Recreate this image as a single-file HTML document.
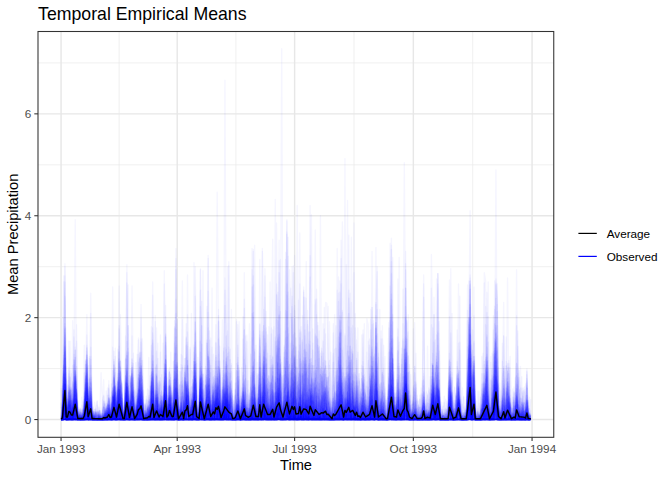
<!DOCTYPE html>
<html><head><meta charset="utf-8"><style>
html,body{margin:0;padding:0;background:#fff;width:672px;height:480px;overflow:hidden}
svg{display:block}
text{font-family:"Liberation Sans",sans-serif}
.ax{font-size:11.73px;fill:#4D4D4D}
.lg{font-size:11.73px;fill:#000}
.at{font-size:14.67px;fill:#000}
.ti{font-size:17.7px;fill:#000}
</style></head><body>
<svg width="672" height="480" viewBox="0 0 672 480">
<rect width="672" height="480" fill="#fff"/>
<line x1="38.0" x2="553.75" y1="368.60" y2="368.60" stroke="#EAEAEA" stroke-width="0.71"/>
<line x1="38.0" x2="553.75" y1="266.70" y2="266.70" stroke="#EAEAEA" stroke-width="0.71"/>
<line x1="38.0" x2="553.75" y1="164.80" y2="164.80" stroke="#EAEAEA" stroke-width="0.71"/>
<line x1="38.0" x2="553.75" y1="62.90" y2="62.90" stroke="#EAEAEA" stroke-width="0.71"/>
<line y1="31.5" y2="437.3" x1="119.13" x2="119.13" stroke="#EAEAEA" stroke-width="0.71"/>
<line y1="31.5" y2="437.3" x1="235.91" x2="235.91" stroke="#EAEAEA" stroke-width="0.71"/>
<line y1="31.5" y2="437.3" x1="353.98" x2="353.98" stroke="#EAEAEA" stroke-width="0.71"/>
<line y1="31.5" y2="437.3" x1="472.70" x2="472.70" stroke="#EAEAEA" stroke-width="0.71"/>
<line x1="38.0" x2="553.75" y1="419.55" y2="419.55" stroke="#E7E7E7" stroke-width="1.42"/>
<line x1="38.0" x2="553.75" y1="317.65" y2="317.65" stroke="#E7E7E7" stroke-width="1.42"/>
<line x1="38.0" x2="553.75" y1="215.75" y2="215.75" stroke="#E7E7E7" stroke-width="1.42"/>
<line x1="38.0" x2="553.75" y1="113.85" y2="113.85" stroke="#E7E7E7" stroke-width="1.42"/>
<line y1="31.5" y2="437.3" x1="61.06" x2="61.06" stroke="#E7E7E7" stroke-width="1.42"/>
<line y1="31.5" y2="437.3" x1="177.20" x2="177.20" stroke="#E7E7E7" stroke-width="1.42"/>
<line y1="31.5" y2="437.3" x1="294.62" x2="294.62" stroke="#E7E7E7" stroke-width="1.42"/>
<line y1="31.5" y2="437.3" x1="413.34" x2="413.34" stroke="#E7E7E7" stroke-width="1.42"/>
<line y1="31.5" y2="437.3" x1="532.06" x2="532.06" stroke="#E7E7E7" stroke-width="1.42"/>
<g transform="translate(61.06,419.55) scale(1.29041,-1.01900)" fill="none" stroke="#0000FF" stroke-opacity="0.04" stroke-width="1.42" stroke-linejoin="round"><path vector-effect="non-scaling-stroke" d="M0 0l1 3 1-3 1 46 1-46h6l1 12 1-12h1l1 3 1-3h1l1 6h1l1 13 1 10 1-23 1 21 1-27h11l1 16 1-16 1 24 1-23 1-1h1l1 32 1-1 1-11 1-20h1l1 13 1-13h2l1 22 1 37 1-55 1-4 1 5 1-5h1l1 8 1-4 1-4h9l1 26 1 7 1-21h1l1-12 1 4 1 6 1-6 1-4h2l1 4 1 79 1-83 1 5 1 11 1-16h11l1 12 1 12 1-18 1-6h1l1 26 1-26h4l1 24 1-24h2l1 10 1 10 1-20h3l1 24 1 5 1 13 1-31 1-7 1-4h2l1 70 1-35 1-35 1 6 1 145 1-151h5l1 73 1-73h1l1 17 1-17h2l1 8 1-8h2l1 14 1-14 1 12 1-8 1-1 1-3h3l1 3 1-3 1 13 1-13h2l1 4 1-4h1l1 36 1-36 1 7 1-5 1-2h2l1 31 1-31h1l1 28 1-15 1-13 1 17 1-15 1-2h5l1 9 1-4 1-5 1 12 1-12h1l1 14 1 16 1-30h2l1 5 1-5h3l1 3 1 13 1-16h5l1 21 1-20 1 9 1-8 1-2h2l1 1 1-1h5l1 46 1-22 1-17 1-7 1 17 1-17h3l1 1 1-1h1l1 2 1 1 1 8 1 19 1-30h9l1 2 1-2h3l1 4 1 8 1-9 1-3h1l1 1 1 28 1-22 1-7 1 5 1-5h3l1 8 1 1 1 1 1-10h7l1 16 1-16h1l1 4 1-4h3l1 34 1-34h2l1 39 1-39h6l1 19 1-10 1 1 1-10h3l1 33 1-33h3l1 2 1 2 1 27 1-31 1 27 1-27h9l1 11 1-11h8l1 35 1-35h4l1 2 1-2h4l1 2 1-2 1 7 1-7h4l1 23 1-23h5"/><path vector-effect="non-scaling-stroke" d="M0 0h5l1 16 1-16h2l1 19 1 42 1-53 1-8 1 1 1-1 1 4 1-4h2l1 12 1-12h1l1 59 1-59h10l1 12 1-12h3l1 24 1-20 1-4 1 9 1 28 1-37h4l1 21 1 3 1-8 1-8 1 8 1-16 1 23 1-21 1-2h7l1 2 1-2h1l1 6 1 35 1-41 1 2 1-2 1 12 1-12h3l1 7 1-7h2l1 9 1 13 1-17h1l1-5h8l1 49 1-46 1 13 1-16h3l1 36 1-36h7l1 13 1-13 1 8 1-8h1l1 6 1-6h4l1 72 1-72h1l1 5 1-5 1 1 1 28 1 5 1-12 1-22h3l1 14 1-6 1 14 1-22h2l1 2 1-2h10l1 72 1-72 1 7 1 1 1-2 1-6 1 27 1-23 1 6 1-1 1-9 1 5 1 34 1-36 1 3 1-6 1 15 1-15h2l1 1 1-1 1 1h1l1 11 1-12h1l1 2 1-2h1l1 12h1l1-12 1 2 1-2h1l1 47 1-36 1 28 1-39 1 8 1-8h10l1 11 1 41 1 6 1-58h1l1 56 1-44 1-7 1-5h4l1 26 1-26h3l1 42 1-42h2l1 104 1-91 1-13h3l1 19 1 16 1-8 1-27h1l1 5 1 3 1-8h1l1 1 1 59 1-42 1-18h7l1 15 1-10 1 12 1-9 1-1 1-7h1l1 18 1-12 1-6h3l1 101 1-96 1-5 1 6 1-2 1 4 1-4 1-4h8l1 2 1 4h1l1-5 1 12 1 8 1 99 1-113 1-7h6l1 1 1 1 1-2 1 10 1-7 1-3h5l1 1 1-1h3l1 3 1-3h2l1 12 1-12h6l1 35 1-35 1 3 1-3 1 22 1-7 1-15h4l1 36 1-36h14l1 49 1-49 1 7 1-7h2l1 7 1 2 1-4 1-5 1 2 1-2"/><path vector-effect="non-scaling-stroke" d="M0 0h2l1 11 1 1 1 2 1-14h3l1 42 1-34 1 12 1-20h5l1 19 1 26 1-45h2l1 2 1-2h3l1 1 1-1h6l1 4 1-4h6l1 31 1-31h1l1 13 1-13 1 15 1-15h1l1 12 1-8 1-4h1l1 1 1-1h1l1 23 1-23 1 55 1-40 1-14 1-1 1 5 1-2 1-3 1 6 1 12 1-18h2l1 67 1-59 1 1 1 2 1-11 1 8 1-8h2l1 6h1l1-6h10l1 8 1 6 1-11 1-3h7l1 2 1-2 1 21 1-9 1-8 1-4h7l1 19 1-4 1-4 1 8 1-19h1l1 3 1-3h1l1 12 1-12 1 4 1 2 1-6h3l1 10 1-10h1l1 21 1-4 1-13 1-4h3l1 26 1-26h2l1 1 1 4 1-5 1 65 1-65h1l1 17 1 10 1-27h1l1 5h1l1-5h2l1 13 1-8 1 44 1-40 1-9h5l1 24 1 9 1-6 1-7 1-18 1-2h11l1 18 1-18h1l1 5 1-5h9l1 8 1-8h3l1 6 1-6h2l1 51 1-51h2l1 21 1-11 1-10 1 45 1-21 1 12 1-32 1-4h5l1 7 1 11 1 76 1-69 1-17 1-8h1l1 2h1l1-2h5l1 9 1 19 1-28h2l1 1 1 20 1 7 1-28 1 22 1-22h2l1 3 1-3h5l1 28 1-14 1-14h2l1 5 1 3 1-2 1-6h14l1 9 1-9 1 3 1 4 1-7 1 3 1-2 1-1h2l1 46 1-46h4l1 37 1-9 1-28h7l1 14 1-14h1l1 17 1-17h7l1 23 1 24 1-44 1 2 1-5h10l1 5 1-2 1-3h1l1 2 1 2 1-4 1 6 1-6h2l1 9 1 16 1 17 1-42h1l1 2 1 14 1-12 1 3 1-7"/><path vector-effect="non-scaling-stroke" d="M0 0h5l1 19 1-13 1-6 1 2 1 62 1-64h7l1 6 1-6 1 4 1 36 1-40h11l1 11 1-11h5l1 26 1-26 1 21 1-11 1-10 1 35 1-35h2l1 19 1-19h2l1 39 1-20 1-19h4l1 19 1-19h4l1 2 1 8 1-10 1 42 1-42 1 9 1-9 1 22 1-22h1l1 18 1-13 1-5 1 53 1-53h2l1 4 1-4h2l1 21 1-21h2l1 13 1 10 1-23h1l1 8 1 26 1-27 1 1 1-8h1l1 19 1-19h4l1 12 1 3 1-15 1 6 1 28 1-26 1-8h2l1 18 1-18h2l1 31 1-31 1 37 1 61 1-94h1l1 22 1-20 1-6h5l1 5 1 42 1-47h1l1 6 1-6h1l1 27 1-18 1-8 1-1h1l1 6 1-6h3l1 4 1 2 1-6h1l1 52 1-52h5l1 3 1-3 1 4 1 52 1 24 1-47 1-9 1-22 1-1 1-1h2l1 2 1-2h7l1 16 1-16 1 10 1-10h1l1 19 1-19h5l1 2 1 80 1-16 1 5 1-60 1 40 1-50 1-1h1l1 2 1-2h5l1 5 1-3 1-2h4l1 21 1-19 1-2h3l1 3 1-3h7l1 15 1-12 1-3h1l1 1h1l1 29 1-15 1 14 1 1 1-30h6l1 5 1 1 1 60 1-25 1-29 1-12h2l1 3 1-3h5l1 26 1 40 1-66h11l1 7 1-7 1 16 1-16 1 5 1 1 1 13 1 23 1-41 1-1 1 6 1 11 1 6 1-23h2l1 23 1-23h2l1 39 1-28 1-7 1-4h1l1 3 1 9 1 37 1-42 1-7h2l1 6 1-4 1-2h1l1 16 1-16 1 56 1-43 1-4 1-8 1-1h3l1 4 1 26 1-30 1 3 1-3h2l1 6 1 14 1-7 1 106 1-119h1l1 36 1-36h3l1 3 1 8 1-11h2l1 6 1-2 1-4 1 48 1 24 1-52 1-20h4l1 12 1-12 1 1 1-1"/><path vector-effect="non-scaling-stroke" d="M0 0h1l1 8 1-8h2l1 19 1-1 1-18h1l1 17 1-17h11l1 21 1-21h1l1 4 1-2 1-2h5l1 6 1-6 1 14 1-14h2l1 6 1-6h2l1 29 1-29h4l1 13 1 23 1-14 1-22 1 14 1-14h2l1 12 1-12 1 19 1-19h2l1 3 1-1 1-2h3l1 11 1 17 1-28h1l1 21 1-21 1 5 1-5h2l1 23 1-4 1-11 1-8h1l1 16 1-16h1l1 14 1 144 1-136 1-20 1-2 1 16 1-16h1l1 46 1-46 1 24 1 6 1-8 1-16 1-3 1 28 1 15 1-43 1-3h2l1 22 1-22h3l1 18 1 22 1-31 1-9h4l1 22 1-9 1-2 1-11 1 13 1-8 1 20 1-25h1l1 2 1 36 1-38h13l1 13 1-4 1 5 1-14h3l1 47 1-47 1 28 1-28h2l1 6 1-4 1-2h10l1 9 1 38 1-39 1-8h2l1 55 1-29 1 11 1-37h5l1 10 1-6 1-2 1 18 1 1 1-20 1 40 1-41 1 5 1 53 1-58 1 1h1l1 3 1-2 1-1 1 10 1 21 1-27 1 11 1-16h3l1 5 1-5 1 5 1-5 1 3 1-3 1 10 1-10h1l1 2 1 7 1 110 1-41 1-78 1 11 1-5 1-6h3l1 27 1-17 1-8 1-2h1l1 5h1l1 2 1 10 1 7 1-20 1 35 1-34 1 70 1-75h2l1 11 1 62 1-73h2l1 5 1 7 1-12 1 11 1-11 1 1 1 5 1 13 1-19h2l1 79 1-47 1-32h1l1 14 1-14h16l1 12 1-12h1l1 20 1-19 1 44 1-45h1l1 3 1 1 1-4h3l1 24 1-23 1-1h13l1 128 1-116 1-12 1 1 1-1h1l1 7 1-7 1 9 1-9h2l1 49 1-38 1-11 1 9 1-9h2l1 30 1 49 1-79 1 5 1-5 1 7 1 16 1-23h1l1 10 1 12 1-22 1 15 1-15h3l1 13 1-6 1-7h5l1 5 1-5h2"/><path vector-effect="non-scaling-stroke" d="M0 0l1 12h1l1 2 1-2 1-12h3l1 17 1-17h12l1 10 1-10h12l1 5h1l1-5h7l1 6 1-6h1l1 16 1 29 1 87 1-132h14l1 20 1-20h3l1 10 1-10h6l1 15 1-15 1 12 1-12 1 21 1-17h1l1 15 1-19 1 20 1-20h4l1 16 1-11 1-5h4l1 33 1-22 1-11h3l1 13 1-1 1-12 1 6 1 11 1 18 1-2 1-30h1l1-3h2l1 32 1-4 1-28h1l1 1 1-1h1l1 30 1-30h3l1 3 1 9 1-12h5l1 8 1-8 1 1 1 16 1-8 1 2 1-11h2l1 16 1-16h3l1 1 1 26 1-27h2l1 11 1-9 1-2h1l1 35 1-35 1 7 1 3 1-10 1 10 1 34 1-39 1 6 1-11h2l1 16 1-12 1-4h2l1 4 1 67 1-52 1-12 1-7h2l1 34 1-34h3l1 1 1 7 1-8h3l1 3 1-3h2l1 11 1-11h8l1 17 1-14 1 12 1 5 1-12 1-7 1-1h8l1 5 1-5h7l1 3 1 3 1 67 1-62 1-11h5l1 9 1 5 1 32 1-46 1 2 1-1 1-1h3l1 9 1-6 1-3h3l1 1 1 5 1 8 1-10 1 125 1-113 1-16h18l1 55 1-48 1 2 1 10 1 30 1 18 1-62 1-1 1-4 1 1 1-1h10l1 12 1-12h1l1 2 1 8 1-10h2l1 22 1-14 1 15 1-23h6l1 25 1-3 1 39 1-61 1 5 1-5h2l1 22 1-17 1 37 1 64 1-106h1l1 2 1-1 1-1h3l1 10 1 5 1-15h1l1 27 1-27 1 1 1 3 1 10 1-11 1-3h3l1 18 1-18h1l1 2"/><path vector-effect="non-scaling-stroke" d="M0 0h1l1 34 1 1 1-35h8l1 7 1-7h4l1 6 1 26 1-25 1 12 1 7 1-14 1-12 1 3 1-3h6l1 5 1 5 1 4 1-14h2l1 27 1-9 1-18 1 6 1 15 1 23 1 13 1-57h1l1 6 1 6 1 122 1-103 1-31h4l1 4 1 4 1 20 1-13 1-15h4l1 12 1-12 1 20h1l1-3 1-15 1-2h1l1 6 1 9 1-9 1-6h2l1 6 1-6h3l1 3 1-3h1l1 10 1 19 1-29h5l1 14 1 14 1-28h2l1 13 1-8 1 14 1-7 1-12h6l1 20 1 10 1-30h1l1 8 1 17 1-25h5l1 32 1-6 1-8 1 15 1-16 1-8 1 18 1-12 1-15h6l1 2 1-2 1 13 1-13h2l1 3 1-3h1l1 51 1-48 1-3 1 20 1-20 1 4 1-4h2l1 4 1-2 1 15 1-17h1l1 15 1-15h3l1 40 1-40 1 12 1-12h2l1 7 1-7h1l1 8 1 11 1-11 1 20h1l1-28h1l1 14 1 1 1-15h1l1 1 1-1h4l1 24 1-24h8l1 3 1-1 1-2 1 6 1-3 1 4 1-7h1l1 8 1-2 1 29 1 81 1-116h4l1 6 1 40 1-46h1l1 1 1-1h2l1 6 1-6h1l1 17 1-17h2l1 14 1-14h3l1 34 1-18 1-15 1-1 1 28 1-28h1l1 29 1-29h5l1 4 1 19 1-23h2l1 16 1-16h9l1 11 1-11 1 22 1-2 1-20h4l1 7 1-7h1l1 10 1-10 1 16 1-14 1 1 1 7 1-6 1 2 1 9 1 128 1-143h1l1 3 1-3h7l1 6 1-6h4l1 5 1-5h2l1 2 1 46 1-15 1 10 1 21 1-64 1 22 1-22h4l1 45 1-40 1-5h1l1 8 1-6 1-2h4l1 44 1-44h4l1 10 1-10h1l1 19 1-7 1-8h1l1-4h4l1 7 1 24 1-31h7"/><path vector-effect="non-scaling-stroke" d="M0 0h1l1 7 1 83 1-90h13l1 18 1 3 1-3 1-18h16l1 2 1-2 1 38 1 19 1-57h3l1 19 1 17 1-36h1l1 14 1-14h7l1 14 1-14 1 7 1-7 1 36 1-32 1-3 1-1h1l1 18 1-18h4l1 24 1-24h2l1 5 1-5 1 11 1-11h1l1 23 1-23 1 6 1 22 1-15 1-13h5l1 5 1-5 1 14 1 7 1-4 1-17h8l1 49 1-42 1-7 1 2 1-2 1 39 1 28 1-63 1-4h1l1 27 1-27h1l1 13 1 9 1-2 1-20h2l1 11 1-11 1 33 1-33 1 17 1 13 1-24 1-6h1l1 1 1 14 1-15h1l1 26 1-26h7l1 3 1 22 1-25 1 3 1-3 1 9 1-9 1 86 1-70 1-16h3l1 135 1-135 1 9 1-9 1 13 1 8 1-20 1-1h3l1 14 1 17 1-31 1 52 1-46 1 22 1 22 1-50h8l1 1h1l1-1 1 26 1 9 1-17 1 7 1-21 1 3 1 1 1-8 1 23 1-23h2l1 27 1-27h5l1 14 1-14h4l1 21 1-21h1l1 10 1 36 1-43 1-3h1l1 10 1-5 1-5 1 11 1-11 1 10 1-10h10l1 57 1-57h11l1 17 1 17 1-21 1-12 1-1h3l1 4 1-4h2l1 26 1-26 1 6 1-6h15l1 5 1-5 1 21 1-21h1l1 17 1-17h4l1 2 1-2h2l1 32 1-32h1l1 5 1-5h10l1 68 1-68h2l1 19 1-19h5l1 1 1 4 1 12 1-10 1-7h1l1 56 1-44 1-12 1 44 1-2 1-42h1l1 18 1-18h3l1 18 1 3 1-21h5l1 25 1-25h3l1 31 1-28 1-3h2l1 3 1 17"/><path vector-effect="non-scaling-stroke" d="M0 0h2l1 17 1-17h4l1 14 1 35 1 9 1-58h1l1 12 1-11 1-1h3l1 12 1-12h5l1 5 1 2 1-7h1l1 3 1 1 1 35 1-39h2l1 7 1-3 1-4 1 23 1-23 1 70 1-70h2l1 3 1 24 1-27h10l1 24 1-11 1-13h10l1 8 1-8h6l1 27 1 57 1-82 1-2 1 39 1-39h1l1 10 1-10 1 13 1-13h2l1 5 1-5h1l1 17 1 4 1 2 1-23 1 9 1 1 1-10 1 10 1 29 1-39 1 5 1-5h1l1 27 1-18 1-9h1l1 6 1 11 1-17h2l1 3h1l1 21 1-5 1-19 1 29 1-29h1l1 8 1-8h1l1 7 1 2 1-9h5l1 16 1-14 1-2 1 11 1-10 1 4 1 7 1 26 1-38h2l1 35 1 5 1 7 1-47 1 6 1-6h2l1 5 1 1 1-1 1 5 1-10h1l1 34 1-17 1-12 1-5 1 7 1 2 1 22 1-27 1 41 1-45 1 6 1-1 1 4 1-9h2l1 41 1-41h1l1 4 1-4h2l1 14 1-10 1 28 1-17 1 17 1-32h2l1 8 1-8 1 22 1-22 1 11 1 23 1-10 1-24 1 13 1-13 1 6 1-6 1 8 1-7 1 26 1-27h1l1 2 1-2h2l1 5 1-5h6l1 10 1-10h1l1 115 1-115h3l1 7 1-7h1l1 2 1-2 1 16 1-16h1l1 6 1-6h1l1 11 1-9h1l1 14 1-2 1-14h2l1 1 1-1h5l1 12 1-5 1-7h4l1 2 1-2 1 5 1 5 1 28 1-18 1-20 1 2 1-2 1 4 1-4 1 7 1-2 1-3 1-2h2l1 23 1 22 1-42 1-3 1 5 1-5h2l1 17 1-17 1 24 1-9 1 23 1-38h9l1 7 1-7h2l1 1 1 7 1 10 1-18 1 4 1-4h2l1 15 1 85 1-33 1-53 1-14h11l1 10 1-10h3l1 108 1-53 1 4 1-46 1-13h1l1 3 1 17 1-20h1l1 17 1-16 1 4 1-5h7l1 5 1-5 1 4 1-2 1 4 1-1 1-5h1"/><path vector-effect="non-scaling-stroke" d="M0 0h1l1 32 1 48 1-80h1l1 20 1-8 1-12h1l1 13 1 16 1-10 1-19 1 4 1-4 1 3 1 6 1-9h4l1 2 1-2 1 7 1-7h8l1 10 1-1 1-9h3l1 6 1-6h1l1 16 1 4 1 31 1-51h1l1 6 1-6h3l1 13 1 43 1-17 1-39h1l1 14 1 15 1 3 1 81 1-113h4l1 2 1 12 1 14 1 50 1-64 1 12 1-11 1-15h14l1 2 1-2h12l1 64 1-52 1-12h2l1 47 1-23 1-24h1l1 32 1-10 1-22 1 2 1 17 1-1 1-6 1 35 1-20 1-27h1l1 3 1-3 1 26 1-26h3l1 3 1-3h3l1 1 1 55 1-56h7l1 11 1-4 1-5 1-2h7l1 57 1-26 1-9 1-22h2l1 6 1-6h2l1 3 1-3h2l1 3 1 1 1 1 1 45 1-13 1-37h1l1 2 1 65 1-52 1-15h1l1 9 1-9h2l1 7 1-7h2l1 3 1-3 1 1 1-1h2l1 4 1-4h6l1 30 1-30 1 13 1 8 1-21 1 1 1 19 1-20 1 16 1-16 1 9 1-2 1 7 1-10 1-4h1l1 4 1-4h7l1 2 1-2 1 2 1-2 1 43 1-31 1-12h3l1 2 1-2 1 1 1-1 1 19 1-19h1l1 1 1 3 1-4 1 10 1 9 1-18 1-1h3l1 14h1l1-13h1l1-1 1 20 1-20h1l1 8 1 2 1-2 1 7 1-15h3l1 2 1-2h8l1 5 1-5h1l1 30 1-29 1 17 1 85 1-101 1 9 1-11 1 18 1-18h6l1 13 1-13h5l1 32 1-30 1-2h4l1 27 1-27 1 47 1-47 1 14 1-14h1l1 3 1-3h3l1 27 1-27h2l1 1 1-1h3l1 17 1 117 1-122 1-12h2l1 19 1-6 1-13 1 7 1 21 1 7 1-28 1-7h1l1 21 1-21 1 17 1-17h6l1 18 1-15h1l1-3"/><path vector-effect="non-scaling-stroke" d="M0 0l1 3 1-3 1 85 1-64 1-21h3l1 7 1 20 1 1 1-28h1l1 3 1-3h1l1 2 1-2h1l1 12 1-12 1 19 1-14 1-5h3l1 4 1-4h7l1 38 1-38h1l1 6 1-6h1l1 9 1 22 1-31h5l1 10 1-1 1-3 1 19 1 26 1-51h2l1 10 1-4 1 7 1-13h2l1 1 1-1h1l1 4 1-4h3l1 29 1-29h2l1 14 1-14h2l1 45 1-45h1l1 6 1 27 1-17 1-7 1 36 1 26 1-31 1-40h1l1 5 1-5h2l1 2 1-2h1l1 4 1 1 1 30 1-35h4l1 2 1-2 1 16 1-16h3l1 39 1-30 1 1 1 26 1-36h2l1 5 1-5h3l1 8 1-8h3l1 2 1-1 1-1h1l1 16 1-16 1 18 1-17 1 4 1 9 1-14h1l1 12 1-9 1 4 1-5 1-2h5l1 2 1-2 1 15 1-15 1 39 1-39h2l1 10 1-10h2l1 17 1 10 1-26 1 143 1-126 1-14 1-3 1 10 1-11h2l1 14 1-12 1-2h3l1 27 1-27 1 88 1-88h3l1 15 1-15h1l1 6 1 27 1-28 1-5h4l1 3 1-3h1l1 1h2l1-1h8l1 11 1 147 1-157 1-1 1 15 1-12 1 27 1-20 1-10h6l1 38 1-38h7l1 5 1 5 1-10h6l1 13 1-13h3l1 7 1-7h2l1 12 1-12h6l1 5 1-5h4l1 2 1-2 1 3 1-3h8l1 16 1-12 1-4 1 6 1 19 1-25h1l1 6 1 43 1-16 1-32 1-1 1 13 1-13h10l1 11 1-11h6l1 22 1 20 1-42 1 26 1 17 1-43 1 3 1-3h1l1 8 1 7 1-15 1 24 1-24h5l1 9 1-9 1 26 1-18 1-8h6l1 13 1-3 1-10h4l1 18 1-18h6l1 10 1-10h1l1 6"/><path vector-effect="non-scaling-stroke" d="M0 0h1l1 45 1-10 1-35h1l1 34 1-10 1-24 1 97 1-87 1-10 1 12 1-6 1-6h3l1 27 1-27h1l1 15 1-15h11l1 9 1 2 1-11h2l1 17 1-2 1-15h4l1 58 1-58h4l1 5 1-5 1 6 1-6h5l1 11 1 12 1-23h1l1 5 1-5h9l1 1 1 13 1-11 1-3h3l1 3 1-3 1 11 1-11 1 6 1-6h1l1 13 1-13h1l1 8 1-8h1l1 17 1 3 1-20h4l1 24 1 22 1-46 1 1 1-1 1 9 1 21 1-30h2l1 12 1 24 1 12 1-48h4l1 9 1 4 1-13h4l1 7 1 143 1-150h1l1 5 1-5h4l1 48 1-44 1 2 1-6 1 18 1 2 1 57 1-75 1 24 1-26 1 19 1 148 1-167h1l1 2 1 3 1-5 1 10 1 34 1 22 1-66h2l1 43 1-32 1-11 1 9 1 1 1 16 1-26h5l1 5 1-5h1l1 2 1-2h1l1 53 1-46 1 2 1 2 1-2 1 36 1-33 1-11 1-1 1 49 1 11 1-60h5l1 47 1-39 1-5 1 7 1-10h1l1 15 1-15 1 25 1 6 1-31h3l1 1 1-1h1l1 3 1-3 1 31 1-31h4l1 3 1-3h5l1 14 1-13 1-1h2l1 2 1 11 1-13h3l1 8 1-8h1l1 1 1-1 1 22 1 5 1-27 1 9 1 27 1-36h4l1 1 1 22 1-23h2l1 14 1-14h5l1 24 1 21 1-45 1 6 1-6 1 10 1-10h13l1 7 1-7h2l1 8 1-8 1 73 1-46 1-27h3l1 5 1-5h1l1 15 1-15h5l1 22 1-22h5l1 1 1 18 1-19h3l1 4 1-4h4l1 8 1-3 1-5h1l1 10 1-6 1-4h1l1 102 1-102h2l1 6 1-4 1-2h3l1 9 1 2 1 3 1-10 1-2 1 6 1-8h2l1 6 1-6h9"/><path vector-effect="non-scaling-stroke" d="M0 0h2l1 66 1-66h4l1 7 1 8 1-15 1 29 1-29 1 8 1-8h3l1 3 1 22 1-25h13l1 3 1-1 1-2h3l1 24 1-4 1 1h1l1 71 1-81 1 6 1-17h2l1 30 1-30h8l1 31 1 18 1-41 1-8h4l1 9 1 8 1 24 1-29 1 1 1 8 1-11 1-10h1l1 8 1-1 1 16 1 58 1-71 1-10 1 10 1-10h1l1 7 1-7 1 34 1-22 1-12h6l1 8 1-8h9l1 3 1-3h9l1 76 1-35 1-8 1-33h11l1 1 1 2 1 12 1-15h1l1 7 1-7h3l1 1h1l1-1h1l1 21 1 150 1-113 1-58h1l1 9 1-9 1 2 1 9h1l1 5 1-13 1-3h2l1 4 1-4h1l1 12 1-12 1 24 1-24h1l1 3 1 24 1 4 1 50 1-79h1l1-2 1 5 1-5 1 4 1-4h1l1 4 1-4h3l1 2 1 10 1-10 1-1 1 3 1-4h2l1 49 1-39 1-10h2l1 6h1l1-6h7l1 10 1-10h6l1 21 1-21 1 19 1-9 1-10h4l1 12 1-9 1-3h3l1 44 1-34 1 1 1-11h1l1 27 1 16 1-43 1 2 1 27 1-29h8l1 36 1 31 1 100 1-167 1 6 1-6h1l1 2h1l1 3 1-5h1l1 4 1 32 1-15 1-21h2l1 3 1 4 1-7h2l1 18 1-18h2l1 8 1-7h1l1-1 1 7 1-7h1l1 24 1-24 1 3 1-3h1l1 14 1-13 1-1h3l1 1 1-1 1 31 1-28 1-1 1-2h8l1 4 1-4 1 3 1 60 1 15 1-67 1-11 1 21 1-21h2l1 1 1 1 1 5 1 6 1 18 1-31h3l1 4 1-4h6l1 2 1 19 1-14 1-7 1 11 1-11 1 16 1-16h3l1 6 1-6h5l1 8 1-8 1 1 1-1h2"/><path vector-effect="non-scaling-stroke" d="M0 0h2l1 34 1-34h5l1 10h1l1 10 1-20h7l1 3 1-3h1l1 8 1-8h13l1 12 1-12 1 31 1 2 1-33h7l1 8 1 2 1-5 1-5h6l1 46 1-30 1-16h2l1 4 1-4 1 9 1-9h5l1 21 1-21h2l1 10 1 7 1-17h7l1 31 1-31h2l1 24 1 29 1-53h2l1 76 1-76h1l1 1 1 4 1-2 1-3h1l1 1 1 24 1 26 1-51 1 13 1-13 1 33 1-5 1-9 1-19h4l1 18 1-18 1 15h1l1-15 1 22 1-15 1-7 1 28 1-28h19l1 6 1-6 1 12 1 13 1-21 1 8 1-12h8l1 15 1-15h2l1 8 1 3 1 1 1-11 1-1h3l1 12 1-11 1-1 1 45 1 1 1-46h3l1 3 1-3h2l1 20 1-16 1-4h2l1 3 1-3h2l1 33 1-33 1 30 1-26 1-4h3l1 8 1-8h2l1 2 1-2h6l1 7 1-7h1l1 9 1 1 1-10h2l1 18 1-18h6l1 2 1-2h6l1 8 1-3 1 5 1 74 1-43 1-41h1l1 6 1-6h5l1 12 1 48 1-57 1-3 1 18 1 32 1 26 1-69 1-3 1-4 1 69 1-2 1-55 1-12 1 20 1-20h1l1 33 1-7 1-26h5l1 7 1-7h1l1 1 1 6 1-7h1l1 30h1l1 10 1 12 1 81 1-128 1-5h2l1 1 1-1h8l1 15 1-4 1-11h19l1 25 1 2 1-27 1 1h1l1-1 1 42 1-14 1-28 1 28 1-28h2l1 6 1-6h6l1 2 1-2h1l1 8 1-8h5l1 16 1 3 1-19h2"/><path vector-effect="non-scaling-stroke" d="M0 0h6l1 21 1-21h8l1 4 1 42 1-38 1-8h1l1 10 1-10h1l1 1 1-1h9l1 11 1-11h2l1 8 1 17 1-25h1l1 13 1 53 1-14 1-52 1 1 1-1h4l1 16 1 29 1-45h4l1 32 1 16 1-48h6l1 21 1 9 1-30 1 21 1 3 1 51 1-75 1 10 1-10 1 5 1-5h6l1 10 1-10h6l1 4 1-4 1 6 1-6h1l1 8 1-8h6l1 33 1-33h4l1 29 1-29h2l1 17 1-17 1 10 1 17 1-13 1-14h2l1 3 1-3h3l1 24 1-12 1-12h2l1 48 1-14 1-30 1-4 1 16 1 30 1-46h3l1 2 1-2h3l1 14 1-9 1-5 1 6 1-6h5l1 3 1-3 1 7 1-7 1 4 1 13 1 11 1-19 1 22 1-25 1 4 1-10 1 12 1-9 1 7 1-10h3l1 1 1 13 1-11 1 34 1-27 1-10h1l1 15 1-15h2l1 2 1-2h4l1 48 1-43 1 21 1-22 1-4 1 1h1l1-1h4l1 7 1-7h1l1 5 1-5h1l1 8 1-3 1-5h9l1 12 1-12 1 50 1-50 1 40 1-26 1-14 1 4 1-4h1l1 13 1-13h3l1 7 1-4 1 6 1-6 1-3h7l1 10 1-10h1l1 4 1-4 1 22 1-22 1 3h1l1 3 1 53 1-37 1-5 1-17 1 9 1 5 1-11 1-3h1l1 7 1-1 1-6h2l1 8 1 1 1-9h2l1 6 1-6h8l1 30 1-30h1l1 5 1-5h3l1 3 1-3h3l1 5 1-5 1 7 1 7 1-14h5l1 3 1-3 1 9 1-6 1 18 1-21h5l1 1 1-1 1 59 1-59 1 5 1-5h1l1 11 1 31 1-42 1 57 1-57 1 2 1 4 1-4 1 9 1 71 1-77 1 2 1 8 1 3 1-18h2l1 14 1-14h1l1 4 1-4h4l1 11 1-11h3"/><path vector-effect="non-scaling-stroke" d="M0 0l1 2 1 7 1 19 1-23 1 1 1 17 1 18 1-41 1 5 1 13 1 2 1-6 1-14h6l1 49 1-49h13l1 1 1-1 1 1 1 1 1-2h2l1 36 1-34 1-2h4l1 2 1 14 1-16 1 20 1-9 1 9 1-20h6l1 20 1-7 1-13h2l1 2 1 11 1-13h7l1 83 1-74 1-9 1 38 1-38 1 1 1 6 1-7h1l1 8 1-8h1l1 38 1-38h2l1 4 1 29 1-33h1l1 73 1-44 1-29h1l1 22 1-22 1 48h1l1-48h4l1 2 1-2h1l1 5 1 17 1 6 1-20 1 9 1-17h2l1 13 1 23 1 13 1-49 1 4 1 29 1 11 1-30 1 1 1-15h9l1 3 1 5 1-8h5l1 13 1-13h4l1 46 1-46 1 5 1-5 1 18 1 16 1-23 1-11h2l1 2 1-2h5l1 1 1-1 1 2 1-2 1 16 1-12 1-4 1 3 1-3h4l1 36 1 11 1-46 1 1 1-2h3l1 55 1-55h1l1 25 1-8 1-11 1-6 1 31 1-31h9l1 16 1 5 1-21h1l1 8 1-8h3l1 3 1 12 1-9 1-6 1 18 1-18 1 58 1-46 1-12h5l1 3 1-3 1 14 1-8 1-6h1l1 8 1-8 1 10 1-10 1 4 1-1 1-3 1 10 1-10h5l1 5 1 24 1-26 1-3 1 64 1-64h5l1 13 1-13h3l1 28 1-28h9l1 6 1-6h1l1 3 1-3h1l1 3 1 2 1-5h2l1 3 1 16 1-19h1l1 3 1-3h3l1 2 1 15 1 6 1-23h11l1 27 1 17 1-16 1-14 1-14 1 1 1-1h4l1 10 1-10h6l1 19 1 25 1-17 1 29 1-38 1 7 1-25h2l1 38 1-38h2l1 2 1-2h6l1 2 1 12 1 3 1-7 1 19 1-17 1-12h3"/><path vector-effect="non-scaling-stroke" d="M0 0l1 14 1-14 1 10 1-10h3l1 5 1-3 1 20 1 2 1-14 1-10h5l1 18 1-18 1 24 1-15 1-9h9l1 5 1-5 1 4 1-4 1 11 1-7 1-4h1l1 24 1-16 1-8h7l1 32 1-32h1l1 5 1 3 1 21 1-25 1-4 1 20 1-20 1 38 1-22 1-16h9l1 2 1 52 1-50 1-4h5l1 26 1-26h5l1 6 1-3 1-3h6l1 14 1-14h8l1 30 1-30h4l1 35 1-35h12l1 8 1-8h4l1 1 1-1h3l1 1 1-1h4l1 38 1-38h1l1 130 1-130h3l1 19 1 32 1-51h3l1 11 1-5 1 2 1-6 1 25 1-27h1l1 6 1-6h3l1 1 1-1h6l1 4 1-4h3l1 7 1-7h6l1 1h1l1-1 1 1 1-1h4l1 7 1-7 1 8 1-8 1 5 1-5h1l1 20 1-20h4l1 17 1-17 1 102 1-99 1-3h4l1 56 1-56h2l1 17 1-17h1l1 11 1-11h2l1 49 1-49h8l1 82 1-63 1-19 1 6 1-6h5l1 39 1 20 1 9 1-68 1 3 1 19 1-22 1 2 1-2h4l1 69 1-18 1-49 1-2h3l1 10 1-10h1l1 1 1-1h3l1 3 1-3 1 8 1-8h2l1 7 1-7h11l1 137 1-118 1-19h5l1 18 1-18h4l1 10 1-10 1 7 1-5 1-2 1 24 1-21 1-3 1 8 1-8h2l1 31 1-31h1l1 28 1-26 1-2h7l1 7 1-7h4l1 3 1-3h2l1 7 1-1 1-6h12"/><path vector-effect="non-scaling-stroke" d="M0 0h1l1 1 1 8 1-8 1 14 1-4 1 6 1 8 1-25h2l1 7 1-7h1l1 9 1-4h1l1-5h4l1 17 1-17h13l1 5 1-5h1l1 38 1-38 1 3 1-3 1 31 1-31h2l1 3 1 14 1-17h2l1 14 1 17 1-28 1-3 1 3 1-3 1 13 1-8 1-5 1 19 1-17 1-2h3l1 10 1 23 1-33 1 8 1-8 1 42 1-20 1-22 1 17 1-10 1-7h1l1 24 1-24h7l1 6 1 3 1 1 1-10h5l1 19 1 5 1 1 1-25h6l1 46 1-16 1-28 1 40 1-42h2l1 5 1-5h2l1 20 1-20h1l1 7 1-4 1-3h1l1 19 1 42 1-61h1l1 5 1-5h3l1 15 1-15h3l1 15 1-15 1 13 1 12 1-25 1 5 1-5 1 13 1 19 1-13 1-17 1-2h1l1 37 1-37 1 11 1 18 1-29 1 1 1-1 1 43 1-43h6l1 31 1 24 1-51 1-4h3l1 37 1-37h1l1 10 1-3 1-7 1 80 1-73 1-7 1 1 1-1 1 1 1-1 1 18 1-15 1 24 1-27h5l1 27 1-8 1-19h2l1 1 1 5 1-6h1l1 6 1 6 1-12h6l1 9 1 65 1 120 1-194 1 10 1 48 1-47 1-11h17l1 52 1-11 1-36 1-5h11l1 2 1-1 1-1 1 3 1 2 1 30 1-35h2l1 12 1-12 1 8 1-8 1 21 1-13 1 10 1-16 1-2 1 12 1-12h3l1 6 1-3 1 35 1-36 1-2 1 4 1-4h5l1 8 1-8h9l1 85 1-46 1-39 1 8 1-8 1 5h1l1 3 1-8h4l1 9 1 1 1-10h8l1 1 1-1 1 14 1-14h3l1 62 1-43 1-10 1-9h5l1 1 1 2 1 18 1-10 1-11h18"/><path vector-effect="non-scaling-stroke" d="M0 0h9l1 13 1-13h1l1 4 1-4 1 8 1-8h4l1 9 1-9h7l1 12 1-12h6l1 4 1-1 1-3h4l1 6 1 23 1-4 1-14 1-11h1l1 63 1-63h6l1 8 1 17 1-25 1 53 1-48 1-3 1 4 1 13 1-19h7l1 8 1-8h1l1 14 1-14h1l1 20 1-20h12l1 1h1l1 13 1 72 1-86 1 5 1-5h6l1 21 1-21 1 21 1-21h6l1 3 1 6 1 42 1-5 1-15 1-19 1-12 1 8 1-8h1l1 5 1-5 1 7 1-7h3l1 14 1-6 1-1 1-7h4l1 11 1 4 1-15h2l1 2 1-2 1 1 1 11 1-7 1-5h10l1 31 1 60 1-91 1 193 1-188 1 37 1-23 1-19 1 3 1 13 1 1 1 5 1 62 1-84h2l1 22 1 79 1-101h3l1 3 1 11 1-14 1 120 1-97 1-11 1 18 1-4 1-26 1 75 1-75 1 7 1-7h5l1 44 1-33 1-11h8l1 2 1-2 1 12 1 12 1-24h1l1 1 1-1h1l1 11 1 16 1-27h1l1 1 1 4 1-5h5l1 3 1 3 1 5 1-11 1 5 1 47 1-49 1-2 1 70 1-70 1-1h7l1 17 1 20 1 81 1-99 1-18 1-1h8l1 13 1-8 1-5h3l1 14 1-14h2l1 2 1-2 1 24 1-24h3l1 6 1 2 1 6 1 18 1-11 1-21h1l1 22 1-22h5l1 3 1-3h7l1 17 1-2 1-15h4l1 4 1-4 1 40 1-40 1 19 1-2 1-17h4l1 15 1-11 1-4 1 93 1-93h7l1 12 1-12h2l1 11 1-11h2l1 8 1-8h1l1 4 1-4h3l1 4 1-4 1 1 1-1h1l1 1 1-1h4"/><path vector-effect="non-scaling-stroke" d="M0 0h1l1 43 1-7 1-36h1l1 14 1-14h1l1 6 1 30 1-36 1 9 1-9 1 5 1-2 1-3h2l1 12 1-12h1l1 19 1-19h18l1 3h1l1-3 1 57 1-41 1-16h1l1 8 1-8 1 53 1-53h4l1 6 1-6h1l1 7 1-2 1 53 1-37 1-21h9l1 1 1 26 1-15 1-12 1 19 1-15 1-4 1 3 1-3h1l1 8 1-8h2l1 6 1 14 1-11 1-9h1l1 16 1-16h1l1 13 1-13h4l1 1 1-1 1 40 1-40h10l1 1 1 3 1-4h2l1 30 1-30 1 5 1 11 1 3 1-19 1 23 1-10 1-7 1-6h2l1 1 1-1 1 4 1 37 1-41h1l1 3 1-3h1l1 9 1-9h16l1 3 1-3 1 3 1 6 1-9h3l1 2 1-2h1l1 11 1-4 1-6 1 91 1 103 1-190 1 3h1l1-3 1 3 1 13 1 1 1-22h1l1 2 1-2 1 16 1-15 1 8 1 3 1-12h4l1 2 1-2h1l1 5 1 62 1-62 1 18 1-21 1-2h8l1 1 1 28 1-24 1 9 1-14h11l1 8 1-6 1 1 1 19 1-13 1-9h5l1 4 1 161 1-126 1-31 1 1 1-9h10l1 26 1-26h1l1 26 1-21 1-5h1l1 4h1l1-4 1 9 1-9h3l1 3 1-3h1l1 8 1-8h7l1 8 1-8h1l1 1 1 21 1-13 1-9h1l1 7 1-6 1-1 1 2 1-2h9l1 2 1 8 1 7 1-17h6l1 71 1-67 1-4 1 8 1-2 1-3 1-2 1 1 1-2h5l1 23 1 31 1 81 1-135h13l1 32 1-22 1-10h4l1 92 1-82 1 2 1-12 1 9 1-9h2l1 40 1-40 1 6 1-6"/><path vector-effect="non-scaling-stroke" d="M0 0h2l1 31 1-19 1-1 1 1 1 11 1-23 1 29 1-15 1-14h6l1 4 1-4h4l1 2 1-2 1 3 1 10 1 5 1-18h4l1 5 1-5h7l1 11 1-11 1 25 1-25h3l1 59 1-59 1 3 1 14h1l1-7 1 21 1-28 1 6 1-9h1l1 43 1-43h2l1 1 1-1h1l1 5 1-5h3l1 5 1-5h5l1 13 1-13h7l1 13 1-13 1 1 1-1 1 9 1-9h7l1 12 1-12h2l1 6 1-6h1l1 5 1 15 1-20 1 16 1-16h6l1 28 1-21 1-7h3l1 25 1-25h2l1 3 1-3h4l1 2 1-2h3l1 16 1-16 1 7 1-7h5l1 24 1-24h9l1 10 1-10h1l1 42 1-42h7l1 3 1 9 1-5 1-7h8l1 28 1-28 1 3 1-3h1l1 19 1-19 1 1 1 160 1-148 1 18 1-31h4l1 1 1 11 1-12 1 7 1-7h2l1 5 1-3 1-2h4l1 2 1-2h2l1 3 1 19 1-22 1 28 1-19 1 33 1-29 1 51 1-45 1-19h11l1 32 1-32 1 11 1-11 1 42 1-34 1-8 1 2 1-2 1 21 1-21h1l1 1 1 3 1 14 1 24 1-42 1 5 1-5h3l1 11 1-11 1 7 1-7h1l1 43 1-25 1-18 1 1 1-1 1 3 1-3h3l1 2 1-2h1l1 25 1-17 1-8h8l1 17 1-17h10l1 26 1-18 1 3h1l1-1 1-6 1-2 1-2h9l1 57 1-57h9l1 51 1-49 1-1 1-1h2l1 5 1-5h8l1 17 1-1 1-16h3l1 2 1 12 1-14h1l1 7 1-7h2l1 12 1-12h2"/><path vector-effect="non-scaling-stroke" d="M0 0h4l1 7 1-7h1l1 25 1-25h1l1 45 1-19 1-26 1 3 1-3 1 3 1 2 1-5 1 31 1-2 1-29 1 32 1-3 1-29h8l1 3 1-3h2l1 9 1-3 1-6 1 31 1-11 1-20h1l1 10 1 32 1 5 1-41 1-6 1 17 1-6 1 13 1-24h4l1 3 1 4 1-7h1l1 18 1-5 1-13h4l1 7 1-7 1 27 1-27 1 8 1-1 1 7 1-11 1-1 1 2 1-4h2l1 25 1-25h1l1 14 1-7 1-1h1l1 9 1-15 1 9 1-9h1l1 6 1 17 1-23 1 26 1-11 1-15h2l1 14 1-14 1 15 1-7 1-3 1-5h2l1 116 1-114 1-2 1 20 1-20h4l1 19 1 2 1 21 1-22 1 12 1-32h3l1 25 1-25h4l1 2 1-2h1l1 96 1-88 1-8h2l1 10 1-3 1 3 1-10h5l1 31 1-26 1-5h5l1 36 1-30 1-5 1-1h4l1 8 1-8h3l1 43 1-43h1l1 4 1 19 1-12 1-9 1-2 1 49 1-49 1 7 1-7h1l1 9 1-2 1-2 1 17 1-16 1 4 1-10h1l1 41 1 82 1 78 1-190 1 12 1-14 1-8 1-1h5l1 8 1-8 1 1 1-1 1 4 1-4h5l1 125 1-73 1-49 1-3 1 15 1-15h12l1 14 1-7 1-7h2l1 29 1-29h13l1 8 1-8h1l1 103 1-103h1l1 6 1 8 1-14h13l1 5h1l1-5h2l1 42 1-42h5l1 14 1-12 1 3 1 34 1 18 1-49 1-8h6l1 43 1 1 1-44h9l1 7 1-7 1 19 1-6 1-13h1l1 1 1-1h2l1 28 1-28h4l1 2 1-2h5l1 65 1-35 1 4 1-34h2l1 1 1-1h3l1 2 1-2h1l1 2 1-2h3l1 12 1-12 1 5 1-5h3l1 4 1-4h1"/><path vector-effect="non-scaling-stroke" d="M0 17l1-17h1l1 8 1-8h1l1 16 1-16 1 1 1 7 1-8h1l1 14 1-9 1-5h4l1 10 1-10h1l1 2 1 26 1-28h4l1 4 1-4h2l1 4 1 2 1 1 1-7h4l1 9 1-9h1l1 9 1 20 1-29h4l1 20 1-20h1l1 13 1-13h2l1 15 1 26 1 39 1-52 1-28h8l1 20 1-19 1-1h1l1 19 1-18 1-1h3l1 29 1-29 1 25 1 22 1-47h3l1 5 1-5h5l1 38 1-21 1-1 1-4 1-12h2l1 60 1-60h8l1 49 1-49 1 3 1-3 1 14 1-14h1l1 29 1-29 1 52 1-39 1-8 1 24 1-22 1 326 1-286 1-37 1-10h7l1 4 1-4h3l1 82 1-73 1-9h3l1 9 1 50 1-59 1 6 1-6 1 3 1-3h10l1 4 1-4h5l1 8h1l1-3 1-5 1 77 1 52 1-107 1-18 1-2 1-2h2l1 7 1 8 1-4 1-11h3l1 86 1-54 1 21 1-37 1-5 1-11 1 128 1-89 1-39h1l1 9 1-9 1 8 1 8 1-16h1l1 13 1-13h2l1 6 1 44 1-32 1-17 1-1h2l1 2 1-1 1-1 1 2 1 51 1-53h1l1 11 1 1 1-1 1-11h10l1 2 1-2h2l1 2 1-2h1l1 108 1-108 1 1 1-1h3l1 5 1-5h3l1 1 1-1h2l1 36 1-28 1-8 1 1 1-1 1 9 1 9 1-18h3l1 2 1-2h8l1 2 1 3 1-5 1 25 1-25h1l1 18 1-18 1 1 1-1 1 5 1-1 1-4h2l1 6 1-6h2l1 18 1-18 1 15 1-1 1-7 1-7h2l1 2 1-2h7l1 59 1-54 1-5h1l1 16 1-16 1 1 1-1h7l1 12 1 17 1 33 1 30 1-92h3l1 10 1 23 1 20 1-46 1-7h5l1 2 1 43 1-38 1-7 1 2 1 12 1-14h1l1 9 1-7 1 9 1-11"/><path vector-effect="non-scaling-stroke" d="M0 2l1-2h6l1 8 1-8h1l1 18 1 26 1-44h1l1 4 1-4h1l1 9 1-9 1 63 1-63 1 12 1-12h3l1 3 1 2 1-5h5l1 7 1-7h3l1 5 1-5 1 51 1-26 1-6 1-9 1-10h8l1 82 1-66 1-16h5l1 12 1-9 1-3h7l1 1 1-1 1 9 1-9h4l1 76 1-50 1-26h6l1 11 1-11h9l1 9 1 22 1 6 1 1 1-38h2l1 13 1 28 1-36 1-5 1 12 1-12h9l1 2 1 7 1-9h4l1 17 1-17h10l1 6 1 34 1-40h3l1 2 1-2h9l1 59 1-59h5l1 26 1-26h1l1 7 1-7h5l1 24 1-24h2l1 1 1 2 1-3h1l1 5 1-5h5l1 51 1-47 1-4h4l1 12 1-12h1l1 1 1 7 1-8 1 19 1 25 1-44h9l1 54 1-31 1 28 1-51 1 6 1-6h2l1 6 1-6 1 23 1-23 1 6 1 22 1-28h2l1 17 1 26 1-26 1-17 1 19 1-11 1-5 1-3 1 93 1-93h1l1 116 1 29 1-122 1-23h1l1 46 1-45 1-1h3l1 1 1 92 1-93h4l1 1 1-1h2l1 17 1 56 1-70 1-3h24l1 1 1-1h12l1 17 1-17h3l1 1 1-1h1l1 61 1 16 1-75 1-2 1 55 1-54 1-1h3l1 14 1 21 1-22 1 23 1-11 1-19 1-6h1l1 20 1-20 1 56 1 28 1-48 1-26 1-10 1 1 1-1h4l1 10 1-10h1l1 5 1 12 1-17 1 7 1-4 1 7 1-4 1 21 1-27 1 8 1-6 1 10 1-12h2"/><path vector-effect="non-scaling-stroke" d="M0 0h2l1 17 1-17h3l1 2 1 7 1-1 1 40 1-48 1 4 1-4h3l1 8 1 21 1-29h4l1 3 1-3h10l1 18 1-18h3l1 25 1-25 1 6 1-6h1l1 1 1-1 1 1 1 5 1-6h2l1 7 1 19 1-13 1-13 1 5 1-5 1 29 1-29 1 35 1-35h5l1 9 1-4 1 58 1-52 1-3 1-8h4l1 6 1 18 1-24h3l1 66 1-56 1-4 1 52 1-58h3l1 15 1 6 1-21h4l1 3 1-3h2l1 40 1-33 1-7h1l1 11 1-11h10l1 19 1-19h3l1 2 1 11 1-13 1 20 1-20 1 5 1-5h8l1 10 1 33 1-43 1 7 1-5 1 9 1-7 1 4 1 4 1-1 1-11 1 7 1 1 1-8 1 33 1-33h4l1 4 1-4 1 4 1 3 1-7h2l1 5 1 1 1-6h3l1 44 1-36 1 16 1-10 1-14h3l1 18 1-18h4l1 27 1-27h4l1 6 1-6h9l1 17 1 9 1-3 1-17 1 90 1-57 1-39h3l1 5 1 3 1-8 1 58 1-58h6l1 16 1 4 1-3 1-17 1 36 1-36 1 4 1-4h5l1 6 1-6 1 29 1-22 1-7h1l1 90 1-88 1-2h1l1 87 1-80 1-7h5l1 10 1-10h2l1 2 1-2 1 6 1-6 1 9 1 4 1-9 1-4h6l1 1 1-1h9l1 9 1-9h1l1 53 1-26 1-27 1 28 1 12 1-40h7l1 19 1-19h4l1 2 1-2h6l1 18 1-18 1 100 1-100 1 44 1-44h3l1 2 1-2 1 8 1 27 1-10 1-2 1 27 1-50h2l1 15 1 22 1-37 1 50 1-28 1-22h1l1 4 1-4h4l1 20 1-12 1-8h4l1 8 1-8 1 17 1-17h2l1 3 1 18 1-21h1l1 5"/><path vector-effect="non-scaling-stroke" d="M0 0h2l1 29 1-29h1l1 29 1-12 1-17 1 7 1-7 1 12 1-12h12l1 4 1-4h14l1 12 1-12h3l1 28 1 10 1-30 1-8h1l1 48 1-48h8l1 25 1-7 1-18h6l1 10 1 9 1-19h3l1 5 1-5h2l1 23 1 23 1-43 1 1 1-4h2l1 17 1-11 1 46 1-52h2l1 6 1-6h1l1 12 1-12 1 8 1-8h3l1 15 1-15h3l1 57 1-57 1 7 1-7h2l1 26 1-2 1-24h3l1 21 1 23 1-35 1-9h7l1 26 1-26h7l1 5 1 6 1 2 1-4 1-4 1-3 1-2h2l1 8 1-8h3l1 7 1-7h2l1 4 1 24 1-28 1 6 1-5 1-1 1 3 1-3 1 1 1 20 1-4 1-8 1-9h8l1 20 1-20 1 161 1-161 1 59 1-59 1 5 1-5h6l1 55 1-24 1-8 1-12 1-2 1-9h6l1 84 1-84h18l1 6 1-6h6l1 10 1 11 1-17 1-4h1l1 8 1-8h9l1 11 1-10 1-1h11l1 11 1-11h1l1 4 1-4h1l1 7 1-7 1 2 1-2h3l1 20 1-16 1-4h5l1 8 1-8h1l1 10 1-10h3l1 19 1-19h2l1 1 1-1h3l1 22 1-9 1-1 1-12h1l1 2 1-2 1 8 1-8h10l1 9 1-9h4l1 13 1-3 1-10h7l1 24 1-13 1 26 1-5 1-3 1-29 1 15 1 18 1-33 1 52 1-38 1-14h17"/><path vector-effect="non-scaling-stroke" d="M0 0h2l1 12 1-12h7l1 13 1-13h3l1 5 1 4 1 10 1-19h8l1 7 1-7h5l1 9 1 5 1-12 1 25 1-10 1-17h3l1 7 1-7h7l1 18 1-18 1 5 1-5h5l1 12 1-12h5l1 1 1 14 1-15h8l1 48 1-48 1 14 1 7 1-21h2l1 40 1-40 1 9 1-9h2l1 34 1-34h1l1 22 1-22h1l1 14 1 13 1-27h1l1 13 1-7 1 55 1-61 1 20 1-6 1-14h2l1 15 1-15h1l1 3 1-3h1l1 7 1 16 1 200 1-145 1-78h2l1 5 1 5 1-10 1 53 1-53h5l1 6 1-6 1 5 1-5h2l1 27 1-25 1-2 1 8 1 3 1-11h1l1 12 1-12h3l1 11 1-7 1-2 1 18 1-17 1-3 1 5 1-5 1 4 1-4h4l1 7 1-7 1 2 1-2h3l1 9 1 3 1-12 1 10 1-10h1l1 4 1-4h1l1 2 1-2h12l1 7 1 10 1-17 1 3 1 4 1-7 1 32 1-30 1-2h6l1 1 1-1 1 15 1-15 1 3 1 17 1-19 1-1h2l1 18 1-12 1-6h1l1 7 1-5 1-2 1 5 1 40 1-45h6l1 5 1-5 1 17 1-4 1-13h1l1 4 1-4 1 8 1-8h3l1 19 1-10 1 26 1 8 1 5 1-39 1-9h3l1 9 1-9h1l1 15 1-6 1-9h1l1 25 1-20 1-5h6l1 1 1 3 1-4 1 19 1-19h4l1 10 1 9 1-19h2l1 14 1-3 1-11 1 7 1-7h1l1 6 1-6h1l1 29 1-23 1 1 1-7h2l1 4 1-4h3l1 12 1-3 1-8 1 6 1 6 1 14 1-27 1 4 1 16 1-20h6l1 35 1-11 1-24h2l1 3 1-1 1 8 1 27 1-37h8l1 16 1-7 1-7h1l1 1 1-3h4l1 10 1-10 1 11 1-11h4l1 1"/><path vector-effect="non-scaling-stroke" d="M0 0h2l1 22 1-1 1-21 1 19 1-19h4l1 10 1-10h15l1 3 1-3h1l1 3 1-3 1 15 1-15 1 2 1-2h1l1 5 1-5h1l1 19 1-19h1l1 8 1 8 1-16h6l1 37 1-37 1 11 1-9 1 2 1 9 1 43 1-47 1 19 1-28h2l1 4 1 6 1-10h1l1 8 1 42 1-50 1 6 1 39 1-45h3l1 7 1-2 1 54 1-59h1l1 23 1-22 1 24 1-25 1 20 1-20h3l1 47 1-20 1-27h6l1 11 1 25 1-22 1-14h3l1 16 1-16 1 1 1-1 1 24 1-24h4l1 4 1 25 1-5 1-11 1-13h1l1 15 1-15 1 23 1-23 1 5 1-4 1 4 1-5 1 7 1-7h2l1 4 1 15 1-19h1l1 14 1 3 1-17 1 4 1-4h4l1 16 1-13 1-3h1l1 29 1-29 1 8 1 3 1-11 1 2 1-2h2l1 11 1-9 1-2h3l1 39 1-39h1l1 2 1 10 1-12 1 7 1-7h3l1 3 1-3h6l1 2 1 12 1 12 1 71 1-97h1l1 13 1-2 1-11h1l1 4 1-4 1 17 1 3 1-20h1l1 6 1-2 1-4h9l1 14 1 81 1 10 1-69 1-36 1 1h1l1 46 1-47h1l1 2h1l1 2 1-4h2l1 3 1 22 1-25h3l1 2 1 6 1-8h3l1 7 1-7 1 4 1-4 1 18 1-18h3l1 1 1 16 1-17h5l1 12 1 40 1-52 1 12 1-12h3l1 3 1-3h1l1 5 1 1 1-1 1-5h3l1 5 1-5 1 22 1-13 1-1 1-8h4l1 15 1 8 1-23 1 52 1-52h4l1 1 1-1h1l1 22 1-22 1 26 1-26h1l1 3 1-3 1 32 1-17 1-15h1l1 5 1-5h2l1 19 1 17 1-21 1 1 1-12 1-4 1 2 1 9 1-6 1-5h1l1 8 1-8 1 15 1-13 1-2 1 1 1 4 1 10 1 1h1l1-16h8l1 43 1 2 1-45h1l1 1 1-1h1l1 9 1-6 1-3 1 6 1-6h6l1 1"/><path vector-effect="non-scaling-stroke" d="M0 0h2l1 121 1-108 1-13 1 2 1 27 1-21 1-8h3l1 1 1 1 1 5 1-7h3l1 36 1-36h1l1 15 1-15h3l1 8 1-7 1-1h6l1 7 1-7h9l1 4 1-4h1l1 36 1-5 1-21 1-10h1l1 27 1-24 1 14 1-7 1-10h1l1 21 1-21h2l1 5 1-5h1l1 5 1-5h7l1 3 1-3h1l1 16 1-16h2l1 41 1-41h2l1 14 1-14h3l1 51 1-51h2l1 58 1-58 1 3 1-3 1 13 1-13h2l1 24 1-22 1 3 1-5 1 6 1-6h17l1 2 1-2h6l1 15 1-15h3l1 11 1 42 1-53h3l1 12 1 120 1-132h2l1 2 1-2 1 8 1-8 1 9 1 2 1-11 1 4 1 1 1 7 1-12h3l1 26 1-26h4l1 2 1 36 1-31 1-7h2l1 30 1-29 1 7 1-8h3l1 15 1 87 1-101 1-1 1 19 1 6 1-25h1l1 24 1-16 1-8 1 10 1-10 1 17 1 55 1-72h3l1 58 1-54 1-4h6l1 28 1-28h5l1 9 1-9 1 91 1-91h2l1 4 1 13 1-17h2l1 3 1-3h1l1 4 1-4h1l1 7 1 37 1-44 1 19 1-19 1 5 1-5 1 4 1-4h9l1 2 1 4 1-6h1l1 4 1 2 1-6h2l1 12 1 14 1-26h2l1 3 1-1 1 5 1-6 1-1h4l1 5 1 33 1-13 1-24 1-1 1 3 1 1 1-4h2l1 36 1-22 1-2 1-12h4l1 4 1-4 1 3 1-3h4l1 16 1-16h1l1 44 1-29 1-15h4l1 107 1-84 1 20 1-43h1l1 52 1-52h6l1 54 1-17 1 5 1-41 1-1 1 2 1-2h2l1 41 1-41h9l1 3 1-3 1 3 1 10 1-5 1 26 1-28 1-6h6l1 2 1-2h1"/><path vector-effect="non-scaling-stroke" d="M0 0l1 8 1 36 1-36 1-8h3l1 28 1-28h2l1 20 1-19 1-1h4l1 40 1-40 1 19 1-19 1 26 1-26h1l1 1 1-1 1 7 1-3 1-4h3l1 10 1-5 1-5h4l1 12 1-12h1l1 11 1 27 1-21 1-17h2l1 58 1 9 1-41 1-26 1 7 1 1 1 20 1-23 1-2 1 10 1 65 1-78 1 19 1-19h4l1 8 1-8 1 27 1 21 1-48h1l1 24 1-24h2l1 19 1-11 1-8 1 12 1-12 1 13 1 6 1-19 1 15 1-8 1 23 1-30h10l1 5 1 3 1 1 1-9h5l1 24 1-24h5l1 10 1-10h10l1 4 1 21 1-20 1-5h2l1 4 1-4h2l1 4 1-4h1l1 19 1-17 1-2h6l1 1 1-1 1 1 1 10 1 8 1-19h1l1 13 1-13h3l1 2 1 26 1 15 1-43 1 36 1-36 1 10 1 11 1-14 1-7h2l1 27 1 155 1-178 1-4h2l1 151 1-151h1l1 11 1 33 1 4 1-48 1 3 1 5 1-3 1 2 1-7 1 6h1l1 22 1 40 1-66h1l1 2 1-4 1 7 1 2 1-9 1 3 1-2 1 3 1-4h9l1 13 1-7 1 7 1-13h4l1 17 1-17 1 17 1-17h1l1 2 1-2h7l1 1 1-1h2l1 97 1-60 1-22 1-15h1l1 4 1 2 1-6 1 6 1-2 1-4h1l1 1 1 96 1-80 1 6 1-20 1-3 1 15 1-15 1 31 1-6 1-25h6l1 14 1-14h2l1 4 1-4 1 10 1-10h3l1 4 1-4h1l1 1 1-1h14l1 1 1-1h6l1 24 1-24h4l1 12 1 19 1-29h1l1 11 1 27 1-40h3l1 5 1-5h1l1 11 1-11h4l1 7 1 4 1 23 1 17 1-40 1-11h12l1 3 1 27 1-30h3l1 17 1-17h5"/><path vector-effect="non-scaling-stroke" d="M0 12l1-6 1 42 1-23 1-25h3l1 17 1 2 1-4 1 27 1-26 1-16h5l1 6 1 18 1-24h1l1 36 1-18 1-18h1l1 4 1-4 1 2 1-2h6l1 31 1-31h2l1 20 1-20h1l1 5 1-5h9l1 16 1 39 1-55h1l1 16 1-16 1 66 1-29 1-37h1l1 2 1 4 1-6h2l1 91 1-91h1l1 11 1-4 1 8 1-2 1 2 1 13 1-27 1 1 1 19 1-21h2l1 10 1 3 1-13h3l1 13 1-13h4l1 8 1-8h4l1 17 1-17h2l1 1 1 5 1 4 1-10 1 8 1-8 1 7 1-7h6l1 10 1 6 1-16h4l1 45 1-34 1 4 1-15h3l1 5 1 11 1 77 1-93h3l1 10 1-10h1l1 24 1-24h1l1 168 1-133 1-20 1-9 1-6 1 4 1-4h3l1 11 1 44 1-41 1-14h2l1 29 1-29 1 77 1-72 1 13 1 6 1 133 1-152 1 8 1-9 1 9 1-1 1-12h3l1 6 1 7 1-13h3l1 2 1 1 1 3 1-6h5l1 11 1-11 1 4 1-4 1 8 1-8h2l1 2 1-2 1 4 1-4 1 12 1-12 1 2 1-2h2l1 6 1-2 1-4 1 35 1-33 1-2h2l1 8 1-8h6l1 42 1-9 1-33h2l1 57 1-31 1-25 1-1h11l1 44 1-44 1 2 1-2h1l1 12 1-5 1 6 1 16 1-29 1 3 1-3 1 18 1-18 1 3 1 38 1 36 1-41 1-36h3l1 7 1-3 1 2 1-6h10l1 3 1-3 1 39 1-4 1-31 1-4 1 62 1-41 1-21h14l1 13 1-13h7l1 33 1-33h1l1 17 1-6 1-8 1-3 1 5 1-5h1l1 29 1-29h1l1 81 1-72 1-9h2l1 8 1 9 1 13 1-30h4l1 14 1-11 1-3h1l1 6 1-6h1l1 1 1 3h1l1 11 1-3 1 13 1-19 1-6h5l1 2 1 2"/><path vector-effect="non-scaling-stroke" d="M0 0h2l1 35 1-23 1 5 1-3 1-14h3l1 9 1-9h2l1 5 1-3 1-2h7l1 4 1-4h1l1 4 1-4h11l1 23 1-23h1l1 11 1-11h4l1 37 1-18 1 8 1-27 1 27 1-1 1-18 1-8 1 1 1 10 1-11h1l1 9 1 15 1-24h6l1 31 1-31h7l1 11 1 23 1-25 1-9h1l1 12 1-8 1-4 1 40 1-33 1 49 1-56h1l1 11 1-11h1l1 7 1 5 1 5 1-7 1-10h1l1 39 1-23 1 41 1-57h2l1 27 1-27h3l1 34 1 27 1-6 1-55 1 71 1-71h1l1 7 1-1 1-6 1 51 1-51h3l1 37 1-37h2l1 5 1-5h4l1 7 1 16 1-23h1l1 14 1-14h2l1 2 1-2 1 80 1-52 1-18 1-10h1l1 44 1-38 1 3 1-9 1 23 1-16 1-7h3l1 11 1-11h2l1 3 1-3h1l1 18 1-18h2l1 19 1-19h2l1 4 1 8 1-12h1l1 23 1-23 1 5 1 10 1-15 1 1 1-1 1 7 1-7h4l1 8 1-8h4l1 10 1 38 1-38 1-10 1 9 1 15 1-24h9l1 88 1-88h1l1 10 1-10 1 12 1-12h4l1 8 1-4 1 86 1-90h1l1 2 1-2h2l1 7 1-7h2l1 35 1-35h2l1 1 1 64 1-65h6l1 18 1 38 1-54 1-2h3l1 11 1-11h4l1 9 1-9h2l1 24 1-24h10l1 2 1-2h3l1 5 1 26 1-31 1 33 1-1 1-32h14l1 45 1-31 1-14 1 6h1l1-6h2l1 14 1-14h1l1 16 1-16h7l1 6 1-6h5l1 10 1 15 1-2 1-13 1-8 1-2 1 28 1-28h10l1 22 1-4 1-18h5l1 6 1-1 1-5h1"/><path vector-effect="non-scaling-stroke" d="M0 0h1l1 9 1 45 1-54h6l1 19 1-19h2l1 3 1 6 1-5 1-4h1l1 17 1-17 1 10 1 1 1-11h9l1 3 1 25 1-28h1l1 1 1-1h1l1 12 1-12h18l1 40 1-16 1-24h16l1 9 1-9h3l1 4 1-4h1l1 10 1-10h3l1 64 1-2 1-61 1-1 1 11 1 26 1-25 1 4 1 16 1-17 1 8 1-5 1-18 1 5 1-3 1 21 1-23h2l1 3 1-3h1l1 27 1-27h1l1 13 1-5 1 4 1 11 1-10 1 5 1-18 1 19 1-10 1-9h1l1 7 1-7h1l1 22 1-22 1 14 1 3 1 81 1-68 1-25 1-5 1 12 1-5 1-7 1 7 1-7 1 1 1-1h7l1 21 1-21h1l1 9 1-9 1 1 1-1 1 91 1-71 1-13 1-7h2l1 23 1-23h3l1 18 1-18h3l1 10 1-10h1l1 5 1-5h4l1 3 1 2 1-5h1l1 19 1-19h2l1 18 1-3 1 3 1 23 1-41 1 6 1-6 1 3 1-2 1 4 1-2 1-3h3l1 1 1-1h1l1 13 1-13 1 1 1-1 1 13 1-13h5l1 34 1-34h5l1 3 1-3h5l1 2 1-2h3l1 4 1-2 1 88 1-54 1-36h2l1 48 1-33 1-15h2l1 2 1-2h2l1 26 1-26h2l1 3 1-3h3l1 59 1-56 1 3 1-2 1-4 1 4 1 3 1-6 1-1 1 4 1 1 1-5h2l1 16 1-16h5l1 13 1-13h1l1 83 1-31 1-52h3l1 1 1 6 1-7h4l1 2 1-2 1 3 1 54 1-57 1 121 1-120 1-1h16l1 19 1 16 1-25 1-10h1l1 12 1-12h1l1 23 1 3 1-26h1l1 8 1-8h4l1 7 1-7 1 6 1-6h1l1 4 1-4h12"/><path vector-effect="non-scaling-stroke" d="M0 11l1 22 1-33 1 28 1-28h5l1 26 1 9 1-35h3l1 5 1-5 1 16 1 8 1 10 1-34 1 6 1-6h5l1 4 1-2 1-2h4l1 8 1-8h3l1 33 1-33 1 4 1 28 1-12 1-20h1l1 1 1-1h2l1 8 1-8h4l1 10 1-10h12l1 6 1 90 1-92 1-4h1l1 4 1 8 1-12h8l1 47 1-2 1-35 1-10h1l1 54 1-29 1-23 1 41 1-43 1 30 1-30h1l1 10 1-10 1 19 1-19 1 5 1-5h1l1 11 1-11h2l1 10 1 13 1 10 1-23 1-10h3l1 20 1 1 1 12 1-33h2l1 4 1-4h3l1 12 1-12h1l1 3 1-3h5l1 2 1-2 1 9 1-9h7l1 4 1 3 1-7h3l1 26 1-25 1 18 1-19h1l1 15 1 8 1-23h1l1 4 1-4h7l1 2 1-2h2l1 3 1 2 1-5 1 3 1-3 1 24 1-24h4l1 7 1 22 1-29h2l1 3 1-3h2l1 17 1-8 1-4 1 33 1-26 1-12h5l1 23 1-7 1 11 1-27 1 3 1-3h3l1 5 1-5 1 22 1-22h2l1 4 1-4h5l1 1 1-1h9l1 7 1 11 1-18 1 1 1-1h3l1 1 1-1h4l1 10 1-10h1l1 81 1-73 1-8 1 64 1-56 1 32 1 21 1-61 1 5 1-5h4l1 10 1-10h2l1 31 1-31h4l1 2 1 3 1-5 1 10 1 3 1-13 1 26 1-5 1-8 1-13h1l1 4h1l1 6 1-3 1-7h4l1 9 1 1 1-10 1 13 1 7 1-8 1-9 1-3h2l1 11 1-11 1 6 1-6h7l1 11h1l1-6 1 44 1-49h3l1 3 1-3 1 68 1 8 1 6 1-59 1-23h1l1 3 1-3h8l1 1 1-1h1l1 6 1-6h2l1 17 1-8 1-9h3"/><path vector-effect="non-scaling-stroke" d="M0 0l1 5 1 27 1 103 1-123 1-12h1l1 18 1-18h1l1 11 1 57 1-60 1-6 1-2 1 4 1-4h2l1 39 1 20 1-58 1 1 1-2h19l1 2 1-2h1l1 10 1-10h2l1 13 1 22 1-31 1-4h1l1 14 1-14h3l1 16 1 49 1-23 1-24 1-18h5l1 24 1 23 1-47h2l1 16 1 21 1-27 1 8 1-18h1l1 112 1-112h1l1 33 1-33h1l1 7 1-7 1 24 1-24h1l1 30 1-6 1-24h2l1 15 1-15h4l1 22 1-22h3l1 7 1 37 1-44h2l1 32 1 18 1-50h1l1 4 1 10 1-14h3l1 9 1-9h1l1 31h1l1-31 1 9 1 2h1l1-11h4l1 9 1-9h5l1 8 1-1 1-7h1l1 4 1-4h5l1 23 1 3 1-17 1-9h1l1 7 1-7h2l1 10 1 5 1-15 1 20 1-8 1-12h1l1 1 1 13 1 47 1-12 1-17 1-32h4l1 56 1-56 1 33 1-33 1 5 1-5h3l1 16 1 4 1-16 1 30 1-29 1 48 1-53h18l1 18 1-18h3l1 3 1-3h1l1 8 1-8h1l1 15 1-15h3l1 8 1-8h3l1 26 1-26h1l1 29 1-29h2l1 3 1-3h3l1 3 1-3 1 12 1-12h3l1 100 1-97 1-3h4l1 1 1-1 1 3 1 26 1-13 1 5 1 2 1-23h4l1 10 1 21 1-31 1 4 1 8 1-12 1 3 1-3h6l1 54 1-54h1l1 3 1-3h2l1 3 1 5 1-8h1l1 2 1-2 1 14 1-14 1 18 1-18h2l1 16 1 25 1-41h1l1 4 1-4h3l1 35 1-27 1 1 1-9 1 57 1-57h12l1 2 1-2 1 25 1-25 1 1 1 5 1-6h1l1 6 1-5 1-1h4l1 11 1-3 1-8h1l1 27 1-27h2l1 3 1 13 1-10 1-6h4"/><path vector-effect="non-scaling-stroke" d="M0 0h2l1 11 1-11h15l1 5 1-5 1 8 1 6 1-14h10l1 9 1-8 1-1h3l1 3 1-3h8l1 16 1-16 1 15 1 25 1 5 1-45h2l1 33 1 11 1-44 1 76 1-64 1-12h6l1 12 1-12h4l1 9 1-9h2l1 35 1-35 1 4 1-4 1 10 1-10h2l1 13 1-13h3l1 6 1-6h2l1 35 1-26 1 7 1-16h6l1 12 1-12h1l1 1 1 4 1-5h1l1 21 1 25 1-32 1-8 1 8 1 9 1-23h1l1 50 1-41 1 1 1 6 1-16h1l1 14 1-14 1 9 1-9 1 1 1-1h7l1 13 1-13h1l1 5 1 14 1-19 1 7 1 13 1-17 1-3h2l1 21 1 5 1-18 1-1 1 4 1 3 1-14h2l1 17 1-6 1-7 1-4 1 6 1-6h1l1 14 1-14h2l1 1 1 26 1-27h1l1 3 1-3h1l1 5 1-5h1l1 31 1-10 1-18 1-3h1l1 15 1-15h4l1 35 1-34 1-1h1l1 4 1-4 1 7 1 2 1-3 1-6h3l1 5 1-5 1 5 1-5h3l1 10 1-10h6l1 4h1l1-4h1l1 4 1 86 1-47 1-43h1l1 5 1 10 1 37 1-46 1-6h2l1 40 1-27 1 1 1-3 1-11h10l1 5 1 27 1 25 1-57h2l1 1 1 27 1-28 1 3 1-3h2l1 35 1-20 1 16 1-29h1l1-2h6l1 4 1 8 1-12h4l1 15 1-15 1 13 1-13h11l1 8 1-8h6l1 1 1-1h1l1 6 1-5 1-1h2l1 4 1-4 1 43 1 3 1-46h2l1 3 1-1 1-2h1l1 23 1-23 1 15 1-15h10l1 75 1-75h2l1 10 1-2 1-8h12l1 16 1-14 1-2h1"/><path vector-effect="non-scaling-stroke" d="M0 0h1l1 11 1 130 1-141h2l1 29 1-19 1 8 1 2 1-2 1-18h6l1 10 1 15 1-25h1l1 15 1-15h1l1 2 1-2h5l1 6 1-6h2l1 11 1-11 1 8 1-1 1 4 1 16 1-27h1l1 9 1-9h10l1 4 1-4h2l1 12 1-12h4l1 19 1-19h1l1 21 1-21h3l1 36 1-31 1-5h7l1 18 1-18 1 7 1 84 1-3 1-77 1-11 1 11 1-11 1 27 1-22 1 17 1-22 1 12 1-12 1 31 1-14 1-17h1l1 26 1-12 1-7 1-7 1 4 1 10 1 7 1-21h7l1 3 1 12 1 5 1-8 1-6 1-6 1 12 1 36 1-35 1-13h1l1 18 1-11 1-7 1 6 1-6h5l1 12 1-12 1 44 1-39 1-5 1 6 1-6h2l1 16 1-16h1l1 3 1-3h12l1 32 1-30 1 6 1 6 1 14 1-28 1 2 1 18 1 31 1-20 1-31h3l1 38 1-37 1 18 1 1 1-13 1-7 1 4 1 21 1-22 1 12 1-12 1-3h8l1 2 1-2 1 5 1-5 1 3 1-2 1-1h3l1 1 1 2h1l1-3 1 2 1-2h4l1 23 1-22 1-1 1 1 1-1h1l1 3 1-3h4l1 16h1l1-6 1-10h9l1 17 1-17 1 21 1-21h8l1 96 1-96h1l1 5 1-5 1 10 1-10h1l1 4 1-4h6l1 6 1-6h4l1 1 1 7 1-8h9l1 15 1 70 1-85h2l1 1 1-1h3l1 19 1-11 1-4 1-4 1 6 1-6h2l1 4 1-4h4l1 2 1-2 1 133 1-133h9l1 11 1 35 1 16 1-62h4l1 13 1 17 1-30h1l1 6 1-6 1 7 1 15 1-22h5l1 30 1-25 1-2 1-3 1 19 1-19h1l1 2 1 6 1-7 1-1h4"/><path vector-effect="non-scaling-stroke" d="M0 0h1l1 47 1 36 1-83 1 6 1 8 1-14h1l1 6 1-6 1 20 1-20h2l1 7 1-7h1l1 3 1-3h1l1 7 1 8 1 6 1-16 1-5h3l1 8 1-4 1-4h3l1 2 1 2 1 1h1l1-5h4l1 18 1 42 1-40 1-20 1 5 1-2 1 27 1-30h1l1 6 1 4 1-10 1 9 1-9h1l1 17 1-17h4l1 5 1-5h3l1 35 1 15 1-43 1 6 1 12 1-25h3l1 18 1-18h9l1 8 1-8h1l1 20 1 18 1-33 1-5h3l1 5 1-5h2l1 8 1-8h1l1 7 1 24 1-31h3l1 13 1-13h3l1 5 1-5h1l1 3 1-3h4l1 127 1-98 1-19 1 23 1-33 1 21 1-20 1-1h1l1 14 1 24 1-38h2l1 8 1-8h3l1 1 1 40 1-40 1 16 1 23 1-40h1l1 2 1 2 1 5 1-9h1l1 30 1-30 1 2 1 6 1-8h1l1 12 1-10 1-2h1l1 63 1 39 1-64 1-25 1-6 1-1 1 7 1-1 1-12h8l1 17 1 74 1-83 1-8h4l1 3 1-1 1-2h3l1 4 1-1 1-3h6l1 9 1 2 1-11h1l1 3 1-3h2l1 21 1-11 1-10h2l1 7 1-7h5l1 33 1-33 1 29 1-29h8l1 3 1 7 1 36 1-46h6l1 8 1-8h2l1 2 1-2h9l1 22 1 40 1 3 1-48 1-8 1-9h11l1 3 1 1 1-4h2l1 4 1-4 1 9 1-9h8l1 18 1-18 1 20 1-18 1-2h4l1 14 1-1 1-13 1 4 1-4 1 3 1-3h2l1 67 1-67 1 19 1-10 1-9h11l1 7 1-7 1 14 1-11 1-3h5l1 17 1-17h1l1 10 1-10h5l1 4 1-4 1 5 1 16 1-21h2l1 3 1-3h3"/><path vector-effect="non-scaling-stroke" d="M0 0h5l1 15 1-15 1 17 1-17 1 24 1 26 1-34 1-16h6l1 21 1-21h11l1 12 1-12 1 4 1-4h9l1 22 1-22 1 6 1-6 1 43 1-43 1 4 1-4 1 17 1 19 1-36h12l1 18 1 19 1-37h3l1 15 1 23 1-38h2l1 13 1 18 1-31 1 3 1-3 1 44 1-44h2l1 4 1 9 1-13 1 13 1-13 1 29 1-28 1-1h6l1 4 1-4h8l1 25 1 37 1-62h3l1 28 1-26 1-2h4l1 39 1-32 1-7 1 19 1-19h4l1 6 1-6 1 25 1-17 1-8h1l1 9 1 135 1-128 1-6 1 10 1-20h9l1 5h1l1-5 1 1h1l1 10 1-11h5l1 30 1-4 1-15 1-10 1-1h2l1 45 1-13 1-21 1-11h1l1 9 1-9h4l1 9 1-9 1 20 1-14 1-6h3l1 3 1-3 1 22 1-22 1 18 1-17 1 4 1-5h1l1 6 1-5 1 9 1-8 1-2h2l1 6 1-6h2l1 13 1 127 1-136 1-4 1 20 1-20 1 12 1-6 1-6h5l1 1 1 3 1-4h5l1 3 1 63 1-58 1 34 1-42 1 26 1-26h1l1 39 1-13 1-26h1l1 19 1-19 1 14 1-5 1-9h2l1 17 1 161 1-150 1-28h1l1 2 1 27 1-29 1 4 1-4 1 3 1 8 1 47 1-58 1 5 1-5h2l1 20 1 32 1-51h2l1-1h1l1 4 1 15 1-19 1 2 1-2h4l1 26 1 25 1-51 1 6 1-3 1-3h3l1 2 1-2h2l1 38 1-30 1-8 1 32 1-26 1 3 1-9h7l1 20 1 43 1-55 1 1 1-9h9l1 18 1-9 1-9h3l1 38 1-11 1-27h8l1 14 1-14h7l1 1 1 2 1-3 1 7 1-7 1 13 1-10 1 1 1-2"/><path vector-effect="non-scaling-stroke" d="M0 0h1l1 14 1-14h1l1 12 1-12 1 5 1-5 1 11 1-11h5l1 10 1-10 1 10 1 12 1-22 1 6 1 19 1 3 1-28h1l1 1 1-1h2l1 6 1-6h9l1 11 1-11 1 3 1 26 1-29 1 7 1-7h1l1 5 1 10 1-15h2l1 2 1-2 1 16 1-16h12l1 36 1-1 1-35h4l1 8 1 4 1-12 1 9 1-8 1-1 1 7 1-6 1-1h3l1 45 1-45h2l1 8 1-8h1l1 19 1-5 1-1 1-13 1 14 1-10h1l1 53 1-57h10l1 8 1-8h4l1 7 1-7h3l1 43 1-43h4l1 7 1-7 1 18 1-15 1 2 1-2 1-3h1l1 5 1-1h1l1-4h5l1 32 1-32h1l1 11 1-11h3l1 46 1-35 1-1 1-8 1-2h6l1 10 1-10 1 15 1-8 1-7 1 6 1 18 1-8 1-7h1l1-9 1 20 1-10 1 35 1-45h7l1 3 1-3h5l1 82 1-82h1l1 2 1 16 1-18h8l1 2 1-2 1 9 1-8 1 14 1-14 1-1h1l1 12 1-5 1-3 1 17 1-8 1-6 1-7 1 2 1-2 1 4 1-4 1 33 1-29 1-4h3l1 1 1-1 1 4 1-4h7l1 4 1-4 1 1 1-1h5l1 34 1-34 1 4 1-4h2l1 27 1-26 1 17 1-8 1-8 1-2h6l1 3 1 8 1-6 1-4 1-1h7l1 1 1 28 1-3 1-26h1l1 11 1-11h3l1 9 1 1 1-10h2l1 2 1-2h9l1 2 1-2 1 8 1 30 1 16 1 6 1-53 1 42 1-28 1-21h3l1 6 1-6h3l1 57 1-57h3l1 34 1-5 1 216 1-216 1-29h4l1 6 1-2 1-2 1 53 1-37 1-18 1 1 1-1h1l1 21 1-4 1-17h4l1 2 1 8 1 9 1-19h1"/><path vector-effect="non-scaling-stroke" d="M0 0h5l1 7 1-7h5l1 5 1-5 1 4 1-4h2l1 36h1l1-36h20l1 12 1-12h13l1 4 1 1 1-5h1l1 12 1-12h4l1 6 1-6h5l1 28 1-17 1-11h3l1 11 1-11h2l1 33 1-23 1-10h2l1 1 1-1h2l1 13 1-13h1l1 8 1-8h5l1 24 1-11 1-13h1l1 6 1-6 1 12 1-6 1-6 1 13 1-12 1-1h3l1 8 1 3 1-11 1 11 1-11h3l1 67 1-40 1-27h20l1 7 1-7h5l1 19 1 21 1-12 1-28 1 30 1-25 1-5 1 4 1-4 1 1 1-1h1l1 26 1-9 1-16 1-1h2l1 7 1-5 1-2 1 2 1-2 1 27 1-20 1 51 1-58h6l1 11 1-11h3l1 15 1 3 1-18 1 118 1-106 1-12h1l1 3 1-3h5l1 5 1-5h3l1 4 1-2 1-1 1 1 1-2 1 6 1-2 1-4h6l1 8 1-8h4l1 10 1-10h1l1 2 1-2h2l1 12 1-12h14l1 27 1-27h1l1 1 1-1h3l1 8 1 34 1-42 1 77 1-77h11l1 11 1 5 1-16h4l1 1 1 45 1-46h1l1 9 1-9h8l1 5 1-5h3l1 3 1 20 1 7 1-30h8l1 17 1-17h1l1 9 1-9h3l1 11 1-11h2l1 28 1-17 1-11h3l1 25 1 24 1-49h4l1 9 1-9h1l1 37 1-37h4l1 2 1-2h11"/><path vector-effect="non-scaling-stroke" d="M0 0l1 4 1 26 1 2 1-30 1-2h4l1 16 1-11 1-5h2l1 4 1-4h1l1 4 1 3 1-7 1 4 1-4h2l1 3 1-3 1 3 1-3h6l1 6h1l1 15 1-21h2l1 49 1-49h3l1 29 1 8 1-37h2l1 37 1-25 1-10 1 6 1-8h15l1 17 1-13 1-4 1 10 1 15 1-16 1-9h1l1 12 1-7 1 17 1-22h2l1 12 1-12h1l1 21 1 52 1-73h2l1 9 1-9h3l1 3 1-3h1l1 48 1-2 1-22 1-2 1-22h2l1 5 1-5h12l1 17 1-17h2l1 6 1-6 1 52 1-52 1 16 1 34 1-50h2l1 2 1 3 1-5h2l1 21 1 10 1-31h2l1 29 1-29 1 2 1-2 1 14 1-14h1l1 2 1-2 1 31 1-12 1-19 1 35 1-19 1 44 1-50 1-8 1-2h3l1 12 1-12 1 5 1-5h1l1 3h1l1 32 1-35h4l1 77 1-77h5l1 57 1-20 1-18 1-19 1 9 1 31 1-34 1-2 1 18 1-22h1l1 14 1-14h6l1 13 1-7 1-6h1l1 19 1-19h6l1 19 1-8 1-9 1-2 1 152 1-135 1-17h4l1 16 1-11 1-5h3l1 36 1-34 1 12 1-5h1l1-9h1l1 4h1l1-4h3l1 14 1-14h6l1 18 1-18h4l1 52 1-52h1l1 38 1-38h1l1 64 1-55 1-9 1 4 1-4 1 3 1 10 1 33 1-13 1-33h7l1 6 1-6h1l1 14 1 9 1-9 1-7 1-2 1 1 1-6h4l1 9 1-9h2l1 23 1-23 1 8 1-5 1-3h1l1 26 1-26h5l1 17 1-17 1 83 1-83h5l1 5 1-5 1 29 1 8 1-37 1 19 1-19h2l1 3 1-3 1 13 1 11 1-24h5l1 32 1-32h3l1 5 1-2 1-3h1l1 4 1 31 1-23 1 7 1-19h1l1 1 1-1h5"/><path vector-effect="non-scaling-stroke" d="M0 0l1 3 1-3 1 45 1-45h14l1 11 1 19 1-25 1 13 1-3 1-15 1 1 1-1h8l1 9 1-9 1 10 1-10h1l1 13 1 46 1-59h2l1 17 1-17h1l1 7 1-7h2l1 28 1-25 1-3 1 34 1-26 1-8 1 2 1 12 1-7 1-7 1 18 1-18h6l1 15 1 34 1-49 1 24 1-24h2l1 18 1 1 1-19 1 36 1-34 1-2 1 10 1 12 1-22h2l1 26 1 3 1-5 1-24h1l1 17 1-9 1-5 1-3 1 3 1-3h4l1 19 1-11 1-8h1l1 1 1 7 1 13 1-10 1-9 1 13 1-15 1 9 1-9h1l1 12 1-12 1 15 1-15 1 5 1 52 1-57 1 6 1-3 1 3 1-6h8l1 10 1 3 1-11 1-2 1 7 1 21 1-7 1-21 1 2 1 7 1-7 1-2 1 45 1-6 1-39h2l1 20 1-20h9l1 6 1-6 1 17 1-17 1 9 1 9 1-17 1-1h1l1 9 1-8 1-1 1 11 1 1 1 17 1-29h6l1 2 1 11 1-4 1-9 1 8 1-8h1l1 10 1-10h1l1 3 1-2 1 22 1-23h9l1 5 1 7 1-8 1-4h1l1 2 1-2 1 65 1-22 1-41 1-2h2l1 11 1-10 1-1 1 6 1 8 1 32 1-46h4l1 2 1-1 1-1 1 10 1-7 1-3h3l1 9 1 14 1-23 1 18 1-18h1l1 16 1-16h1l1 2 1-2h1l1 7 1 12 1-16 1-3h3l1 25 1-25h7l1 4 1-4 1 3 1-3h12l1 4 1-4h1l1 16 1-16h16l1 45 1-45h7l1 27 1-27h1l1 4 1-4h7l1 6 1-5 1 21 1-22h3l1 4 1 15 1 73 1-92h1l1 9 1-9 1 4 1-4 1 6 1-6 1 9 1-7 1-2h9l1 14 1-14h5"/><path vector-effect="non-scaling-stroke" d="M0 0h2l1 13 1-8 1 8 1-1 1-3 1-9h1l1 19 1 16 1-35h9l1 6 1 22 1-28h6l1 2 1-2h10l1 21 1 15 1-36h2l1 6 1-6 1 21 1 28 1-21 1-28h4l1 7 1 6 1-9 1-4 1 24 1 55 1-79h1l1 13 1-11 1-2 1 8 1 2 1-2 1-8h3l1 7 1 11 1-16 1 1 1 47 1-50h1l1 5 1 5 1-3 1-4 1-3 1 7 1-7h5l1 6 1 29 1 2 1-8 1-18 1-9 1 3 1-5 1 24 1-24h3l1 17 1 2 1-19h1l1 20 1 2 1-22 1 27 1-22 1 12 1-17h6l1 3 1 19 1 4 1-26 1 20 1-6 1-1 1-13h1l1 2 1-2h1l1 12 1-12h2l1 8 1 1 1-9h5l1 22 1-22h1l1 3 1-1 1 13 1-13 1-2 1 23 1-16 1-7h1l1 1 1 11 1-12 1 3 1-3h1l1 55 1 23 1-73 1 7 1-10 1 15 1-11 1-3 1-3h1l1 3 1 7 1-10 1 7h1l1-6 1 31 1 2 1-34h4l1 7h1l1 14 1-14 1-7h2l1 4 1-4h1l1 16 1-16h6l1 1 1 65 1-66h2l1 1 1-1h3l1 36 1-36h3l1 1h1l1-1h5l1 28 1-4 1-19 1 6 1-11 1 12 1-12h2l1 3 1 13 1-16h4l1 8h1l1-8h1l1 6 1-3 1-3h1l1 3 1 74 1-67 1-10h1l1 39 1-18 1-20 1 9 1-10 1 24 1-10 1-14 1 25 1-14 1-7 1 1 1-5h8l1 27 1-27h5l1 30 1-30 1 4 1 52 1-46 1 17 1-27 1 1 1-1h5l1 16 1-16h1l1 7 1-7 1 2h1l1-2h5l1 6 1 29 1 18 1-53h1l1 10 1-10h7l1 12 1-12h1l1 1 1 2 1-3h1l1 94 1-29 1-65h1l1 7 1-2 1 10 1-15h3l1 4 1-4h3l1 2 1 17 1-19h8l1 1 1-1"/><path vector-effect="non-scaling-stroke" d="M0 0h1l1 11 1 15 1-26 1 12 1 15 1-27h11l1 25 1-25h8l1 1 1 3 1-1 1 1 1-4h3l1 1 1-1h2l1 29 1-29h2l1 22 1-16 1 10 1-16h2l1 2 1 18 1-20 1 9 1-9h12l1 17 1 2 1 2 1-21 1 1 1-1h1l1 7 1-3 1-4h2l1 26 1-13 1-13h2l1 32 1-32h5l1 8 1 6 1-14h3l1 10 1-10h5l1 4 1 7 1-11 1 20 1 28 1-48h10l1 6 1-6h1l1 1 1-1h1l1 7 1 7 1-2 1-12h13l1 8 1-7 1 24 1-21 1-4 1 19 1-7 1-7 1 7 1 9 1-21h1l1 168 1-168 1 6 1-6h4l1 17 1-17h3l1 20 1-16 1 8 1-4 1 5 1 10 1-5 1-18 1 2 1 17 1-19h1l1 9 1-9h1l1 4 1-4h2l1 13 1 56 1-46 1-19 1-4h1l1 24 1-2 1-18 1 36 1-37 1-3 1 60 1-56 1-4h2l1 7 1-7h9l1 3 1-3h2l1 13 1-4 1 10 1-13 1-6 1 10 1-10 1 6 1-6 1 3 1-3h2l1 2 1-2h2l1 4 1 9 1-12 1 29 1 80 1-110h1l1 3 1-3h4l1 9 1-9h4l1 32 1-27 1 2 1-4 1-3 1 22 1-22 1 12 1 19 1 97 1-128 1 24 1-24 1 2 1-2h6l1 2 1-2h16l1 2 1-2h4l1 15 1-15h2l1 9 1-9 1 5 1 6 1-9 1-2h3l1 7 1-7h1l1 22 1-22 1 30 1-26 1-4h14l1 34 1-5 1-23 1 7 1-13h5l1 48 1-48h3l1 25 1 1 1-17 1 5 1-14h3l1 9 1-9 1 47 1-47h2"/><path vector-effect="non-scaling-stroke" d="M0 0h1l1 30 1-30h23l1 11 1-11h8l1 10 1-10h2l1 22 1-22h2l1 11 1 31 1-27 1-15h2l1 32 1-32h2l1 18 1-18h2l1 9 1-9h19l1 6 1-6h3l1 21 1-21h1l1 13 1 9 1 5 1-27h3l1 2 1 10 1 1h1l1-10 1 4 1-7h1l1 22 1-7 1-15h1l1 3 1 63 1-66h5l1 78 1-53 1-25 1 17 1-17 1 34 1-10 1-16 1 17 1-4 1-21h1l1 10 1 7 1-17h2l1 10 1-10h3l1 10 1-10h3l1 12 1-6 1 6 1-3 1-9 1 64 1-64h3l1 2 1-2h2l1 8 1-8h9l1 23 1 32 1-33 1 28 1-4 1-46h7l1 6 1-4 1-2 1 25 1-25 1 14 1-7 1-7h1l1 88 1-81 1 6 1-13 1 59 1-59h1l1 3 1 42 1-3 1-42h1l1 5 1 8 1-13h2l1 4 1-4h3l1 2 1-2 1 16 1 34 1-50 1 75 1-66 1-9h2l1 10 1-10h5l1 5 1-2 1-3h2l1 2 1 1 1 9 1-12h2l1 22 1-21 1-1h5l1 1 1 7 1-8h4l1 14 1 11 1 118 1-143 1 23 1-19 1-4 1 23 1-21 1 4 1-1 1-5h1l1 6 1 24 1-21 1-9h5l1 1 1-1h5l1 5 1-5h22l1 40 1-5 1-35h5l1 31 1 105 1-102 1-24 1-10h3l1 5 1-1 1-4h7l1 7 1-7h7l1 3 1-3h1l1 8 1-8h1l1 12 1-12 1 2 1-2h2l1 13 1-8 1-1 1-4 1 1 1 11h1l1 38 1-50h2"/><path vector-effect="non-scaling-stroke" d="M0 0l1 5 1 12 1 24 1-41h9l1 2 1 5 1-7h2l1 14 1 40 1-54h1l1 104 1-104h3l1 6 1-4 1-2 1 2 1-2h2l1 1 1 11 1-12 1 7 1-7 1 22 1-4 1-11 1-7h1l1 14 1-14h3l1 12 1-12h2l1 18 1-9 1-9h2l1 20 1 3 1-10 1-13h9l1 11 1-11 1 11 1-7 1 1 1-1 1 19 1-23 1 42 1-23 1-3 1-1 1-15h4l1 6 1-6h2l1 11 1-11 1 7 1 12 1 13 1-17 1-14 1-1h2l1 13 1-13h1l1 7 1-7 1 36h1l1-36 1 4 1-4 1 10 1-10 1 34 1-25 1 15 1-24 1 3 1 11 1 20 1-34 1 16 1-16h2l1 15 1-15 1 6 1 10 1-16h9l1 101 1-99 1-2h1l1 8 1 15 1-23h5l1 2 1 42 1-43 1 9 1-10h2l1 40 1-40h2l1 6 1-6h1l1 28 1 55 1-54 1-29 1 6 1-6 1 2 1 162 1-126 1-38h1l1 48 1-10 1-33 1-5h3l1 7 1-7h6l1 5 1-5h2l1 9 1-7 1-2 1 29 1-29h5l1 1 1-1h4l1 2 1-2h3l1 17 1-17 1 1h1l1-1 1 18 1-18 1 30 1-4 1-26h1l1 78 1-78h7l1 3 1-3h2l1 3 1 61 1-55 1-4 1-5 1 3 1-3h5l1 6 1 12 1-18 1 8 1-8h1l1 8 1-8 1 43 1-39 1 4 1-8h6l1 2 1-2h6l1 2 1-2h1l1 7 1 3 1-10h2l1 39 1-39h2l1 34 1-34h3l1 6 1-6 1 5 1-5 1 59 1-24 1-35h2l1 9 1-9 1 16 1 20 1-36h2l1 1 1-1h4l1 29 1-6 1-23h1l1 8 1-8h3l1 21 1 18 1-39h2l1 8 1-8 1 8 1 16 1-24 1 71 1-63 1-8h2l1 31 1-31h15l1 7 1-7h3"/><path vector-effect="non-scaling-stroke" d="M0 0h14l1 3 1-3h13l1 9 1-6 1-3h14l1 10 1-10h2l1 9 1-9h5l1 6 1-6h1l1 14 1-14h3l1 2 1-2h5l1 1 1-1h2l1 13 1-5 1 16 1-10 1 10 1-1 1 1 1 25 1-34 1-15h6l1 13 1-8 1-5 1 60 1-60 1 33 1-33 1 2 1-2h2l1 16 1-16h4l1 3 1-3h1l1 3 1 10 1-13h6l1 58 1-58h5l1 24 1-19 1-5h1l1 4 1 11 1-15 1 11 1-11h2l1 5 1 74 1-74 1 6 1-11 1 16 1-12 1-4h1l1 16 1-16h3l1 94 1-84 1 14 1 1 1-18 1-7 1 1 1 13 1 49 1-63h1l1 2 1 13 1-15 1 2 1-2h2l1 24 1 49 1-59 1-8 1-6h1l1 1 1-1h1l1 7 1-7 1 21 1-21 1 13 1 1 1-14 1 2 1 38 1-40 1 41 1-41 1 20 1-3 1 2 1-19h13l1 1 1 7 1 15 1 20 1-28 1-15 1 86 1-86h5l1 4 1 32 1-19 1 48 1-58 1-1 1 15 1-5 1-12 1-4h1l1 7 1 11 1-18h7l1 10 1-10h9l1 6 1-6h1l1 10 1 7 1-17 1 1 1 7 1 8 1-16h12l1 3 1-3h1l1 7 1-7h4l1 42 1-42 1 5 1-5 1 8 1-8 1 3 1-3h3l1 1 1-1h2l1 6 1-6h4l1 1 1 9 1-10h2l1 5 1-5h3l1 136 1-136h7l1 4 1-4h1l1 18 1-18h3l1 13 1-13h4l1 11 1-11h1l1 8 1-5 1-1 1 49 1-46 1 9 1-14 1 5 1-5h1l1 10 1 12 1-22 1 3 1-3h7"/><path vector-effect="non-scaling-stroke" d="M0 0h2l1 22 1-22 1 7 1 19 1-8 1-18 1 15 1-4 1-11 1 10 1-10h7l1 6 1 5 1 9 1-16 1-4h9l1 3 1-3 1 21 1-10 1 5h1l1 6 1-22h5l1 7 1-2 1 21 1-26 1 33 1-25 1-8 1 40 1-34 1-6h2l1 30h1l1-13 1-17h2l1 6 1-6h8l1 2 1-2h2l1 12 1-12h2l1 32 1-32h1l1 11 1 86 1-72 1-25 1 2 1-2h1l1 19 1-19h2l1 9 1 2 1 2 1-2 1 14 1-25h8l1 16 1-6 1 151 1-140 1-12 1-9h1l1 10 1-10 1 10 1-10 1 16 1-16h2l1 7 1-7h2l1 12 1-12 1 2 1-2h1l1 20 1-17 1 1 1-4 1 20 1-13 1 1 1-6 1-2h3l1 2 1-2 1 5 1 10 1-7 1 13 1-18 1-3 1 3 1-3 1 33 1 42 1-75h6l1 66 1-66 1 21 1-21 1 12 1-11 1 10 1-11h2l1 7 1-7 1 3 1 14 1-16 1 3 1-4 1 14 1-12 1-2h12l1 18 1-9 1-9h2l1 25 1-23 1 10 1-7 1-5h2l1 9 1 18 1-27 1 11 1 50 1-42 1-19 1 24 1-24h1l1 4h1l1 13 1 33 1-50 1 27 1-7 1-15 1-5h1l1 8 1-8 1 1 1 33 1-29 1 20 1-25h1l1 3 1-3h1l1 3 1-3 1 1 1-1h4l1 16 1-14 1-2h1l1 14 1 35 1-49h5l1 26 1-22 1 7 1-11h5l1 5 1-5h6l1 2 1-2h1l1 2 1 3h1l1-5 1 5 1 10 1-9 1 12 1-18h3l1 5 1-1 1-4h5l1 25 1-25h12l1 15 1 113 1-128h1l1 11 1-11h5l1 20 1-20h7l1 14 1 21 1 1 1-23 1-4 1-3 1 6 1-12h10l1 3 1-3 1 5 1-3 1-2h5l1 1"/><path vector-effect="non-scaling-stroke" d="M0 0h1l1 23 1 2 1-19 1-6h5l1 14 1-9 1-5h4l1 7 1 15 1 5 1-27 1 4 1 33 1-17 1-19 1-1h3l1 1 1 4 1-5h5l1 4 1-4 1 8 1 3 1-11h1l1 4 1-4h4l1 4 1-4h3l1 10 1 5 1-15h2l1 2 1-2h1l1 31 1-23 1-8h4l1 11 1-11 1 5 1-5h8l1 5 1-5h9l1 16 1 25 1-41 1 46 1-21 1-20 1 6 1-11 1 12 1-4 1-8h3l1 12 1 43 1-23 1-11 1-21h6l1 10 1-10 1 16 1-7 1-9h6l1 22 1-22h1l1 5 1-5h6l1 10 1-10h7l1 12 1 10 1-22h3l1 35 1-20 1 38 1-49 1-4h1l1 15 1-15h3l1 15 1-6 1-9h1l1 27 1-11 1-13 1-1 1-2h1l1 3 1 9 1 19 1-30 1-1h2l1 6 1-6 1 4 1-4h4l1 93 1-63 1-2 1-26 1 1 1-3h3l1 5 1 1 1-2 1 4 1-8h6l1 10 1-10 1 2 1 7 1 14 1-23h4l1 42 1-28 1-4 1 20 1-30 1 5 1-5 1 10 1-10h1l1 10 1-10h6l1 5 1 45 1-21 1 6 1-35h2l1 61 1-49 1-12h1l1 12 1-12h2l1 34 1-34h9l1 15 1 15 1-7 1-8 1 12 1-27h19l1 16 1-16h1l1 22 1-22h4l1 7 1 1 1 1 1 5 1-14 1 9 1-9 1 3 1-3 1 16 1 3 1-19h4l1 19 1 74 1-43 1-42 1 5 1 4 1-17 1 1 1 2 1-3h4l1 35 1-35h1l1 2 1-2h2l1 10 1 4 1 35 1-49h2l1 15 1 35 1-49 1-1h3l1 1 1 4 1-5h2l1 3 1 1 1 3 1 1 1-8 1 16 1-15 1-1h2l1 2"/><path vector-effect="non-scaling-stroke" d="M0 0l1 14 1 7 1-21h5l1 3 1-3h6l1 10 1-10h3l1 31 1-31h6l1 7 1 39 1-27 1-12 1-7h7l1 16 1-11 1 13 1-18 1 33 1-33h3l1 35 1 57 1-76 1 2 1-1 1-17h1l1 3 1-3h10l1 73 1-73h3l1 10 1-10h5l1 3 1 2 1-5 1 7 1-7h3l1 31 1-30 1 7 1 14 1-22h1l1 40 1-21 1 5 1-20 1-4 1 6 1-3 1 14 1-17h2l1 1 1-1h6l1 2 1-2h2l1 4 1 17 1-21h5l1 11 1 10 1-21h4l1 3 1-3h2l1 13 1-13 1 6 1-6h4l1 10 1 21 1-12 1-19h13l1 13 1-13 1 7 1-1 1-6h1l1 17 1 30 1-47 1 4 1 10h1l1 43 1-27 1-26 1-4 1 12 1-12 1 21 1-21h6l1 54 1-54 1 24 1-8 1-8 1 4 1-12h7l1 65 1-64 1 2 1-3h2l1 3 1-3 1 12 1-12h3l1 53 1-53h4l1 13 1-13 1 7 1 62 1-69h7l1 7 1-7h2l1 8 1-8h1l1 5 1-5h1l1 115 1-115h10l1 79 1-38 1-41 1 4 1-4h1l1 5 1-5h1l1 7 1-7 1 4 1-4 1 34 1-34 1 10 1-10h4l1 7 1 17 1-21 1 16 1-9 1-5 1-5h3l1 5 1 16 1 11 1-32h6l1 1 1-1h3l1 2 1-2h3l1 16 1-2 1-14 1 2 1-2h5l1 9 1 14 1-23 1 55 1-55 1 3 1-3h1l1 4 1-4h1l1 15 1-15h2l1 5 1-2 1 3 1-6 1 22 1-22h4l1 4 1 31 1-35h8l1 55 1-4 1-51h2l1 5 1-5 1 5 1 2 1-7 1 5 1-3"/><path vector-effect="non-scaling-stroke" d="M0 0l1 12 1-12 1 88 1-88h5l1 15 1-15h2l1 2 1-2h1l1 8 1 15 1-23h1l1 13 1-1 1 10 1-22h14l1 2 1 4 1 21 1-15 1-12 1 18 1-18h1l1 2 1-2h1l1 12 1-12 1 7 1-7h1l1 41 1-41h5l1 15 1 14 1-29h3l1 9 1-9 1 13 1-13h2l1 6 1-6h2l1 8 1 2 1 123 1-81 1-43 1 24 1-16 1-17h3l1 19 1-19h1l1 6 1 8 1 21 1-35h4l1 4 1-4h1l1 154 1-43 1-111 1 9 1 2 1 32 1-43h2l1 4 1-4 1 49 1-49 1 4 1-4 1 8 1-7 1-1h1l1 34 1-34h2l1 22 1-22h2l1 11 1-11h1l1 2 1-2h1l1 12 1 2 1-14h3l1 26 1-26h5l1 2 1 3 1-5h1l1 4 1 19 1-23h1l1 61 1-26 1-18 1 18 1-35h2l1 28 1-28h1l1 13 1-13 1 49 1-46 1-3h1l1 22 1 85 1-107 1 3 1 51 1-54 1 8 1 3 1 52 1-63 1 12 1-10 1 35 1-34 1 8 1-11h1l1 16 1-16 1 1 1 33 1-34 1 12 1-4 1-8h2l1 22 1-22h1l1 45 1-45h2l1 1 1-1h3l1 7 1-7h1l1 37 1-37h1l1 8 1-8 1 20h1l1-20h11l1 6 1 23 1-28 1-1h5l1 2 1 33 1-23 1-9h1l1-3 1 6 1-2 1-4h3l1 12 1 43 1-12 1-37 1 6 1-12h6l1 7 1-7h3l1 1 1-1 1 10 1 9 1-18 1 7 1 12 1-20h1l1 24 1-22 1 4 1-6h5l1 1 1-1h9l1 37 1-37h2l1 5 1 21 1-26h6l1 4 1-4 1 19 1 65 1-84 1 27 1 22 1-45 1-4h4l1 21 1 6 1-15 1-12h5l1 20 1 1 1-21h3l1 8 1 39 1-47h5l1 20 1 12 1-32 1 7 1 1 1-8h3l1 6 1-6h1l1 3 1-3h1"/><path vector-effect="non-scaling-stroke" d="M0 0h1l1 22 1-22h3l1 8 1-2 1 31 1-8 1-29h15l1 1 1-1h6l1 10 1-10h3l1 1 1 9 1-10h4l1 21 1-21h5l1 11 1-6 1 36 1-41h4l1 4 1 4 1-8h5l1 10 1-10h2l1 90 1-90 1 5 1-5 1 4 1 9 1 24 1 64 1-91 1-4 1 7 1-13h1l1 57 1-45 1 6 1-10 1-8 1 34 1-22 1 10 1-22h2l1 14 1-14h5l1 5 1 9 1-8 1 44 1-50h1l1 1 1-1 1 15 1 14 1 58 1-83 1-4h1l1 18 1-6 1-12h1l1 3 1 7 1-10h1l1 3 1-3h4l1 8 1-8h3l1 49 1-44 1-2 1-3h3l1 3h1l1-3h1l1 2 1 5 1 2 1-9h1l1 87 1-87h1l1 6 1-5 1-1h4l1 18 1-18h1l1 5 1-5 1 49 1-49h2l1 21 1-21h3l1 6 1-6h1l1 107 1-107h1l1 4 1-4 1 1 1-1h3l1 3h1l1-3 1 34 1-33 1 12 1-13 1 9 1 86 1-81 1-14h1l1 18 1 29 1 5 1-32 1-4 1-5 1-6 1-5 1 15 1-15h1l1 48 1-44 1 2 1-6h3l1 9 1-9h1l1 4 1 16 1 18 1-1 1-37h2l1 20 1-20h5l1 9 1-9 1 2 1-2h2l1 169 1-154 1-15h1l1 4 1-4h2l1 1h1l1 9 1-10 1 39 1-39h2l1 3 1-3h10l1 9 1-9h1l1 2 1-2 1 2 1-2h2l1 18 1-18h1l1 3 1-3h2l1 10 1-10h1l1 25 1-25 1 18 1-18h6l1 12 1-12h2l1 10 1-10h1l1 10 1-10h9l1 5 1 12 1-11 1-5 1-1h10l1 9 1 14 1 47 1-46 1 7 1-28 1-3h5l1 6 1-6h2l1 6 1-1 1-5h2l1 5 1-5h8"/><path vector-effect="non-scaling-stroke" d="M0 0h1l1 19 1-19h4l1 10 1-10 1 15 1-15 1 25 1-25 1 2 1-2h1l1 2 1 11 1-13 1 71 1-69 1-2h18l1 29 1-29h1l1 5 1 24 1-29h4l1 39 1-26 1-13h6l1 23 1-23h5l1 6 1 12 1-18h10l1 12 1-12h1l1 7 1 8 1-12 1 19 1-10 1-12 1 43 1-23 1-18 1-2h1l1 13 1 5 1-8 1-7 1 30 1-21 1-2 1-5 1-5h10l1 26 1 7 1-10 1-23h1l1 5 1-5h5l1 1 1-1 1 9 1 4 1-3h1l1-10h6l1 8 1-8h1l1 4 1-4h1l1 11 1-11 1 1 1 9 1-10h2l1 11 1-11h3l1 8 1 31 1-9 1-22 1-8h2l1 2 1-2h11l1 24 1-24h6l1 3 1 2 1-5 1 26 1 32 1-42 1-3 1-13h1l1 17 1-12 1-5 1 4 1 182 1-164 1 15 1-37 1 6 1 12 1 8 1-17 1-9h1l1 27 1-23 1-4 1 3 1-3h5l1 18 1-17 1 7 1 74 1-82 1 23 1-7 1 6 1-8 1-14 1 11 1-11h15l1 36 1-36h5l1 7 1 7 1-14 1 95 1-51 1-3 1-36 1-5h4l1 20 1-18 1-2h1l1 18 1 2 1-7 1-13h5l1 24 1-21 1-3h4l1 2 1-2h3l1 2 1 28 1 14 1 15 1-57 1 28 1-15 1-15h3l1 2 1 5 1-7 1 26 1-22 1-4h10l1 97 1-42 1 77 1-130 1-2 1 12 1-12h2l1 7 1-7h1l1 10 1 3 1 11 1 47 1-44 1-27h1l1 6 1 5 1-11 1 48 1-32 1-16h19l1 4 1-4h1l1 7 1-7h1"/><path vector-effect="non-scaling-stroke" d="M0 0h1l1 26 1-26h1l1 1 1 17 1 13 1-31 1 11 1 22 1 35 1-51 1-14 1 2 1-5h2l1 15 1 27 1-42h1l1 15 1-15h4l1 14 1-10 1 5 1-8 1-1h5l1 9 1-9 1 15 1-15 1 26 1-26 1 27 1-14 1-9 1 17 1-17 1-4h2l1 19 1-19h1l1 29 1-7 1-21 1 9 1 16 1-10h1l1-16h3l1 6 1-6h3l1 31 1-31h2l1 25 1-25h1l1 10 1-10h3l1 12 1-12 1 6 1-6 1 5 1-5h1l1 8 1-8h6l1 25 1-25 1 18 1-18h4l1 3 1-2 1 35 1-36h6l1 2 1 8 1-10h1l1 16 1-11 1-5h2l1 2 1-2 1 28 1 15 1-42 1-1h5l1 4 1-2 1-2h7l1 2 1-2h3l1 10 1-9 1 6 1 55 1-62 1 13 1-13 1 7 1-7 1 1 1-1h1l1 59 1-33 1-26 1 3 1-3h1l1 81 1-81h9l1 21 1-21h1l1 3 1-3h1l1 26 1 50 1-76h2l1 4 1-2 1 3 1-5 1 10 1-10h1l1 6 1-6 1 6 1-6 1 24 1-18 1-3 1-3h1l1 41 1-41 1 12 1-12h4l1 5 1-5 1 12 1-12h2l1 7 1 4 1-11h2l1 2 1-2h2l1 6 1-6h2l1 26 1-26h1l1 2 1-2 1 1 1 5 1 17 1-20 1-3h1l1 4 1-4h4l1 9 1-9h1l1 34 1-10 1 15 1-22 1-16 1-1h1l1 3 1 1 1-4h3l1 13 1-13h8l1 3 1 3 1-6h6l1 4 1-4h1l1 10 1-10h1l1 6 1-6h12l1 24 1-21 1-3h5l1 3 1-3 1 95 1-95h2l1 24 1-24h3l1 4 1-4h1l1 7 1-7h3l1 31 1-31h1l1 62 1-62h1l1 51 1-51h4l1 16 1-8 1-8h1l1 7 1-2 1 8 1-6 1-7 1 15 1-15 1 8 1-8 1 17 1-17h5"/><path vector-effect="non-scaling-stroke" d="M0 0h2l1 52 1-52h1l1 18 1-18h3l1 61 1-61h6l1 8 1-8h2l1 41 1-31 1-10 1 1 1-1h12l1 3 1-3h2l1 8 1-6 1 10 1-12h3l1 4 1 8 1-12h5l1 7 1-3 1 9 1-13 1 8 1-8h7l1 10 1-4 1-6h2l1 6 1 4 1-10h1l1 22 1-17 1 2 1-7h2l1 2 1 54 1 38 1-94h13l1 25 1-25h3l1 18 1-18h3l1 7 1 23 1-30h3l1 35 1-35h3l1 6 1-6 1 5 1-5h8l1 8 1-7 1 7 1-7 1-1h5l1 3 1-3 1 28 1-28h7l1 13 1-13h4l1 27 1-1 1-26h3l1 4 1-4 1 13 1-13h1l1 7 1 23 1-30h2l1 8 1-8h1l1 11 1-11h1l1 6 1-6h1l1 44 1-44h1l1 43 1-12 1-31h4l1 1 1-1h3l1 10 1-10h3l1 7 1-7h6l1 13 1-12 1 6 1-2 1-5 1 34 1 29 1-63h3l1 21 1-18 1-3h2l1 4 1-4h6l1 7 1-5 1-2 1 34 1-21 1-13h2l1 15 1-15h3l1 2 1-2h1l1 10 1-10h2l1 6 1-6h5l1 29 1-29h4l1 24 1-13 1-3 1-8h8l1 2 1-2 1 9 1 94 1-103h1l1 9 1 8 1-2 1-13 1-2h19l1 16 1 15 1-31h18l1 5 1-5h14l1 7 1-7 1 5 1-5h6l1 1 1-1"/><path vector-effect="non-scaling-stroke" d="M0 0h1l1 20 1-20h3l1 21 1 9 1-30 1 24 1-24h10l1 28 1-28h1l1 3 1-3h10l1 2 1-2h5l1 8 1 19 1-27h8l1 32 1-32h6l1 4 1-4 1 5 1-2h1l1-3 1 18 1 20 1-23 1-15h1l1 22 1-22h11l1 39 1-39 1 33 1-27 1-6h2l1 12 1-12 1 13 1 24 1-14 1-6 1-5 1-3 1 9 1-18h3l1 7 1 35 1-13 1-24 1-5 1 3 1 14 1-17h3l1 21 1-21h2l1 13 1-13h2l1 55 1 84 1-53 1-86h2l1 55 1-55h3l1 15 1-2 1-13h1l1 25 1-18 1-4 1-3 1 8 1 1 1 13 1-4 1 34 1-49 1-3h4l1 10 1 72 1-82h3l1 51 1-51 1 16 1-16 1 8 1-8h1l1 20 1-20h5l1 1 1-1 1 4 1-4h5l1 7 1 18 1-25 1 2 1-2 1 5 1 8 1-10 1-3 1 17 1-15 1 51 1-53h2l1 6 1-6h3l1 4 1-4h4l1 7 1-7h5l1 3 1-3h12l1 4 1-4h1l1 27 1-26 1-1h6l1 12 1-12 1 1 1-1h1l1 3h1l1-3 1 3 1 4 1 4 1-11h5l1 8 1 13 1-21 1 5 1-5 1 1 1-1h1l1 28 1-28h1l1 2 1 14 1-16h1l1 5 1-5h5l1 3 1-3 1 3 1-2 1-1 1 9 1 3 1-12 1 56 1-37 1 1 1-17 1-3h5l1 8 1-8 1 38 1-37 1-1h25l1 7 1-4 1-3h1l1 22 1-22h6l1 6 1-6 1 21 1 15 1-36 1 17 1-13 1-4h2l1 9 1-9h3l1 1 1 7 1-8 1 31 1-31h1l1 2"/><path vector-effect="non-scaling-stroke" d="M0 0l1 13 1-13 1 35 1-35h1l1 33 1-33 1 3 1-3 1 24 1 17 1-36 1-5h3l1 1 1 11 1 31 1 60 1-103 1 32 1-1 1-27 1 3 1-3 1 3 1-6 1 3 1-4h1l1 1 1-1h1l1 3 1 2 1 1 1-6h1l1 7 1-7h2l1 24 1-13 1-11 1 18 1-16 1 7 1-1 1 16 1-1 1-17 1 20 1-11 1 19 1-34h1l1 2 1 18 1-13 1 33 1-40h1l1 7 1-7 1 14 1-14h1l1 19 1-19h4l1 3 1 38 1-41h1l1 18 1-18h5l1 16 1 2 1 21 1-39 1 7 1 2 1-9h4l1 18 1 8 1-20 1-1 1 10 1 11 1-26h1l1 2 1 2 1 13 1-17h2l1 34 1-34 1 14 1-14h2l1 8 1-8h1l1 7 1 30 1 5 1-42h1l1 35 1-35 1 46 1-29 1-17h5l1 18 1-6 1-12h10l1 7 1 14 1-19 1-2 1 33 1-33h1l1 8 1 1 1-9h7l1 216 1-177 1 1 1-22 1-18h4l1 2 1 29 1-14 1-17 1 16 1 19 1-26 1 10 1-10 1 7 1-16 1 3h1l1-3 1 14 1-14h3l1 2 1-2h2l1 3 1-2 1-1h3l1 1 1 21 1-13 1 33 1-42h3l1 3 1-3h3l1 13 1 11 1-23 1-1 1 50 1 1 1 76 1-127h10l1 5 1-5h7l1 20 1-20h3l1 5 1-5h4l1 8 1 16 1 31 1-47 1-8h1l1 4 1-2 1-2h1l1 28 1-28 1 2 1 2 1-4h5l1 5 1-5h3l1 1 1 5 1-6h4l1 16 1-16h2l1 4 1 26 1-30h1l1 10 1-5 1-5h4l1 13 1-13h1l1 3 1 3 1-6 1 17 1-6 1-11h5l1 28 1-28h1l1 13 1-3 1-10 1 7 1-7h5l1 7 1-3 1-4h3l1 9 1 70 1-79h9l1 18 1 33 1-51 1 22 1-22h8l1 9 1 3 1 1 1-13 1 1"/><path vector-effect="non-scaling-stroke" d="M0 0h1l1 9 1 30 1-32 1-2 1-5h1l1 19 1 34 1-42 1 37 1-23 1-25 1 5 1-2h1l1-3h1l1 31 1 1 1-24 1 28 1-15 1-21h1l1 3 1 5 1-8h7l1 16 1 18 1-30h1l1 7 1-11h2l1 8 1 9 1 5 1-22h3l1 16 1-16h3l1 7 1-7h3l1 46h1l1-46 1 5 1-2 1 6 1 4 1-13h12l1 10 1-10 1 2 1 27 1-29 1 26 1-26h5l1 2 1-2 1 14 1-14h4l1 12 1-12h2l1 14 1-7 1-5 1-2h6l1 20 1-20h2l1 28 1 47 1-74 1-1h5l1 12 1 24 1-16 1-7 1-13 1 1 1-1h1l1 14 1-5 1-9h3l1 8 1-8h2l1 2 1 1 1-3 1 47 1-40 1-7h2l1 8 1-8 1 20 1-20h1l1 9 1-9 1 11 1-11h11l1 80 1-78 1-2h1l1 5 1-5 1 41 1-36 1 46 1-51 1 35 1-33 1-2h1l1 35 1-3 1 14 1-46 1 2 1 57 1 1 1-44 1 19 1-30 1-5 1 10 1-10 1 3 1-3h1l1 1 1-1h1l1 4 1-4h6l1 5 1 9 1 7 1-5 1-10 1-3 1 4 1-3 1 57 1-44 1-17 1 3 1-3 1 1 1-1h1l1 1 1-1h1l1 2 1-2h7l1 4 1-4h2l1 34 1-8 1-26h3l1 1 1-1h1l1 6 1-6h4l1 8 1-8 1 13 1-7 1 14 1 29 1-49h1l1 29 1-18 1-11 1 3 1-3h4l1 8 1-8h1l1 3h1l1 1h1l1-1 1 17 1-14 1 23 1-25 1 2 1 9 1-15h3l1 1 1 3 1-4h1l1 34 1-17 1 87 1-104h2l1 1 1-1h1l1 3 1-3h3l1 12 1 82 1 111 1-205 1 57 1-28 1-29h3l1 3 1-3 1 20 1 4 1-24 1 27 1-14 1-13h2l1 20 1-9 1 5 1-16h3l1 4 1-4h2l1 21 1-18 1 16 1-19h1l1 11 1-6 1-5 1 10 1-4 1-6h4l1 19 1-19h2"/><path vector-effect="non-scaling-stroke" d="M0 0h2l1 21 1-21 1 7 1 19 1-15 1 8 1-19 1 18 1 30 1-36 1-4 1-4 1-4h3l1 7 1-7h8l1 5 1-5h2l1 13 1 3 1-8 1-8h1l1 4 1 6 1 61 1-31 1-28 1-12h2l1 46 1-46h6l1 25 1-25h3l1 7 1 33 1-40h1l1 22 1-22h8l1 11 1 6 1 43 1-60h1l1 2 1 1 1 11 1-6 1 1 1-3 1-6 1 6 1-6h2l1 7 1-7h5l1 16 1-16h1l1 2 1 7 1-8 1 16 1-17h4l1 24 1-10 1 30 1-44h2l1 8 1-8h1l1 10 1-10h1l1 63 1-32 1 65 1-96h1l1 19 1-8 1-11 1 60 1-60h9l1 1 1 15 1-6 1 49 1-51 1-8h1l1 11 1-11h5l1 2 1 10 1-6 1-6 1 57 1-57 1 2 1-2 1 8 1-8 1 6 1-2 1-4 1 17 1-17h6l1 16 1-15 1 2 1-3h2l1 18 1 24 1-42h2l1 8 1-8h1l1 32 1 18 1-38 1-5 1-7 1 1 1 55 1-56h1l1 7 1-7h2l1 7 1-7h2l1 1 1-1h6l1 10 1 26 1-34 1 2 1-4h2l1 12 1-10 1 14 1-5 1-5 1-4 1-2h13l1 28 1 18 1-25 1-21h1l1 12 1-12 1 27 1-27h1l1 4 1 22 1-26h1l1 2 1 21 1-23 1 2 1-2 1 14 1-14h1l1 7 1-7 1 21 1-5 1-16 1 147 1-135 1-12h5l1 4 1-4h2l1 6 1-6 1 39 1-39 1 9 1-4 1 15 1-19 1-1 1 29 1-27 1-2h2l1 5h1l1-4 1-1h1l1 5 1-5h3l1 10 1-10 1 5 1 20 1-11 1 7 1-9 1-11 1-1 1 1 1 12 1-11 1-2 1 33 1-19 1-14h2l1 1 1 4 1-5h4l1 7 1-7h6l1 23 1 67 1-88 1-2 1 3 1-3h2l1 4 1 10 1-5 1-9h1l1 1 1-1h2l1 20 1-20 1 2 1-2h3l1 5 1-5h3"/><path vector-effect="non-scaling-stroke" d="M0 0h1l1 99 1-99h3l1 31 1-18 1-13 1 19 1-9 1-2 1-8h6l1 11 1-3 1 27 1 36 1-65 1-6h10l1 5 1-5h3l1 17 1-17h1l1 41 1-13 1-10 1-18h2l1 5 1-5h18l1 4 1-4h1l1 6 1-6h9l1 4 1 34 1-38h2l1 43 1-43 1 10 1-5 1-5 1 5 1-1 1 49 1-25 1-28 1 5 1 64 1-55 1 25 1-26 1-13 1 5 1-5h1l1 31 1-31h10l1 26 1-26 1 7 1 4 1-11h6l1 5h1l1-5 1 19 1-19 1 9 1-2 1-3 1-4h1l1 14 1-4 1-10h8l1 2 1-2h3l1 20 1-20h10l1 27 1-12 1-15h2l1 3 1 119 1-112 1-10h7l1 31 1-14 1 2 1-19 1 7 1-7 1 18 1-18 1 23 1-7 1-15 1-1h2l1 4 1 3 1-7h11l1 10 1 9 1 39 1-55 1-3h2l1 27 1-15 1 32 1-10 1-34h1l1 30 1 114 1-142 1 25 1-27h1l1 1 1-1h4l1 6 1-6 1 40 1-40 1 5 1-4 1-1 1 2 1-2h7l1 8 1-2 1 64 1-70 1 3 1-3h1l1 4 1 12 1-16h2l1 10 1-10h7l1 18 1-18 1 14 1-13h1l1 13 1-14h1l1 9 1-9h2l1 129 1-95 1-34h1l1 38 1-10 1-28h4l1 1 1-1h3l1 8 1-8 1 9 1 14 1-1 1-22h2l1 3 1-3h1l1 1 1 16 1 10 1 26 1-53 1 46 1-46h10l1 11 1-11h1l1 9h1l1-4 1 72 1-77h6l1 9 1-9h5l1 17 1 6 1-23h4l1 27 1-20 1 3 1-10h2"/><path vector-effect="non-scaling-stroke" d="M0 0h1l1 28 1-28h3l1 9 1-9 1 14 1-14h9l1 63 1-51 1 9 1-21h9l1 9 1 3 1-12h5l1 3 1-3h8l1 32 1-14 1-13 1-5 1 14 1-3 1 17 1-28h1l1 36 1-36h1l1 14 1-14h1l1 6 1-6h3l1 20 1-18 1-2h4l1 3 1-3h1l1 25 1-25h2l1 11 1-11h2l1 31 1-31h3l1 4 1 2 1-6 1 4 1-4h2l1 21 1-21 1 25 1 29 1-49 1-5h1l1 147 1-144 1-3h1l1 18 1-18h1l1 22 1-19 1-3h1l1 19 1 15 1 18 1-52h1l1 2 1 4 1-6h1l1 8 1-8h2l1 4 1-4 1 8 1-8h2l1 3 1-2 1 2 1-3 1 15 1-15h2l1 10 1-10h2l1 21 1-21h1l1 7 1 18 1-19 1-6h1l1 12h1l1-12 1 38 1-31 1-7h5l1 84 1-73 1-8 1-3h2l1 24 1-24 1 12 1 9 1 14 1-15 1-19 1 4 1 205 1-200 1-5 1-5h4l1 27 1-27 1 2 1 9 1-11h2l1 12 1-1 1 24 1-35 1 27 1-20 1-7h2l1 3 1-3h2l1 94 1-90 1-4 1 2 1-2h1l1 26 1-26h2l1 38 1-6 1-3 1-19 1-7 1-3h8l1 2 1-2h1l1 1 1-1 1 10 1-10h2l1 23 1-13 1-10h2l1 22 1-17 1-4 1-1h2l1 19 1 15 1 25 1-59 1 8 1 2 1 29 1-36 1-3 1 8 1-8 1 8 1-8h3l1 6 1-6 1 6 1-6h6l1 22 1-22h6l1 15 1-6 1-5 1 10 1 1 1-12 1-3h1l1 7 1-1 1-6h17l1 13 1-13h1l1 62 1-62h9l1 24 1-20 1 3 1-7h2l1 32 1 37 1-59 1-10h13l1 14 1-14h4l1 2 1-2h3"/><path vector-effect="non-scaling-stroke" d="M0 0h2l1 69 1-69h1l1 9 1-9h4l1 25 1-18 1-7h4l1 16 1-16h1l1 11 1-11h5l1 3 1-3h6l1 14 1-14h2l1 25 1 4 1-29h3l1 6 1-6h1l1 3 1-3 1 22 1-22 1 7 1-7h2l1 18 1-18 1 9 1-9h2l1 2 1-2h5l1 45 1-38 1-7 1 5 1-5h1l1 18 1-10 1-8h7l1 5 1 14 1 62 1-18 1-61 1-2h5l1 36 1-36 1 4 1 16 1-9 1 6 1 10 1-27h3l1 15 1-15h3l1 105 1-105 1 2 1-2 1 32 1-6 1-7 1-19 1 16 1-13 1-3h1l1 8 1-8h2l1 15 1-3 1 16 1-28h6l1 2 1 3 1-3 1-2 1 3 1-3h3l1 17 1-17h5l1 15 1 25 1-40h2l1 13 1 16 1-29 1 19 1-19h3l1 9 1-2 1-7 1 1 1-1h1l1 9 1-9h1l1 6 1-5 1-1 1 3 1-3 1 5 1 8 1 10 1-23h3l1 31 1-26 1-5 1 2 1-2 1 9 1-9h1l1 3 1-3h6l1 1 1-1h5l1 12 1 25 1-37h2l1 2 1-2h4l1 24 1-22 1 16 1-18h5l1 6 1-6h1l1 2 1-2 1 1 1-1 1 38 1-38h1l1 6 1-2 1-4h3l1 4 1 46 1-50h2l1 27 1 1 1 71 1-62 1-37h2l1 67 1-50 1-17h2l1 21 1 34 1-29 1-26h5l1 3 1-3h2l1 3 1-3h6l1 3 1-3 1 7 1-7h1l1 30 1-3 1-27h13l1 40 1-19 1-10 1-11h2l1 1 1-1h12l1 9 1-9 1 2 1-2h4l1 3 1 24 1-27h5l1 10 1-10h9l1 7 1-7h1l1 8 1-8h5"/><path vector-effect="non-scaling-stroke" d="M0 0h6l1 18 1-18h3l1 77 1-72 1-5h1l1 2 1 2 1 16 1 23 1-4 1-29 1 52 1-27 1-35h10l1 13 1-2 1-1 1-3 1 2 1-4 1-5h1l1 13 1 7 1-20 1 9 1-9h5l1 1 1 3 1-4h2l1 4 1-4h6l1 2 1-2h1l1 7 1-7h3l1 20 1-20h4l1 32 1 31 1-63h1l1 22 1-12 1-10h3l1 20 1-20 1 8 1-3 1-5 1 8 1-3 1 8 1 40 1-35 1-17 1-1 1 3 1-3 1 48 1-48 1 1 1-1 1 41 1-41h4l1 15 1 20 1-22 1-13 1 2 1-2h1l1 42 1-17 1-25h2l1 1 1-1h6l1 1 1 9 1-10 1 3 1 5 1-8 1 6 1 29 1-24 1 1 1-6 1-6h1l1 5 1 5 1 46 1-56h6l1 5 1-5h1l1 5 1-3 1-2h5l1 3 1-3h4l1 6 1 27 1-30 1-3h1l1 25 1 6 1-15 1 56 1-72 1 3 1-3h2l1 4 1-2 1-2h2l1 48 1-18 1 9 1-39h1l1 16 1-14 1 2 1-4h5l1 4 1-4h14l1 62 1-62h1l1 6 1-6h1l1 18 1-18 1 5 1 3 1-5 1 23 1-26h2l1 20 1 2 1-22h3l1 36 1-36h6l1 19 1-19 1 3 1-3 1 11 1 21 1-32 1 1 1 11 1 25 1-37h6l1 6 1-6h3l1 4 1-4h9l1 5 1-4 1 2 1-3 1 6 1-6 1 53 1-53 1 32 1-32h8l1 1 1-1h10l1 7 1 13 1-9 1-11h8l1 6 1 4 1 41 1-26 1-9 1-4 1-12h3l1 33 1-33h1l1 8 1-8h1l1 30 1-30h12l1 7 1-7h2l1 31 1-31h1l1 9"/><path vector-effect="non-scaling-stroke" d="M0 0h1l1 3 1-3h2l1 12 1-12 1 1 1-1 1 59 1-25 1-20 1-9 1-5h1l1 2 1-2h2l1 24 1-5 1-9 1-10h9l1 12 1-12h3l1 2 1 33 1-35h1l1 20 1-15 1 2 1-7h2l1 2h1l1-2 1 22 1-22h6l1 25 1-15 1-3 1-7h7l1 5 1 130 1-135 1 10 1 6 1 6 1-22h2l1 5 1 7 1-12h1l1 15 1 7 1-22h2l1 32 1-32h12l1 5 1-5h1l1 5 1-5h2l1 16 1-16 1 6 1-3 1 72 1-27 1-21 1-27h4l1 12 1-10 1-2h3l1 7 1 22 1-17 1-11 1-1 1 5 1-5h1l1 12 1-12h5l1 11 1-11h1l1 4 1-4h1l1 13 1-13 1 15 1-15h1l1 1 1 8 1-9h4l1 7 1-7h2l1 4 1 1 1 3 1-8h1l1 9 1-9 1 2 1 9 1 12 1-10 1-13h7l1 2 1-2h3l1 43 1-23 1-17 1-3h7l1 79 1-79h1l1 1 1 93 1-94 1 1 1-1h2l1 8 1-7 1-1h2l1 4 1-4h5l1 8 1 18 1-26h1l1 66 1-46h1l1-16 1 7 1 4 1-15h6l1 3 1-3h2l1 14 1-3 1 46 1-57h3l1 5 1-5h3l1 4 1 48 1-49 1 10 1 2 1-15 1 6 1 13 1-6 1-7 1-6h1l1 69 1-41 1-9 1 4 1-21 1 3 1-5h1l1 37 1-37h7l1 3 1-3h1l1 1 1 92 1-82 1-11h2l1 2 1-2h2l1 4 1-4h1l1 5 1 9 1 51 1-52 1-13h13l1 12 1-12 1 68 1-68h2l1 6 1-6h3l1 18 1-9 1 48 1-20 1-35 1-1 1-1 1 11 1-11 1 17 1-17h3l1 2 1-2h9l1 43 1-43h4l1 16 1-14 1 6 1-8h2"/><path vector-effect="non-scaling-stroke" d="M0 0h1l1 27 1-6 1-21h5l1 5 1 22 1-25 1-2h8l1 8 1-8 1 5 1-5 1 8 1-6 1 3 1-5h7l1 21 1-17 1 8 1-3 1 31 1-27 1 6 1-7 1 33 1-5 1-8 1-32h1l1 8 1 23 1-4 1-24 1-3 1 24 1-24h11l1 5 1 12 1-17 1 27 1-27 1 14 1-2 1-12h2l1 13 1-11 1 1 1 11 1-14h5l1 16 1-16h4l1 136 1-129 1 31 1-8 1-16 1-14 1 3 1-3h6l1 3 1-3h4l1 62 1-18 1-44h1l1 64 1-29 1-35 1 14 1 6 1-8 1-12h2l1 52 1-52h3l1 5 1-5h1l1 5 1-5h2l1 6 1 4 1-10 1 39 1-39h3l1 6 1-6 1 5 1-5h2l1 11 1 8 1-19h1l1 22 1-22h2l1 3 1-3h1l1 26 1-26 1 81 1-74 1-2 1-5h4l1 1 1-1h1l1 7 1 25 1 68 1-93 1-7 1 1 1-1h1l1 4 1-4h1l1 6 1 8 1 52 1-61 1-5h7l1 1 1-1 1 1 1 33 1-34h4l1 9 1-9h10l1 7 1-5 1-2h1l1 20 1-8 1 181 1-191 1-2h1l1 4 1-4h2l1 5 1-5 1 1 1-1h13l1 1 1-1h1l1 14 1-14 1 5 1 15 1-20 1 22 1-17 1-4 1-1h1l1 11 1 17 1 101 1-125 1-4h1l1 5 1-5h3l1 2 1 1 1 5 1-7 1-1h7l1 39 1-36 1 29 1-3 1-27 1-2h14l1 20 1-20 1 3 1-3h6l1 15 1 73 1-72 1-16h5l1 18 1-18h1l1 42 1-42h13l1 31 1-21 1-10h2l1 6 1 16 1-22 1 30 1-30h5l1 4 1-4h1l1 6 1-1"/><path vector-effect="non-scaling-stroke" d="M0 0h1l1 22 1 30 1-37 1-15h1l1 5 1-5h10l1 54 1-33 1-21h8l1 2 1-2h4l1 4h1l1-4 1 3 1-3 1 24 1-9 1-15h3l1 5 1-5 1 8 1 2 1 6 1 7 1-18 1-5h5l1 32 1 29 1-61 1 25 1-25h5l1 8 1 15 1-23 1 11 1 31 1-27 1-15h3l1 146 1-129 1-17h4l1 10 1-10h1l1 11 1-2 1-7 1 2 1 8 1-12 1 41 1-14 1-27 1 3 1-2 1-1h3l1 8 1-8h1l1 8 1 33 1-22 1-19 1 9 1-9h1l1 19 1-19h1l1 7 1 3 1-10 1 41 1-39 1-2h2l1 8 1-8h1l1 6 1-6 1 6 1 1 1-7h6l1 14 1 7 1 88 1-109h6l1 15 1-15 1 16 1-16h4l1 26 1 28 1-50 1 33 1-37 1 93 1 84 1-177 1 15 1 22 1-34 1 7 1-10h15l1 42 1 16 1-58 1 55 1-35 1-20h3l1 10 1-2 1-8h7l1 1 1-1h1l1 7 1-7h7l1 3 1-3 1 7h1l1-7h4l1 2 1 29 1-19 1 14 1-26 1 16 1-16h5l1 2 1 5 1-5 1 8 1-10h3l1 2 1-2h2l1 6 1-6h4l1 4 1-4h3l1 17 1-8 1-9h2l1 29 1-28 1-1h10l1 1 1 9 1-10 1 4 1-2 1 22 1-14 1-10h1l1 11 1-1 1 36 1-46 1 34 1-34 1 5 1 5 1-10h5l1 24 1-24 1 8 1-1 1-7h3l1 4 1-4h1l1 4 1-4 1 7 1 10 1-17h10l1 8 1 13 1-21h2l1 4 1 5 1-6 1-3 1 30 1-23 1-7 1 8 1-2 1 51 1-18 1-39h1l1 8 1-2 1 10 1-16h4l1 6 1-6 1 52 1-52 1 4 1-4h1l1 9 1-9 1 1 1-1"/><path vector-effect="non-scaling-stroke" d="M0 0h2l1 14 1-14h3l1 7 1-5 1-2h2l1 12 1-12h3l1 12 1 22 1-34h9l1 3 1-3 1 2 1-2h6l1 11 1 13 1-17 1-7 1 12 1-12 1 10 1-10h6l1 10 1-10h2l1 23 1-23h8l1 2 1-2h1l1 28 1-28 1 13 1-4h1l1-9h4l1 37 1-33 1-4h3l1 1 1 38 1-5 1 64 1-98h6l1 1 1 5 1 3 1-9h7l1 14 1-14h2l1 2 1 14 1-16h4l1 13 1 10 1 56 1-79h1l1 16h1l1-5 1-5 1-6 1 9 1-9 1 47 1-47h2l1 36 1-36 1 6 1-6h10l1 69 1-67 1-2h1l1 17 1-12 1-4 1-1 1 12 1-8 1-4h4l1 11 1-11h1l1 1 1-1h8l1 25 1 2 1-27h1l1 9 1-9 1 41 1-32 1-9 1 5 1-5 1 17 1-3 1-12h1l1 8 1-10h7l1 19 1-19h7l1 17 1-15 1-2h1l1 124 1-124h2l1 8 1 3 1-11h1l1 6 1-6 1 6 1-6 1 2 1-2h11l1 88 1-81 1 87 1-94 1 17 1 14 1-31h5l1 1 1-1 1 3 1 18 1 12 1-33 1 3 1-3h3l1 1 1 15 1-13 1-3 1 17 1-17h3l1 4 1 19 1 7 1-26 1-4h2l1 1 1-1h8l1 26 1-15 1-11 1 8 1-5 1-2 1-1 1 1 1-1 1 2 1-2h3l1 21 1-21h3l1 38 1 10 1-48h3l1 12 1 29 1-34 1-7h10l1 10 1 10 1 3 1-19 1 3 1 4 1 2 1-4 1-9 1 42 1-26 1-16 1 9 1-9h1l1 14 1-14h3l1 13 1-13h3l1 8 1-8h7l1 1h1l1-1"/><path vector-effect="non-scaling-stroke" d="M0 0h1l1 11 1 34 1-37 1-8h1l1 14 1-14h2l1 3 1-3h3l1 2 1-2 1 6 1 7 1 33 1-46 1 2 1 2 1-4h5l1 5 1-5h1l1 18 1-18h16l1 77 1-77h7l1 8 1-8 1 20 1-20h5l1 10 1 6 1 5 1-21h2l1 13 1-13h6l1 21 1-21h2l1 16 1 59 1-63 1 36 1-48h4l1 6 1 25 1-31 1 6 1-6h7l1 23 1 2 1 19 1-41 1 5 1-8h4l1 6 1-6h2l1 11 1-11 1 4 1-4h1l1 15 1-15h2l1 19 1-9 1-10h1l1 3 1-3h3l1 16 1 3 1-9 1-9 1-1 1 43 1 51 1-92 1 26 1-2 1 1 1-27 1 1 1-1 1 27 1-27 1 6 1 42 1-36 1-12h2l1 6 1-6 1 23 1-23 1 10 1-10 1 30 1-19 1-9 1-2h1l1 4 1 42 1 18 1 96 1-156 1 9 1 137 1-150 1 5 1-5 1 37 1-37 1 39 1-38 1 42 1-43h2l1 2 1-2h9l1 24 1-24 1 1 1 3 1 37 1-15 1 27 1-53h1l1 4 1-4h2l1 1 1-1h3l1 11 1-11h1l1 45 1-32 1-13 1 6 1-6h6l1 21 1-21h3l1 27 1-17 1-4 1-6h1l1 21 1-20 1 2h1l1 6 1 7 1 20 1-31 1-5h3l1 38 1-27 1-11h4l1 6 1-6h1l1 5 1 30 1-14 1-21h4l1 95 1-95h2l1 4 1 2 1 5 1-11h1l1 5 1-5h4l1 14 1-14h6l1 1 1-1h2l1 10 1-10h5l1 10 1 12 1-22h1l1 1 1-1h3l1 3 1-3h1l1 22 1-22h7l1 28 1 33 1-61 1 3 1-3h3l1 15 1-15 1 13 1-9 1-4h6l1 8 1-8h4l1 34 1-7 1-27h3l1 10 1-10h3"/><path vector-effect="non-scaling-stroke" d="M0 0h1l1 27 1-27h4l1 8 1 3 1-11 1 38 1-38h2l1 10 1-8 1-2h3l1 24 1-9 1 28 1-35 1-8h7l1 4 1-4h5l1 36 1 5 1-9 1-32h3l1 25 1-21 1-1 1 24 1-12 1-15h2l1 25 1-23 1-1 1-1 1 12 1-12 1 28 1 1 1-29 1 4 1-4 1 9 1-9h3l1 42 1-28 1-8 1-6h5l1 18 1-18h1l1 9 1-1 1-8h1l1 8 1-8 1 27 1-21 1 4 1-10h10l1 11 1-11h1l1 4 1-4 1 127 1-125 1-2h2l1 19 1-19 1 14 1-14h1l1 9 1-6 1-3h4l1 6 1 20 1-26h3l1 59 1-43 1-16h5l1 3 1-3h4l1 9 1-1 1-8h11l1 11 1-11h2l1 15 1 47 1-62h1l1 133 1-95 1 118 1-144 1 1 1-11 1-2h8l1 4 1 4 1-8h2l1 1 1-1h7l1 25 1 1 1-26 1 3 1 3 1 46 1-52 1 9 1-3 1 18 1 9 1-15 1-6 1-12h2l1 41 1-34 1 120 1-127 1 2 1 38 1-10 1-30h6l1 27 1-27 1 1 1 4 1 1 1 12 1-14 1 10 1-1h1l1 11 1 9 1-18 1-9 1 2 1-3 1-4 1 3 1 16 1-7 1-13h1l1 7 1 20 1-27 1 7 1-7h2l1 7 1-7h9l1 16 1-4 1-12h11l1 5 1 11 1-16h5l1 22 1-12 1-10h1l1 10 1-10h8l1 4 1-1 1 8 1-1 1-10 1 7 1 14 1-21h2l1 1h1l1-1h1l1 52 1 61 1-112 1 19 1-20h3l1 4 1-4h1l1 13 1-13h2l1 10 1-10h2l1 12 1-12h1l1 19 1-16 1-3h1l1 18 1-18h2l1 9 1 17 1-26h3l1 10 1 7 1-17h1l1 13 1-3 1-10h5l1 1"/><path vector-effect="non-scaling-stroke" d="M0 4l1-4 1 71 1 6 1-77h6l1 42 1-35 1-7h7l1 3 1 8 1-11h14l1 5 1-5h1l1 18 1 15 1-33h5l1 3 1 40 1-43h2l1 16 1-16h5l1 38 1 14 1-16 1-36h7l1 3 1-3h1l1 7 1-6 1-1h3l1 27 1-25 1-2h1l1 7 1 1 1-8 1 35 1 21 1-29 1-27h1l1 3 1-3h2l1 17 1 41 1-58 1 2 1 6 1 8 1-16h2l1 13 1-13h8l1 5 1-5h4l1 51 1-43 1-8h2l1 13 1-13 1 47 1-47h4l1 6 1-1h1l1-1 1-4 1 13 1-13h2l1 4 1-2 1-2h1l1 17 1-13 1 8 1-5 1-7h1l1 17 1-17h6l1 4 1 5 1-9h2l1 2 1 54 1-56h11l1 24 1-24h6l1 15 1-15 1 49 1-44 1 135 1-140h1l1 36 1-5 1-13 1-18h19l1 10 1-7 1 12 1-9 1-6h4l1 2 1-2 1 6 1-6h3l1 12 1-12 1 5 1-5 1 9 1 89 1-86 1-11h1l1 6 1-7h12l1 3 1 14 1-17h2l1 45 1-7 1 20 1 194 1-179 1-57 1-16h11l1 7 1-7h4l1 25 1 28 1-53h5l1 2 1-2h4l1 6 1 8 1-3 1-5 1-6h1l1 42 1-42h7l1 6 1 13 1-10 1-9 1 75 1-75h3l1 3 1-3 1 6 1-6h1l1 17 1-17h1l1 11 1 5 1-5 1 14 1-8 1-17h2l1 1 1 24 1-25h1l1 3 1 5 1-8h9l1 31 1-27 1-4h1l1 3 1-3 1 3h1"/><path vector-effect="non-scaling-stroke" d="M0 0h2l1 22 1-22 1 3 1 15 1-4 1-14h9l1 11 1 21 1 23 1-55h13l1 6h1l1-6h3l1 67 1-46 1-21h3l1 11 1-11h1l1 50 1-21 1-29h1l1 4 1 19 1-23h1l1 30 1-30h1l1 29 1-19 1-10h2l1 9 1 2 1-6 1-5 1 12 1-12h1l1 5 1 9 1 16 1-22 1-8 1 16 1-16h1l1 51 1-51h14l1 61 1-61h1l1 10 1 5 1 5 1-20h9l1 2 1 17 1 1 1-20h1l1 5 1 7 1 49 1-40 1 1 1-22h1l1 17 1-17h4l1 32 1-32h5l1 42 1-42 1 12 1-12h4l1 9 1-9h1l1 87 1-45 1 31 1-73h6l1 7 1-2 1-5h1l1 36 1-14 1-22h1l1 27 1-27h1l1 13 1-13h2l1 15 1-10 1 22 1-25 1-2h2l1 3 1-3h2l1 3 1 3 1-6h2l1 1 1-1 1 4 1-4h4l1 1 1-1h1l1 3 1-3h2l1 8 1-8h1l1 6 1-6h2l1 5 1-5h1l1 10 1-10h3l1 41 1-19 1-22h10l1 7 1-1 1-6h3l1 13 1-11 1 69 1-58 1-11 1-2h2l1 9 1-9h1l1 10 1-10h2l1 3 1-3 1 7 1-4 1-3 1 11 1-11 1 68 1-68 1 4 1-4 1 36 1-13 1-23h7l1 35 1-27 1-2 1-2 1-4 1 7 1-7 1 6 1-6 1 3 1-3h3l1 3 1-3 1 5 1 12 1-9 1-8h11l1 1 1 21 1 3 1-25h2l1 2 1-2h1l1 55 1 9 1-64h2l1 62 1-62h6l1 15 1-15h18l1 62 1-55 1-4 1-3h1l1 43 1-38 1-1 1-4 1 12 1-6 1-6 1 8 1-8h3"/><path vector-effect="non-scaling-stroke" d="M0 0h13l1 8 1-8h1l1 5 1-5 1 16 1-16h6l1 3 1-3h3l1 2 1-2 1 2 1-2h12l1 5 1-1 1 24 1 116 1-107 1-35 1-2h5l1 10 1 22 1-32h5l1 6 1-6 1 37 1-37h1l1 102 1-102h2l1 24 1-24h6l1 15 1-15h3l1 20 1-16 1-4h2l1 13 1 47 1-55 1-5h5l1 42 1-42h3l1 12 1-5 1-7 1 3 1-3 1 17 1-2 1-15 1 35 1-19 1-16 1 29 1-16 1-13 1 11 1-11h11l1 1 1 4 1-5h1l1 5 1-5 1 37 1-37h2l1 11 1-11h2l1 6 1-6 1 5 1-5 1 19 1-19 1 6 1-6h1l1 38 1-38h3l1 2 1-2 1 42 1-22 1 13 1-33 1 14 1-14h4l1 8 1-1 1-7 1 13 1-13h1l1 11 1-3 1 1 1 35 1-44h1l1 7 1-7 1 5 1-5h3l1 1 1-1h1l1 1 1-1 1 3 1-1 1 16 1 38 1-47 1-9h7l1 10 1-1 1-9h1l1 29 1-9 1 3 1 9 1-32h2l1 20 1 70 1-85 1-5h1l1 18 1-18h2l1 30 1-20 1-10 1 19 1-19h1l1 22 1-22 1 9 1-9h1l1 35 1-35h1l1 16 1 63 1-74 1-5h4l1 7 1 41 1-25 1-22 1 10 1-11 1 3 1-3h4l1 4 1-4 1 3 1-3h9l1 2 1-2h3l1 9 1 1 1-10 1 42 1-21 1 2 1-21 1-2h8l1 33 1-10 1-23h2l1 6 1-6 1 39 1-39h5l1 15 1 54 1-54 1-8 1-7h2l1 18 1-14 1-2 1 2 1-4h13l1 10 1-6 1 27 1 84 1-115h1l1 14 1-14h1l1 3 1-3h14"/><path vector-effect="non-scaling-stroke" d="M0 0h1l1 44 1 50 1-94h4l1 3 1 26 1-22 1 2 1 9 1-13 1 6 1-6 1-5 1 14 1 12 1-10 1-3 1-3 1 52 1-62h10l1 8 1 7 1-15h11l1 6 1 11 1 34 1-51h1l1 13 1-13h14l1 8 1-3 1-5h3l1 5 1-5 1 23 1-15 1-8 1 12 1-12h2l1 12 1-6 1-6 1 12 1 1 1-13h17l1 30 1-16 1-14h6l1 4 1-4h2l1 21 1-21h2l1 10 1 1 1 16 1-27h2l1 37 1-26 1-11h7l1 8 1-8h5l1 24 1-24 1 17 1-16 1-1h3l1 16 1-9 1-5 1 2 1-4h1l1 1 1 49 1-47 1-1 1 15 1-17 1 15 1-15h2l1 2 1-2 1 13 1-13h2l1 27 1-27 1 10 1 20 1-6 1-21 1-3h1l1 12 1-12 1 47 1-47 1 3 1-3h3l1 40 1-36 1 4h1l1-8h2l1 21 1-21h1l1 9 1-8 1-1h5l1 19 1-18 1 56 1-57h5l1 1 1-1 1 4 1-4 1 9 1-8 1-1 1 5 1-5 1 4 1-4h9l1 62 1-62 1 25 1-8 1-17 1 23 1-23 1 2 1-2h5l1 22 1-22h8l1 19 1 16 1-35h1l1 1 1-1 1 6 1-6h11l1 13 1-13 1 34 1-34h2l1 6 1 30 1-36h8l1 1 1-1h4l1 3 1 10 1-13h5l1 5 1-5h1l1 16 1 6 1-22h9l1 5 1-5h4l1 22 1-22h1l1 3 1-3h4l1 30 1-8 1-19 1-3h4l1 3 1 4 1-2 1-5h4l1 8 1-8h1"/><path vector-effect="non-scaling-stroke" d="M0 0h2l1 89 1-81 1 2 1 18 1-28 1 29 1-24 1-5 1 37 1-37h3l1 2 1 2 1-4h1l1 70 1-70 1 10 1 14 1-24h5l1 4 1-4 1 6 1 12 1-11 1-7 1 3 1 7 1-9 1-1h1l1 15 1-2 1 11 1 8 1-4 1-28h4l1 2 1 64 1-66h2l1 22 1-22h1l1 6 1-6h2l1 16 1-16h5l1 47 1-16 1-31h3l1 7 1 15 1-22h2l1 23 1-23h1l1 33 1-15 1 10 1-28 1 21 1-21h11l1 7 1-7h6l1 18 1-14 1-4h1l1 43 1-6 1-37h2l1 8 1-8h2l1 10 1-10h1l1 14 1-5 1 5 1 8 1-22 1 71 1-51 1-17 1-2 1 8 1-9h2l1 7 1-7h2l1 13 1-13h3l1 8 1-8h6l1 2 1-2 1 1 1-1h1l1 3 1-1 1-2 1 16 1-16h6l1 5 1-5h2l1 19 1-19h6l1 5 1-1 1-4h2l1 130 1-101 1-24 1-5h9l1 2 1-2h2l1 1 1-1h4l1 4 1-4h2l1 12 1-12h3l1 5 1-5h3l1 7 1 37 1-2 1-42 1 5h1l1 9 1 3 1 5 1-22 1 4 1-4h2l1 6 1-4 1-2 1 2 1 7 1 3 1-12h9l1 12 1-12h4l1 4 1 51 1-49 1-5 1 13 1 44 1-25 1-33 1 20 1-20h3l1 16 1-16h5l1 22 1-21 1-1h3l1 16 1 49 1-65h2l1 30 1-30h3l1 4 1-4 1 2 1-2 1 44 1-19 1-25 1 9 1-9 1 3 1-3 1 31 1-31h2l1 7 1-7h2l1 12 1-12h12l1 7 1-2 1-5h23l1 21 1-21h6l1 2"/><path vector-effect="non-scaling-stroke" d="M0 0h5l1 18 1 1 1-19h7l1 4 1-4h1l1 28 1 10 1-38 1 20 1-20 1 9h1l1-9h4l1 1 1-1h7l1 4 1 19 1 4 1-27h3l1 8 1-8h1l1 15 1 12 1 5 1-24 1 35 1-27 1-16h2l1 13 1-13h9l1 5 1-5h6l1 44 1-44h3l1 19 1 2 1-16 1-5h2l1 31 1 13 1-44h2l1 26 1-26h5l1 19 1-8 1-11 1 35 1-35 1 3 1-3 1 51 1 41 1-83 1-9h1l1 2 1 5 1-7 1 19 1-7 1-8 1 14 1-6 1 7 1-15 1-4h7l1 25 1-25h1l1 3 1-3h1l1 11 1-11h2l1 7 1-7h6l1 2 1-2h3l1 28 1 23 1-51 1 18 1-18 1 19 1 3 1 7 1-29 1 39 1-36 1-3h1l1 1 1 10 1 100 1-110 1-1h3l1 12 1-10 1-2 1 7 1 9 1-16 1 112 1-112h1l1 10 1 25 1-34 1 28 1-29h2l1 15 1-15h1l1 26 1-26 1 1 1 37 1-38h1l1 2 1-2 1 62 1 15 1-77h1l1 11 1-11 1 8 1 5 1-13h10l1 4 1-4 1 67 1-65 1-2h5l1 1 1 1 1 44 1-25 1-21 1 6 1-6h6l1 9 1-9h1l1 2 1-2h3l1 4 1-4 1 4 1 17 1 3 1 35 1-59h2l1 9 1-9h4l1 8 1-8 1 5 1-5h10l1 120 1-120 1 3 1 4 1-7h1l1 3 1 12 1-15h3l1 2 1-2h3l1 1 1-1h16l1 29 1 41 1-70h1l1 43 1-43 1 1 1-1h5l1 7 1-7h15l1 40 1-40 1 24 1-19 1-4 1-1h1l1 4 1-4h1l1 1 1-1h7"/><path vector-effect="non-scaling-stroke" d="M0 0h1l1 7 1 14 1-21h1l1 10 1-10h1l1 4 1 20 1-10 1-14h7l1 18 1-18h4l1 3 1-3h5l1 5 1-5h4l1 15 1-15 1 12 1 8 1-20h1l1 48 1-48h3l1 16 1-16h4l1 15 1-15 1 11 1 1 1 9 1-21 1 27 1-10 1-17 1 2 1-2 1 7 1 5 1-12h1l1 47 1-47 1 10 1-10h3l1 5 1-5 1 12 1 18 1-30h1l1 34 1-20 1-14 1 5 1 49 1-44 1-10h3l1 8 1-8 1 37 1-37 1 20 1-20h3l1 71 1-33 1-38h6l1 64 1 47 1-111 1 15 1-15h9l1 33 1-33 1 69 1-36 1-33 1 36 1-36h2l1 17 1-8 1 44 1-53h2l1 27 1-22 1-5h10l1 40 1-40 1 2 1-2h6l1 53 1-36 1-10 1-7 1 125 1-39 1-86h4l1 11 1-11h1l1 7 1-7h1l1 60 1-60h1l1 6 1 79 1-66 1 7 1-26h1l1 1 1-1h2l1 6 1-6h1l1 22 1-15 1-7h5l1 2 1 31 1-28 1-5h3l1 8 1-3 1 32 1-29 1-8h1l1 3 1-2 1 255 1-256h1l1 32 1-32 1 32 1-16 1 4 1-20 1 43 1-43h2l1 13 1-13h3l1 2 1-2h9l1 7 1-3 1-4h2l1 8 1 5 1-13h8l1 2 1-2 1 45 1-33 1-12h2l1 1 1 88 1-89 1 11 1-11h6l1 4 1-4h5l1 3 1-3 1 18 1-18h1l1 1 1-1 1 2 1-2h2l1 16 1-16h7l1 5 1-2 1-3h1l1 2 1 34 1 24 1 76 1-119 1-17 1 34 1-34h4l1 25 1-25h2l1 10 1 66 1-76 1 1 1-1 1 28 1-28 1 10 1 2 1-12h4l1 6 1 25 1-7 1-24h5l1 16 1-16h4l1 19 1-13 1-5 1-1h2"/><path vector-effect="non-scaling-stroke" d="M0 0h1l1 34 1 119 1-145h1l1 6 1-3 1 4 1 10 1-25 1 42 1-7 1-34 1-1 1 4 1-4h3l1 61 1-61h1l1 17 1-17h6l1 1 1-1h1l1 6 1-6h7l1 6 1 39 1-16 1 19 1-40 1-8h10l1 3 1 32 1 16 1-51 1 1 1 10 1-11h2l1 22 1-22 1 4 1 30 1-34 1 12 1-5 1-7h1l1 26 1-24 1 15 1-17h13l1 3 1-3h2l1 8 1-8h8l1 48 1-48h3l1 42 1 116 1-158h2l1 12 1-6 1-6 1 40 1-40h1l1 4 1-4h1l1 5 1-5h4l1 6 1-6h1l1 2 1-2h1l1 3 1-3h4l1 7 1-4 1-3h8l1 5 1-5 1 5 1-5h6l1 11 1-11 1 43 1 27 1-70h8l1 3 1-3h1l1 3 1 18 1-8 1-13 1 24 1-2 1-22h3l1 3 1-3 1 40 1-38 1-2h1l1 1 1-1h5l1 1 1 15 1-16h6l1 13 1 16 1 56 1-73 1-12h1l1 38 1-38h1l1 44 1-25 1-4 1 2 1-17 1 2 1 6 1-8h1l1 5 1-5h1l1 13 1-4 1-9h3l1 8 1-6 1-2h4l1 8 1-8h3l1 3 1-2 1-1 1 20 1-17 1 19 1-22h1l1 2 1-2 1 14 1-8 1-6 1 12 1-1 1-11h6l1 6 1 2 1-7 1-1 1 3 1-3h3l1 3 1-3h3l1 10 1-10h1l1 4 1 6 1-10h12l1 5 1-5h7l1 2 1 1 1 6 1-1 1 22 1-30h9l1 23 1-23 1 38 1-38h1l1 64 1-49h1l1-15h2l1 22 1-22h8l1 11 1 44 1-55h2l1 6 1-6 1 2 1-2 1 44 1-44h2"/><path vector-effect="non-scaling-stroke" d="M0 0h5l1 51 1-51 1 7 1-7h2l1 29 1-22 1-2 1-5 1 2 1-2 1 12 1-12 1 14 1-14h1l1 13 1-13h2l1 7 1-7 1 6 1-6h2l1 12 1-12h3l1 2 1-2h4l1 12 1-12 1 39 1-17 1-19 1-1 1-2 1 47 1-47h2l1 12 1-12h3l1 15 1 14 1-17 1 30 1-38 1-4h5l1 7 1-7 1 19 1 2 1-21 1 8 1-8h2l1 25 1-25h5l1 13 1-13h3l1 12 1 5 1-9 1-8h6l1 1 1 7 1 27 1-35h2l1 35 1-35h1l1 7 1-1 1-6h1l1 40 1-40h2l1 6 1-6 1 9 1-9 1 44 1-32 1-12h3l1 3 1-3 1 18 1 2 1-16 1-4h2l1 27 1-20 1-7h8l1 9 1-9h7l1 26 1 115 1-141 1 83 1-83h6l1 2 1-2 1 3 1-3 1 1 1 35 1 121 1-87 1-58 1-12 1 1 1 1 1 16 1 19 1-26 1-11h5l1 47 1-37 1-10h11l1 28 1-13 1-11 1-4 1 3 1-3h2l1 3 1-3h2l1 2 1 2 1 1 1-5h3l1 2 1 38 1-36 1 5 1-9 1 12 1-12h4l1 25 1-25h5l1 34 1 3 1-37h1l1 113 1-113h2l1 21 1-5 1-10 1 5 1-11h1l1 10 1-10 1 3 1 1 1-4 1 6 1 4 1-1 1-4 1-1 1-4h2l1 14 1-14h9l1 3 1 2 1-5 1 11 1-5 1-3 1-3 1 5 1-5h9l1 4 1-2 1-2h2l1 23 1 16 1-39h4l1 11 1-11h6l1 7 1 51 1-58 1 10 1-10h8l1 3 1 43 1-46h4l1 14 1-14h4l1 2 1 9 1-11h1l1 14 1 9 1-13 1-10h1l1 11 1-11 1 12 1-12h2l1 11 1-11h5l1 5"/><path vector-effect="non-scaling-stroke" d="M0 0h1l1 13 1-13h5l1 4 1-4h1l1 4 1-4h3l1 7 1 13 1-20 1 34 1-34h1l1 36 1-36 1 7 1 10 1-17h8l1 4 1 8 1-7 1-5h1l1 31 1-22 1-9h2l1 33 1-33h4l1 30 1-27 1 25 1 23 1-32 1-19h2l1 20 1-20h1l1 3 1-3h1l1 3 1-3h3l1 18 1-18h2l1 6 1-6h3l1 18 1 14 1 9 1-41h5l1 16 1-13 1-3h5l1 24 1-9 1-15h4l1 19 1-5 1-9 1-5 1 9 1-9h9l1 2 1 4 1-6h2l1 5 1-5 1 22 1 9 1-21 1-5 1 20 1-25h10l1 19 1-19h5l1 47 1-37 1 7 1 2 1-19 1 34 1-32 1 5 1-7h5l1 90 1-86 1 1 1-5h1l1 11 1-7 1-4h3l1 6 1-6h2l1 6 1 34 1-33 1 1 1-8h2l1 29 1-29h1l1 10 1-10h1l1 29 1-29 1 3 1-3 1 36 1-5 1-21 1-10h5l1 26 1-15 1 1 1-12 1 3 1-3h2l1 4 1-4h6l1 18 1-3 1-15h3l1 4 1-4h7l1 7 1 17 1-23 1-1h2l1 28 1-26 1-2 1 43 1-3 1-40 1 6 1-6h4l1 4 1-4 1 2 1 5 1-3 1-4h2l1 3 1-3h1l1 6 1-6 1 21 1-18 1-3h4l1 3 1 8 1-11h5l1 9 1-9 1 2 1-2 1 8 1-2 1 36 1 1 1 7 1-50 1 15 1-1 1 10 1-24h6l1 49 1-15 1-34h1l1 31 1-26 1-5h8l1 16 1-11 1-5 1 25 1 77 1-98 1-1 1-3h1l1 7 1-7 1 4 1-4h5l1 9 1 5 1-14h1l1 1 1-1h7l1 7 1-7h7l1 6 1-6h7"/><path vector-effect="non-scaling-stroke" d="M0 0h1l1 14 1-14h4l1 14 1-14h2l1 27 1-27h3l1 6 1-6 1 42 1 3 1-45h2l1 7 1-7h11l1 15 1-15h2l1 50 1-50 1 2 1 15 1-17h3l1 11 1 9 1 1 1-21h1l1 9 1 2 1-11h1l1 3h1l1-3h10l1 9 1-3 1 3 1 1 1-10h5l1 6 1-6h1l1 51 1-37 1-14 1 13 1 52 1-43 1-22h1l1 10 1-10h2l1 19 1-19 1 6 1-6h4l1 24 1-24h2l1 7 1-7h2l1 18 1-16 1-2h12l1 112 1-110 1 38 1-40h6l1 18 1-13 1-5h6l1 5 1-5 1 28 1-28h10l1 11 1-11h7l1 18 1 50 1 296 1-364h1l1 2 1 2 1-2 1-2h6l1 7 1 14 1-20 1 44 1-45h1l1 2 1-2h5l1 4h1l1 1 1-5h2l1 23 1-23 1 7 1-7h5l1 69 1 1 1-67 1-3 1 28 1 21 1-45 1-4h6l1 21 1-21h1l1 2 1 7 1-9h1l1 1 1-1h1l1 4 1 1 1-5h2l1 5 1 16 1-11 1-10h9l1 11 1 15 1-22 1 17 1-18 1-3h4l1 3 1-3 1 11 1 88 1-99h6l1 6 1-6h2l1 25 1-25 1 9 1-9h5l1 19 1-19h2l1 87 1-66 1-21h8l1 46 1-46 1 5 1 1 1 6 1 15 1-27h4l1 7 1-7 1 73 1-50 1-23h7l1 10 1-5 1 22 1 13 1-40 1 1 1-1h1l1 4 1 9 1 21 1-24 1 22 1-24 1 5 1-13h4l1 15 1-15h2l1 2 1 15 1-17h8l1 11 1-11 1 4 1-4"/><path vector-effect="non-scaling-stroke" d="M0 0h1l1 53 1-37 1-16h6l1 21 1-9 1-12h9l1 6 1-6h6l1 5 1 1 1 10 1-16 1 3 1-3 1 11 1-2 1-9 1 25 1-4 1-21h1l1 4 1 19 1-23 1 11 1-11h1l1 82 1-82h7l1 2 1-2h1l1 31 1-18 1-13h3l1 3 1 3 1 21 1 63 1-84 1-6h3l1 13 1-13h5l1 15 1-15 1 24 1-24 1 42 1-12h1l1-30h2l1 9 1-9 1 29 1-17 1 3 1-15h3l1 42 1-42h2l1 3 1-3 1 9 1-9h2l1 14 1-14h5l1 10 1-10 1 20 1-20h1l1 14 1-14 1 27 1-27h4l1 5 1-5h5l1 7 1-7h9l1 6 1-5 1-1h3l1 22 1-18 1 30 1-34h2l1 2 1-2h2l1 1 1 15 1 1 1-13 1 20 1 19 1-41 1 9 1-11h1l1 2 1-2 1 35 1-35h3l1 27 1 3 1-29 1 6 1-7 1 17 1-17 1 1 1-1 1 5 1 25 1-26 1-4 1 27 1 24 1-51h2l1 11 1 12 1-5 1 4 1-22 1 1 1 8 1-9h1l1 21 1-17 1-4h2l1 37 1 12 1-49 1 1 1-1 1 20 1-12 1-8 1 124 1-124h3l1 12 1-12 1 22 1-22h1l1 6 1-6h1l1 5 1-5h1l1 10 1 59 1-26 1-43h1l1 108 1-108h1l1 36 1-4 1-32h3l1 3 1-3h5l1 4 1-4h3l1 2 1-2h3l1 44 1-39 1-5 1 1 1 6 1-7 1 14 1-14h2l1 20 1-20h5l1 5 1 26 1-31h3l1 2 1-2h3l1 2 1-2h1l1 15 1-15h5l1 15 1-15h1l1 1 1-1h2l1 14 1-14h1l1 14 1-14h1l1 1 1-1h2l1 17 1 7 1-3 1-8 1 31 1-40 1-4h3l1 31 1-31h1l1 8 1-8h4l1 22 1-22 1 22 1-22h1l1 3 1 24 1-27 1 5 1-5h1l1 1 1-1h7"/><path vector-effect="non-scaling-stroke" d="M0 0h5l1 18 1-1 1-17h3l1 7 1-4 1 1 1-4h6l1 60 1-23 1-37h12l1 14 1-4 1-10h1l1 12 1 34 1-38 1-1 1-7 1 9 1-9 1 3 1-3 1 7 1 58 1-65 1 4 1 10 1 117 1-96 1-35h1l1 8 1-8h6l1 1 1 4 1-5h2l1 2 1-2 1 3 1 12 1-15h1l1 16 1-2 1 10 1-24h1l1 4 1 34 1-38h7l1 17 1-10 1-7 1 34 1 60 1-72 1-22h3l1 3 1 17 1-20 1 12 1-12 1 18 1-13 1-5h2l1 20 1 24 1-44h3l1 6 1-6 1 25 1-25 1 8 1-8 1 4 1 54 1-56 1-2 1 7h1l1-7h3l1 22 1-21 1 29 1-30h2l1 28 1-28 1 11 1-11 1 3 1-2 1 9 1-10 1 1 1 34 1-27 1-8h1l1 19 1-17 1 2 1 23 1-14 1-13h1l1 3 1-3h8l1 2 1-2 1 5 1-5h3l1 9 1-9h5l1 21 1-18 1-3 1 8 1 21 1-29h1l1 5 1-5h1l1 1 1-1 1 3 1 78 1-78h1l1-3 1 6 1-1 1-5 1 2 1 16 1-18h3l1 18 1-4 1-7 1 2 1-9h1l1 40 1-40h5l1 1 1-1 1 24 1-23 1-1h3l1 15 1-15h2l1 1 1-1 1 4 1-4h1l1 11 1-10 1 1 1-1 1-1h2l1 10 1-4 1-6h8l1 2 1 4 1-6h1l1 4 1-4 1 10 1 9 1 24 1-43h4l1 15 1-15 1 8 1-7 1 11 1-10 1-2h7l1 4 1 28 1-32 1 2 1-2 1 30 1-3 1-27h4l1 1h1l1-1 1 6 1-6 1 1 1-1h1l1 16 1-16 1 2 1-2h3l1 3 1 8 1-10 1 59 1-56 1-4h11l1 101 1-101h1l1 21 1 43 1-51 1-13h4l1 8 1 1 1-9h5l1 1 1-1h1l1 5 1-5h10"/><path vector-effect="non-scaling-stroke" d="M0 0h1l1 13 1 28 1-3 1-24 1 3 1-9 1-3 1-5 1 4 1 34 1-38h7l1 58 1-58h3l1 12 1-12h11l1 5 1-5 1 22 1 32 1-54 1 6 1 6 1 26 1-20 1-18h5l1 4 1 15 1-19 1 6 1-2 1-4 1 5 1-5h4l1 6 1-6h1l1 13 1-11 1 32 1 41 1-70 1-5h5l1 8 1-8 1 33 1-28 1-5 1 20 1-20h2l1 17 1-17h5l1 10 1 37 1-40 1-7 1 4 1 4 1-8 1 19 1-19h4l1 7 1-7 1 5 1-5h1l1 13 1 15 1 33 1-61h1l1 18 1-12 1 5 1-9 1 1 1 46 1-43 1 8 1 31 1-45h1l1 23 1 3 1-19 1 30 1-37h6l1 9 1 15 1-24h1l1 3 1-3h8l1 52 1-51 1-1h1l1 3 1 12 1 50 1-65 1 9 1-9h3l1 9 1-9 1 31 1-31h2l1 5 1-5 1 10 1-10h2l1 9 1-9 1 13 1-13 1 3 1-3 1 3 1-3h1l1 3 1-3h3l1 1 1-1h3l1 48 1-39 1-9 1 19 1-12 1-7 1 4 1 12 1-16h1l1 46 1-32 1-14h2l1 25h1l1-25h1l1 85 1-85h2l1 15 1-11 1 16 1-16 1-2 1-2h5l1 6 1 77 1-59 1 1 1-15 1-6 1-4 1 2 1 31 1-13 1-13 1-6 1 47 1-37 1-11h2l1 28 1-28h1l1 2 1-2 1 4 1 5 1-9h12l1 3 1-3h6l1 3h1l1-3h4l1 25 1-25h1l1 23 1 4 1-27h1l1 44 1-41 1-3 1 1 1-1h12l1 31 1-23 1 12 1-20h5l1 46 1-46h8l1 4 1 14 1-18 1 21 1-21h5l1 2 1-2h2l1 4 1 15 1-19h9l1 6 1-4 1-2h9"/><path vector-effect="non-scaling-stroke" d="M0 0h2l1 20 1-20h1l1 27 1-6 1-21h1l1 17 1 30 1-47h10l1 12 1-12h1l1 2 1-2h7l1 2 1 3 1 8 1-5 1-8h3l1 3 1 16 1 20 1-22 1 7 1-19 1-1 1 27 1 14 1-34 1-11 1 20 1-7 1 52 1-60 1-5h2l1 16 1-16 1 18 1-11 1-7h1l1 5 1 4 1-9 1 5 1 40 1-45h4l1 16 1-16h5l1 5 1 30 1-35 1 18 1-5 1 17 1-30h12l1 8 1 68 1-69 1-5 1-2h5l1 8 1-8 1 35 1 45 1-59 1-13 1 13 1-21h4l1 12 1-12h3l1 155 1-140 1-15h12l1 3h1l1-3h1l1 10 1 7 1-5 1-7 1-5 1 29 1-29 1 43 1-43h3l1 1 1 11 1-12h1l1 3 1-1 1 10 1 28 1-19 1-21h3l1 7 1 59 1-55 1-11h5l1 1 1 1 1 52 1-54h1l1 44 1-44h2l1 2 1-2h2l1 5 1-5h3l1 3 1-3 1 13 1-13h6l1 8 1-8h1l1 168 1-139 1-17 1 41 1-42 1-11 1 3 1 10 1 14 1-27h2l1 17 1-11 1-6h1l1 10 1-10h2l1 8 1 41 1-43 1-6h3l1 9 1-5 1-4 1 8 1-8h3l1 9 1-7 1 28 1-28 1-2 1 11 1-11h1l1 41 1-36 1-5h1l1 18 1 32 1-28 1-22h22l1 9 1 4 1-13h1l1 53 1-53 1 8 1-8h2l1 2 1-2h3l1 41 1-41h3l1 8 1 1 1 1 1-10h5l1 100 1-90 1-10h1l1 6 1-6h3l1 2 1-2 1 25 1-2 1 7 1-30h5l1 40 1 20 1 73 1-118 1-12 1-3h5l1 25 1-8 1-17h6l1 1 1-1 1 11 1-11h3l1 2 1-1"/><path vector-effect="non-scaling-stroke" d="M0 0h3l1 5 1-5 1 11 1-4 1-7h14l1 124 1-124h1l1 4h2l1-4h4l1 7 1-7h4l1 12 1-12 1 23 1-23 1 8 1-8 1 16 1-11 1-5h6l1 24 1-20 1-4 1 2 1-2h2l1 24 1-24h4l1 14 1-14h10l1 19 1-19h5l1 4 1-4h6l1 5 1 36 1-14 1-27h1l1 2 1-2h6l1 18 1-18 1 29 1-29h3l1 8 1-8h1l1 2 1-2 1 3 1 7 1-10h1l1 11 1 20 1-12 1-19h4l1 4 1-4h3l1 11 1-9 1-2h4l1 2 1-2 1 11 1 6 1-17h7l1 34 1 34 1-46 1-22h2l1 22 1-19 1-1 1 1 1-2 1 1 1-2 1 12 1-12h2l1 1 1-1 1 9 1-9h4l1 4 1-4h3l1 3 1 8 1 109 1-77 1 31 1-11 1-44 1 191 1-96 1-89 1-25 1 16 1 10 1-26h4l1 89 1-87h1l1 8 1-8 1-2 1 1 1 10 1-11h1l1 19 1-4 1-15h1l1 9 1-9h20l1 38 1-38 1 2 1 9 1-11h1l1 1 1-1h6l1 14 1 18 1-30 1-2h1l1 3 1-2 1 15 1 14 1-30 1 17 1-17h1l1 5 1 5 1 53 1-63h3l1 1 1-1h8l1 22 1 6 1-28 1 29 1-6 1-23h4l1 1 1-1h10l1 8 1 25 1-20 1-13 1 7 1 8 1-15h4l1 43 1-43h1l1 41 1-41h1l1 1 1-1 1 22 1-8 1 11 1-25 1 22 1-11 1-11h2l1 16 1-16h1l1 25 1-25h4l1 15 1-15h2l1 10 1-10 1 3 1 1 1 15 1-15 1-4h5l1 5 1-5 1 19 1-19 1 1 1-1"/><path vector-effect="non-scaling-stroke" d="M0 0h2l1 31 1-31h2l1 22 1 23 1-45h5l1 6 1-6h1l1 3 1-3h3l1 9 1-9 1 3 1 5 1-8h1l1 5 1-3 1 5 1-1 1-6h3l1 12 1-2 1-10h2l1 7 1-5 1 19 1 38 1-33 1-15 1-11h10l1 12 1-12 1 38 1-15 1-23h4l1 7 1-7 1 5 1-5 1 6 1-6 1 27 1-27h5l1 42 1-42 1 24 1-24h1l1 22 1-13 1 23 1-32h6l1 20 1 11 1-5 1-26h2l1 9 1 3 1-12 1 18 1-18h1l1 27 1 47 1-64 1-10 1 8 1-8 1 9 1-9 1 9h1l1-9 1 10 1-10h2l1 57 1-57h3l1 1 1 28 1-16 1 1 1-8 1 17 1-20 1-3h1l1 1 1-1h2l1 31 1-15 1-16h2l1 19 1 1 1-20h1l1 66 1-66h6l1 18 1-16 1-2h8l1 44 1-43 1 30 1-31h2l1 26 1-9 1-17h6l1 4 1-4h3l1 3 1 152 1-155 1 74 1-74h5l1 23 1-23 1 3 1-2 1 7 1-4 1-4h2l1 6 1-6h14l1 56 1-56h1l1 12 1-12h1l1 66 1-63 1 3 1 5 1-4 1-4 1 5 1-2 1 11 1-11 1 19 1 17 1-42 1 1 1 33 1-34h9l1 24 1-24h4l1 14 1-14 1 2 1 17 1-10 1-1 1 29 1-37 1 18 1-18h4l1 2 1-2h1l1 3 1-3h3l1 3 1-3h3l1 10 1-10h2l1 30 1-9 1-21h2l1 2 1 18 1-18 1-2 1 101 1-101h4l1 52 1-32 1-20h2l1 22 1-22h2l1 15 1 57 1-20 1 7 1 18 1-77 1 8 1-5 1-3h3l1 5 1-5h3l1 39 1-10 1-24 1-5 1 27 1-4 1-23h1l1 3 1 7 1 17 1-25 1-2h1l1 6 1-6h7l1 12 1-12h6l1 4"/><path vector-effect="non-scaling-stroke" d="M0 0h1l1 135 1-23 1-112h3l1 4 1-4h6l1 2 1-2h4l1 5 1 13 1-18 1 3 1-3h17l1 3 1-3 1 27 1-27h2l1 15 1 3 1-18h1l1 1 1-1h1l1 6 1-6 1 11 1 53 1-50 1-14h12l1 3 1-3 1 1 1-1h1l1 33 1 4 1-37h10l1 8 1 1 1-9h2l1 8 1-8h8l1 6 1 8 1-14h2l1 12 1 114 1-124 1 12 1-2 1-5 1-7h3l1 17 1-17 1 17 1 15 1-18 1-14h1l1 13 1 2 1-15h1l1 10 1-10 1 9 1 9 1 78 1-95 1-1h1l1 2 1 1 1-3h2l1 24 1 80 1-4 1-75 1-25h1l1 16 1-16 1 1 1 13 1 94 1-108h1l1 9 1 11 1-20 1 9 1 1 1-4 1-2 1-4h1l1 1 1 10 1-11h4l1 40 1-40h8l1 1 1-1h5l1 30 1-30 1 19 1-18 1-1h3l1 32 1 38 1-70h10l1 33 1 48 1-18 1-63h2l1 5 1-1 1 2 1-6h1l1 8 1-5 1-3 1 3 1-3h4l1 20 1-15 1 1 1 17 1-21 1-2h1l1 10 1-10h12l1 13 1 158 1-117 1-45 1-4 1-5h3l1 7 1-7 1 20 1 14 1-34h2l1 1 1-1h17l1 5 1 8 1 11 1-24h12l1 1 1 13 1-8 1 70 1-76 1 7 1-7h1l1 11 1-11h2l1 6 1 41 1-41 1-6h2l1 2 1-2h1l1 12 1 31 1-33 1-10 1 20 1-20 1 12 1 9 1-5 1 45 1-56 1-5h1l1 9 1-9 1 6 1 19 1-25h2l1 7 1 5 1-12h1l1 4 1-4 1 2 1 14 1 25 1-24 1-2 1-15 1 1 1-1h4"/><path vector-effect="non-scaling-stroke" d="M0 0h1l1 17 1 48 1-58 1-7h4l1 17 1-17 1 7 1-2 1-5h4l1 57 1-57h2l1 14 1-14h5l1 3 1-3h2l1 8 1-6 1-2 1 30 1-30h2l1 21 1-21 1 3 1 66 1-61 1-8h4l1 19 1-19 1 4 1-4h1l1 20 1-15 1 8 1-13h3l1 27 1-27 1 4 1-4h1l1 13 1-9 1 9 1 44 1-44 1 13 1 27 1-22 1-31 1 11 1-11h1l1 21 1-21h2l1 15 1-5 1-2 1-8h1l1 16 1 35 1-48 1-1 1 24 1-26h10l1 5 1-5h1l1 11 1-8 1-3 1 4 1-4h9l1 26 1-9 1-17 1 18 1-18h10l1 14 1-14h1l1 20 1-10 1-6 1 4 1-2 1-6h4l1 11 1-6 1-5h4l1 92 1-92h4l1 36 1 25 1-29 1 3 1 42 1-70 1-6 1 7 1-8h2l1 20 1-2 1-2 1-16h1l1 9 1-9h4l1 1 1 42 1-41 1-2h2l1 14 1-14h4l1 9 1 6 1-1 1-14 1 19 1-16 1 7 1 23 1 24 1-44 1 4 1-17h8l1 1 1-1 1 1 1 5 1 6 1 14 1-26 1 1 1-1 1 14 1-14h1l1 14 1-12 1-2h1l1 53 1-49 1-4h6l1 1 1-1 1 95 1-95 1 6 1 8 1-14h1l1 23 1-23h5l1 1 1-1 1 14 1-6 1-8 1 8 1-8h1l1 8 1 62 1-44 1-26h12l1 17 1-10 1-7 1 2 1 1 1-2 1-1h3l1 8 1-8h4l1 2 1-2h3l1 24 1 17 1-41h3l1 48 1-48h3l1 8 1-8h1l1 73 1-73 1 17 1 24 1-41h7l1 2 1-2 1 64 1-42 1-22h5l1 17 1-11 1-3 1-3 1 1 1-1h1l1 20 1-20h14l1 48 1-40 1-8h1"/><path vector-effect="non-scaling-stroke" d="M0 0h2l1 41 1-41h1l1 45 1-28 1-17h2l1 4 1-4h5l1 6 1-4 1-2 1 3 1-3h2l1 6 1-6h2l1 12 1-12h6l1 20 1-17 1-3h1l1 20 1-20h1l1 3 1 34 1-3 1-17 1-17h1l1 26 1-26h8l1 19 1-19 1 12 1-12h6l1 8 1 4 1-12h2l1 7 1-7h5l1 13 1-7 1 17 1-23h1l1 11 1 19 1 88 1-53 1-65h2l1 11 1-9 1-2 1 34 1 4 1-24 1-14h7l1 8 1 2 1-10h4l1 13 1 5h1l1 7 1 6 1-10 1-21 1 18 1-18h5l1 19 1 27 1-38 1-8h5l1 20h1l1-20 1 26 1-26 1 3h1l1-3h12l1 13 1-13h4l1 13 1-1 1-12 1 72 1-63 1-1 1 54 1-62h3l1 21 1-2 1-18 1-1 1 111 1-36 1-61 1-2 1-7 1-4 1 1h1l1-2h1l1 1 1-1h2l1 5 1 25 1-30h7l1 1 1 23 1 91 1-1 1-62 1-52h1l1 1 1-1 1 1 1-1h4l1 4 1-4 1 20 1-20h1l1 5 1 7 1-9 1 2 1 8 1-13 1 32 1-32h6l1 3 1-3h1l1 2 1-2h2l1 4 1 14 1-18h9l1 17 1-17h3l1 21 1-21 1 4 1-3 1 22 1-12 1 23 1-9 1-11 1-11 1-3h4l1 18 1-18h2l1 11 1-11h2l1 10 1-10h2l1 17 1 25 1-42h1l1 19 1-16 1-3h6l1 2 1 30 1-32h5l1 3 1-1 1 7 1-8 1 6 1-5 1 16 1 44 1-62 1 20 1-20h10l1 20 1-4 1-12 1 6 1 9 1-13 1 4 1 29 1-39h5l1 5 1-5 1 47 1-47h1l1 2 1 1 1-3 1 3 1-3 1 87 1-84 1 3 1 6 1-12h2l1 16 1-11 1-5h1"/><path vector-effect="non-scaling-stroke" d="M0 0h1l1 27h1l1-27h1l1 9 1-9h11l1 11 1 15 1-17 1-9h3l1 5 1-5h4l1 6 1-6h3l1 7 1-7 1 4 1-4 1 7 1 9 1-16h1l1 23 1-23h4l1 63 1-31 1-32h4l1 5 1 1 1-2 1-4h3l1 9 1-9h14l1 15 1-7 1-8h4l1 16 1-16h4l1 17 1-17 1 4h1l1-4h4l1 1 1 42 1-29 1-14h1l1 44 1-44h2l1 8 1 33 1-19 1-8 1-9 1 19 1-3 1-8 1 7 1-20h10l1 24 1-17 1-7h1l1 5 1-5 1 1 1-1h2l1 6 1-6h1l1 3 1-3h3l1 7 1 15 1-9 1 19 1-8 1-24 1 62 1 30 1-92h9l1 19 1-19 1 3 1 14 1-17 1 15 1-15 1 5 1-5h1l1 4 1 15 1 8 1-14 1 39 1-39 1 54 1-3 1-64 1 3 1 2 1 32 1 29 1-66 1 13 1-10 1-1 1-2 1 5 1-3h1l1-2h9l1 7 1-7h3l1 2 1 60 1-62 1 1 1-1 1 9 1 33 1-11 1-9 1-22h5l1 60 1-54 1-6 1 7 1-7h10l1 6 1 22 1-28h2l1 6 1-6h2l1 2 1 32 1-16 1 12 1-30h6l1 3 1 12 1-15 1 4 1-4 1 5 1 4 1-9h3l1 3 1-3h9l1 3 1 13 1 2 1-18 1 12 1-1 1-6 1-5h5l1 5 1-5h4l1 5 1-5h1l1 27 1-13 1-14h5l1 52 1-35 1-17h9l1 11 1-11h2l1 6 1-6h6l1 2 1-2h2l1 6 1-6h1l1 17 1-17h10l1 17 1-17h2l1 1 1-1"/><path vector-effect="non-scaling-stroke" d="M0 0h1l1 26 1 35 1-53 1 5 1 10 1-23h3l1 17 1-17h12l1 5 1-3 1 1 1-3h9l1 6 1-4 1-2h1l1 62 1-62h4l1 1 1-1 1 7 1-7h5l1 4 1-4h5l1 2 1 5 1 9 1-16 1 11 1-11h5l1 18 1-18h1l1 15 1-1 1 24 1-38h7l1 40 1-5 1-33 1-2 1 3 1 4 1-7h1l1 35 1-23 1-6 1 2 1-8h1l1 9 1 2 1-11h4l1 28 1-28h1l1 8 1-8h4l1 24 1-8 1 34 1 52 1-90 1-12h1l1 4 1-4 1 21 1-3 1-18h5l1 2 1 4 1-4 1-2h2l1 9 1-7 1-2h1l1 2 1 2 1 42 1-46h4l1 3 1-1 1 163 1-68 1-73h1l1-19 1-5h1l1 8 1 21 1-29h1l1 13 1 6 1-19h1l1 5 1 9 1 17 1-13 1-18 1 4 1-3 1 103 1-100 1-4 1 24 1-20 1-4h6l1 1 1-1 1 20 1-3 1-17 1 13 1-4 1-6 1-3h2l1 8 1 54 1-61 1 10 1-11h2l1 31 1-31h8l1 6 1-6h3l1 10 1-3 1-3 1-4h1l1 7 1-1 1-6h7l1 13 1-5 1-8 1 57 1-57h1l1 56 1-46 1-10 1 7 1 12 1-16 1 13 1-16h4l1 123 1-81 1-28 1-5 1-9h5l1 6 1-4 1 17 1-4 1-1 1-14h4l1 11 1-11h8l1 3 1-3h1l1 9 1-9 1 27 1-7 1 11 1-31 1 2 1 10 1 5 1-17h3l1 24 1-24h8l1 7 1-7h1l1 12 1 15 1-17 1-10h1l1 8 1-8 1 2 1-2h2l1 9 1-4 1-5 1 10 1 22 1-23 1-9h1l1 4 1-1 1 5 1 8 1 10 1-20 1-6h9l1 6 1-6h2l1 17 1-17h8l1 5"/><path vector-effect="non-scaling-stroke" d="M0 0h6l1 8 1 13 1-16 1-5h11l1 3 1-3h2l1 7 1-7h4l1 12 1-12 1 6 1-6h3l1 13 1-13h1l1 4 1-3 1 37 1-10 1-28h4l1 41 1-41h2l1 13 1-13h10l1 11 1-11 1 10 1-10h1l1 3 1-3h7l1 49 1-45 1-4h6l1 7 1-7h2l1 27 1-27h2l1 24 1-7 1-6 1-11 1 12 1-12 1 14 1-9 1 1 1-1 1 15 1-20h5l1 13 1 1 1-14h1l1 5 1 18 1-14 1 38 1-47h4l1 37 1 5 1-42h5l1 4 1 49 1-53h3l1 118 1-113 1 6 1-10 1 7 1-1 1-7h3l1 2 1 7 1-9h2l1 1 1-1h8l1 42 1-6 1-36 1 23 1-16 1-4 1 8 1 15 1-13 1-6 1-7 1 5 1 12 1-17h4l1 1 1-1h1l1 9 1-9 1 21 1-21h1l1 25 1-1 1-24 1 2 1-2 1 7 1-7h8l1 11 1-7 1-4h3l1 33 1-2 1 11 1-22 1 4 1-24h1l1 7 1-7h5l1 2 1-2h2l1 12 1-12h1l1 4 1-4h1l1 16 1-16 1 7 1-5 1-2 1 2 1-2h12l1 2 1-2 1 13 1-13h2l1 5 1-5 1 1 1 14 1 41 1-56h2l1 14h1l1 3 1-13 1-4h6l1 14 1-14h1l1 9 1-7 1 23 1-25h2l1 4 1 139 1-139 1-4h7l1 27 1-19 1-3 1-5h1l1 3 1-3h6l1 32 1-32h2l1 1 1 1 1 1 1-3h13l1 6 1 68 1-47 1-19 1-8h2l1 5 1-5h1l1 9 1-9h3l1 7 1-7h6l1 8 1-3 1-5h3"/><path vector-effect="non-scaling-stroke" d="M0 0h2l1 35 1-29 1 1 1-7h1l1 8 1 5 1-13h9l1 31 1-24 1-3 1-4h5l1 4 1-4h3l1 4 1-4 1 4 1 4 1-8h2l1 2 1-2h8l1 40 1-27 1-13h5l1 2 1-2 1 16 1-2 1-8 1-6h5l1 7 1 47 1-54h3l1 48 1-32 1-16h1l1 13 1-13 1 3 1 5 1 10 1-18h4l1 13 1-13h6l1 103 1-91 1-12 1 104 1-99 1 27 1 64 1-92 1-3 1-1h5l1 48 1-41 1 15 1-19 1 12 1-15h7l1 30 1-23 1-7h2l1 45 1-34 1-11h2l1 7 1-7 1 14 1-14h3l1 17 1-14 1-2 1 6 1-7h1l1 105 1-105 1 8 1-4 1-1 1-3h1l1 1 1 18 1 129 1-127 1-10 1 2 1-13h6l1 1 1-1h9l1 1 1 41 1-42 1 50 1-50h9l1 13 1-13 1 10 1-10h1l1 1 1-1h2l1 6 1-5 1 24 1-25 1 1 1-1h4l1 27 1-15 1 31 1-43 1 6 1 23 1-29h2l1 4 1-4h2l1 26 1-18 1 38 1-42 1-4h2l1 15 1 4 1 3 1-22h2l1 18 1-15 1 17 1-15 1-5 1 48 1-36 1 1 1 1 1 3 1-9 1 35 1-43h3l1 8 1-8h4l1 1 1-1h2l1 49 1-49 1 35 1-30 1 41 1-46h2l1 1 1-1 1 37 1-37h6l1 2 1-2h3l1 34 1-25 1-9h1l1 9 1-9h7l1 57 1-57h1l1 9 1 1 1 2 1 76 1-88h1l1 5 1-5h1l1 9 1-5 1 24 1-3 1 4 1-20 1-9 1 34 1-33 1-1h10l1 2 1-2h5l1 13 1-8 1 4 1-9h3l1 4 1-4h2l1 5 1-5h6l1 9 1-9 1 23 1-20 1-3 1 2"/><path vector-effect="non-scaling-stroke" d="M0 2l1 14 1 2 1 2 1-20h2l1 4 1 4h1l1-8 1 46 1-46h4l1 3 1-3h1l1 73 1-73h1l1 26 1-26h7l1 5 1-5 1 11 1-11h17l1 5 1-5h5l1 11 1-11h1l1 20 1-16 1-4h7l1 3 1-3 1 4 1-4h1l1 8 1-8h2l1 4 1-4 1 27 1-19 1 8 1-16h2l1 14 1-13 1-1h3l1 10 1-10 1 12 1-12h2l1 13 1 7 1-20h2l1 1 1 27 1 14 1-17 1-25h2l1 14 1-14h2l1 8 1 18 1 31 1-57h4l1 15 1-15 1 3 1-1 1-2h6l1 25 1-14 1-11h2l1 10 1-10h3l1 19 1-15 1-4h3l1 5 1-2 1 16 1 36 1-54 1-1 1 1 1 29 1-30h2l1 7 1-7h2l1 10 1-10 1 45 1-45h1l1 2 1 4 1-2 1-1 1-3 1 3 1-3 1 3 1-3 1 11 1-11h4l1 13 1-13h2l1 53 1-34 1 8 1-27h2l1 9 1 2 1-11h6l1 3 1-3h2l1 5 1-4 1-1h3l1 9 1-7 1-2 1 11 1-11 1 7h1l1-7 1 9 1-9h14l1 7 1-7h1l1 5 1-5h2l1 2 1-2h12l1 7 1-4 1 21 1 70 1-70 1 24 1-48h1l1 3 1 1 1-4h1l1 6 1-6h3l1 1 1-1 1 26 1-26 1 13 1-13h8l1 14 1-14h1l1 1 1-1h18l1 3 1 9 1-4 1-8h8l1 23 1-17 1-6h1l1 4 1-1 1-3h3l1 27 1-27 1 7 1-7h6l1 12 1-12h11l1 38 1-38 1 5 1-4"/><path vector-effect="non-scaling-stroke" d="M0 0h2l1 35 1-33 1 9 1-11h3l1 42 1-42 1 17 1-17h6l1 20 1-20 1 8 1-8h1l1 4 1-4h4l1 3 1-3h1l1 12 1-12 1 6 1-6h5l1 8 1 17 1-25h6l1 24 1-24h1l1 35 1-35 1 2 1-2h3l1 34 1-11 1-23h1l1 4 1-4h2l1 20 1-20 1 16 1-16 1 22 1-22h2l1 10 1-10h1l1 20 1-17 1-3 1 46 1-21 1-16 1-4 1-5h1l1 6 1-6h11l1 15 1 85 1-100h2l1 19 1-4 1-15h2l1 4 1 1 1 2 1-1 1 15 1 8 1-21 1-8h1l1 97 1-67 1-21h1l1-9h2l1 7 1-7h1l1 3 1-3h7l1 19 1 16 1-10 1-20 1-5h3l1 8 1-8h2l1 12 1 66 1-78 1 1 1 10 1 88 1-89 1-9 1 7 1-8h3l1 9h1l1-4 1-5h16l1 12 1-12h1l1 4 1 9 1-13 1 3 1-3 1 1h1l1-1h4l1 17 1-17h6l1 2 1-2h2l1 3 1-3 1 5 1 2 1-7h4l1 16 1-16h3l1 13 1-5 1 25 1-33 1 6 1-6h1l1 2 1-2h3l1 19 1-17 1-2 1 7 1-7h5l1 10 1 7 1-3 1-14h1l1 40 1-16 1-24 1 31 1-21 1-10h7l1 26 1-22 1 42 1-46h2l1 11 1-7 1-4h9l1 9 1-5 1 6 1-10h2l1 2 1 14 1-16h12l1 9 1 23 1-32h2l1 2 1-2h2l1 24 1-24 1 61 1-61 1 43 1 87 1-130h3l1 14 1-14h2l1 4 1-4 1 16 1-13 1-3h1l1 3 1-3h6l1 4 1 8 1-12h5l1 6 1-6h8l1 11 1-11h2"/><path vector-effect="non-scaling-stroke" d="M0 0h2l1 31 1-31 1 5 1-5h1l1 18 1-18 1 54 1-54 1 27 1-27 1 5 1-5h3l1 40 1 11 1-51h15l1 7 1-3 1 6 1-10h2l1 10 1 17 1 2 1-13 1-16 1 5 1-2 1 15 1-18 1 70 1-54 1 23 1 8 1-39 1-8h2l1 29 1 10 1 40 1-52 1-27h1l1 23 1-23h2l1 17 1-17h18l1 9 1-9 1 23 1-14 1-9 1 7 1-6 1-1 1 31 1-29 1 10 1-6 1 6 1-12h2l1 5 1-5 1 42 1-42 1 18 1-18 1 16 1 2 1 16 1-34h5l1 15h1l1-6 1-9h5l1 3 1-3h4l1 3 1 3 1-5 1-1h2l1 15 1-15h3l1 4 1 6 1-10h1l1 4 1 2 1-6 1 93 1-93 1 49 1-34 1-15h3l1 14 1-3 1-11h1l1 17 1-4 1-1 1-8 1-4h3l1 1 1-1h1l1 7 1-7h1l1 2 1 23 1-14 1-11h3l1 4 1 22 1-26h3l1 2 1-2h1l1 2 1-2 1 103 1-89 1-14 1 49 1-49h2l1 16 1-11 1-5h5l1 1 1-1h8l1 6 1-6h1l1 4 1 6 1-10 1 19 1-12 1-7 1 2 1 12 1-14 1 41 1-41 1 15 1-15 1 45 1 8 1-31 1-5 1-9 1 81 1-83 1-6h2l1 4 1-4h2l1 21 1-17 1 42 1-46h4l1 14 1-14h6l1 11 1 12 1-23h2l1 10h1l1-10h1l1 20 1-19 1 3 1 44 1-48 1 3 1-1 1-2 1 5 1-5h1l1 24 1-19 1 8 1-13h4l1 6 1-6h2l1 31 1-31h13l1 43 1 41 1-84h10l1 7 1-7 1 11 1-11h3l1 20 1 3 1-7 1-7 1-9h3l1 7 1-7h7l1 20 1-9 1-4 1-5 1-2h3l1 7 1-7h2"/><path vector-effect="non-scaling-stroke" d="M0 0h1l1 17 1-17h4l1 16 1-16h7l1 18 1-12 1-3 1-3h5l1 4 1-4h5l1 3 1 1 1-4h1l1 13 1-9 1 17 1 9 1-30h1l1 13 1-8 1-5h1l1 31 1-28 1-3h9l1 7 1 10 1-17h1l1 18 1-16 1-2h6l1 5 1-5h1l1 10 1-10h2l1 9 1 12 1 37 1-56 1 19 1-21h1l1 6 1-6h2l1 32 1-25 1 6 1-13h4l1 10 1-10 1 4 1 15 1-19h6l1 17 1-17h5l1 1 1-1h3l1 15 1-3 1-12h3l1 8 1 2 1-10h10l1 14 1-14h6l1 28 1-28 1 21 1-21h1l1 2 1 2 1-1 1 39 1-40 1-2h3l1 6 1 4 1-1 1-6 1 6 1 24 1 40 1-64 1-7 1 2 1-4h8l1 1 1-1h3l1 3 1-3 1 8 1-8h11l1 7h1l1 40 1-45 1 2 1-4 1 2 1-2h3l1 3 1 89 1-82 1-10 1 3 1 6 1-9 1 1 1-1h2l1 2 1 70 1-72h2l1 8 1-8h3l1 6 1-6h2l1 7 1 7 1-13 1 107 1-108 1 13 1-11 1 3 1-5h4l1 18 1-14 1-4h1l1 22 1 109 1-80 1 28 1-79h4l1 19 1-19h3l1 65 1-38 1-22 1-4 1-1h8l1 25 1-22 1-3 1 9 1-9 1 3 1-3h5l1 8 1-8 1 8 1-6 1-2h1l1 2 1 34 1-36h3l1 4 1-4h2l1 10 1-10h5l1 57 1-57h1l1 53 1-20 1-33h4l1 8 1 3h1l1-11h6l1 5 1 35 1-40 1 4 1-4h2l1 6 1-2 1 23 1-4 1-1 1-10 1-11 1-1h3l1 19 1-13 1-6h1l1 2 1 3 1-5 1 13 1-13 1 4 1-4"/><path vector-effect="non-scaling-stroke" d="M0 0h2l1 10 1-10h2l1 28 1-10 1-7 1-6 1-5 1 30 1-27 1 5 1-8h7l1 8 1-8 1 3 1-3h6l1 12 1 6 1-18h1l1 2 1-2 1 2 1 20 1-10 1-1 1-1 1 20 1-3 1-27h8l1 29 1-4 1-23 1 12 1-14 1 44 1-2 1-42h5l1 8 1-2 1 12 1-18h2l1 4 1-1 1 5 1-3 1 9 1-10 1-1h1l1-1 1-2h10l1 13 1-13 1 12 1 13 1-25h3l1 4 1-4 1 10 1-10h3l1 10 1 1 1-11 1 15 1 10 1-17 1 3 1 4 1-15h12l1 4h1l1-4h7l1 9 1-9 1 88 1-47 1-41h2l1 21 1-21 1 20 1-20 1 6 1-6 1 2 1 15 1-17 1 1 1 15 1-11 1-5h1l1 6 1-6h1l1 21 1-21h1l1 98 1-73 1-18 1-7h2l1 12 1-12h1l1 44 1-36 1 2 1-9 1-1h1l1 22 1-10 1-10 1-2h4l1 119 1-77 1-42h3l1 1 1 10 1 2 1 60 1-73 1 15 1-15h3l1 2 1 3 1-5 1 1h1l1-1 1 9 1-8 1-1h2l1 38 1-38 1 8 1 34 1-28 1 21 1-31 1-2 1-2h1l1 5 1 39 1-39 1-5h4l1 19 1-19h2l1 1h1l1 16 1-16 1-1 1 15 1-15h4l1 1h1l1-1h1l1 8 1 9 1 11 1-28h2l1 11 1-8 1-3h1l1 2 1 21 1-23 1 13 1-13 1 2 1-2h4l1 3 1-3h3l1 2 1 14 1-16 1 2 1-2 1 8 1-8h1l1 17 1-17h8l1 2 1-2h1l1 31 1-31h5l1 16 1-16h6l1 20 1 13 1-33h7l1 10 1-10 1 4 1 1 1-5 1 5 1-5h8l1 4 1 10 1-14 1 5 1 1 1-6h6l1 26 1-26h2l1 21 1-14 1-7h5"/><path vector-effect="non-scaling-stroke" d="M0 0h1l1 29 1 43 1-72h3l1 3 1 14 1 4 1-21 1 6 1-3 1-3h7l1 14 1-14h4l1 2 1-1 1-1h4l1 2 1 11 1 6 1-19h1l1 31 1-31h9l1 32 1-16 1-11 1-5 1 25 1-25h2l1 20 1-20 1 5 1 20 1 33 1-48 1 5 1-13 1-2h2l1 30 1-30h3l1 6 1-6h3l1 21 1-7 1-14h1l1 7 1-7h11l1 34 1-34h5l1 40 1-40h1l1 5 1-5h1l1 9 1-9h2l1 33 1 1 1-34h1l1 19 1-19 1 13 1-13 1 19 1 26 1-45h2l1 6 1-6 1 62 1-61 1-1 1 4 1-4h1l1 24 1-24h2l1 6 1-4 1 10 1 19 1-25 1 1 1-2 1-5h2l1 53 1-38 1-13 1-2h2l1 5 1-5 1 8 1-6 1 2 1-4 1 17 1-16 1 5 1-6h4l1 5 1-5h5l1 179 1-179 1 7 1-7 1 7 1 54 1-42 1-18 1-1 1 6 1 6 1-6 1-6h1l1 1 1 4 1-5h1l1 8 1-8h2l1 18 1-18 1 7 1-7h3l1 9 1-9h2l1 11 1-8 1 34 1-37h1l1 12 1-6 1-6 1 32 1-32h1l1 5 1-5h2l1 15 1-15 1 35 1-35h1l1 12 1-9 1 34 1-37h5l1 2 1-1 1 6 1 71 1-78h4l1 7 1-2 1 8 1-10 1 59 1-62h7l1 12 1-4 1-8 1 6 1 8h1l1 13 1-27h5l1 3 1 49 1-52h1l1 1 1-1 1 12 1-5 1-7h2l1 3 1-3h16l1 2 1-2h3l1 34 1 41 1-75h6l1 52 1 3 1-44 1-11 1 31 1-31h1l1 3 1-3h5l1 17 1 2 1-10 1-4 1 1 1 23 1-17 1 53 1-43 1-13 1-9h2l1 30 1-30 1 17 1-13 1 1 1 16 1-16 1-5h6l1 3 1-3 1 2 1 1 1-3h2l1 3"/><path vector-effect="non-scaling-stroke" d="M0 0h12l1 2 1-2h1l1 1 1-1h2l1 17 1-17h1l1 24 1-24h2l1 10 1-10h1l1 3 1-3h3l1 3 1 10 1 8 1-21 1 15 1-15 1 17 1 10 1-21 1-6h2l1 26 1-26h1l1 30 1-30h6l1 15 1-15h10l1 3 1 6 1-9h5l1 8 1-8h1l1 50 1-45 1 3 1 18 1-26h2l1 14 1 33 1-42 1-5h6l1 2 1-2 1 5 1-5h1l1 4 1 6h1l1-3 1-1 1 142 1-124 1-24h1l1 2 1-2h9l1 28 1-28 1 1 1-1h11l1 10 1-10h3l1 2 1-2h3l1 147 1-118 1 5 1-34h1l1 27 1 56 1-83h2l1 3 1-3 1 27 1-21 1-6h1l1 6 1-6h1l1 34 1-17 1-11 1-6 1 1 1-1 1 8 1 11 1-19h5l1 14 1 29 1-32 1 49 1 123 1-179 1-4h2l1 50 1-45 1 2 1-7h7l1 4 1-4h12l1 13 1-13h3l1 9 1 28 1-33 1 36 1-33 1 2 1-4 1-3 1-2h8l1 6 1-6h1l1 32 1-18 1-1 1-10 1 18 1-13 1-8 1 1 1 6 1-7h2l1 2 1-2 1 38 1 37 1-75h2l1 1 1-1h5l1 2 1 1 1 76 1-79h14l1 5 1-5h1l1 16 1-2 1-10 1-2 1-2h1l1 96 1-92 1-1 1-3h1l1 2 1-2h5l1 8 1-8 1 8 1 4 1-12h5l1 1 1 20 1 67 1-88h1l1 30 1-30h2l1 2 1-2h1l1 9 1-9h8l1 20 1-13 1-4 1-3h11l1 2 1-2h2l1 2 1-2h1l1 2 1-2h4"/><path vector-effect="non-scaling-stroke" d="M0 0h5l1 20 1-10 1-10h4l1 6 1-2 1 7 1-10 1-1h1l1 20 1-11 1-9h4l1 3 1-3h2l1 1 1 2 1-3h12l1 25 1-25h3l1 32 1 6 1-14 1 19 1-11 1 6 1-38h2l1 17 1 11 1-28h5l1 3 1 2 1 38 1-35 1 14 1-22h5l1 5 1-3 1 39 1-41 1 1 1 9 1 2 1-12h3l1 13 1 6 1-18 1 17 1-2 1 82 1-90 1-4 1-4 1 142 1-142h1l1 4 1-4h1l1 85 1-77 1-4 1-4 1 77 1-77h3l1 17 1 8 1-25h6l1 42 1-13 1-29 1 5 1 20 1-21 1-4h5l1 3 1-3 1 14 1-14 1 6 1-6h3l1 3 1-3h2l1 8 1-8 1 2 1-2h1l1 2 1-2h2l1 1 1-1h8l1 11 1-11 1 1 1 11 1-12h5l1 16 1-16 1 16 1-16h5l1 133 1-118 1-15h1l1 1h1l1-1 1 23 1-21 1-2 1 2 1-2 1 6 1-6 1 7 1 1 1 42 1-47 1-1 1-2h7l1 3 1 8 1-11 1 1 1-1 1 9 1-9 1 1 1 1 1 1 1-3 1 2 1-2h3l1 10 1-10h1l1 14 1-14h1l1 1 1-1 1 8 1-7 1 10 1-11h6l1 20 1-20 1 12 1-12h3l1 1 1-1h2l1 31 1-31 1 10 1-10h5l1 56 1 109 1-129 1-36 1 1 1 12 1-13h7l1 3 1 2 1-5h4l1 11 1-11 1 6 1-6h10l1 13 1-13h6l1 13 1-13h4l1 21 1-13 1-8h9l1 1 1-1h5l1 18 1 70 1-72 1-16 1 5 1-5h5l1 40 1-25 1 6 1-1 1-20h2l1 8 1 8 1 16 1 16 1-34 1-2 1-12h6"/><path vector-effect="non-scaling-stroke" d="M0 0h11l1 18 1-18 1 4 1-4 1 2 1-2 1 4 1 31 1-14 1-21 1 3 1 9 1-12h1l1 10 1-10h3l1 6 1-6h1l1 5h1l1-5h7l1 37 1-2 1-14 1-21h2l1 37 1 10 1-15 1-19 1-13 1 34 1-34h16l1 9 1 19 1-28h2l1 11 1-11 1 25 1-25h6l1 7 1 47 1-2 1-52h5l1 11 1 13 1-24h3l1 25 1-25h4l1 99 1-99h10l1 35 1-35h1l1 6 1 42 1-48h1l1 11 1-7 1-4h5l1 3 1-3h2l1 6 1-6h1l1 4 1-4h3l1 22 1-1 1-21h3l1 22 1-22 1 14 1 1 1-8h1l1-7h3l1 8 1-8h2l1 8 1-7 1-1 1 3 1-3h1l1 17 1 43 1-60 1 4 1-4h2l1 6 1-6h6l1 82 1-79 1 21 1-22 1-2 1 2 1-2h5l1 6 1 3 1 33 1-34 1-8h8l1 4 1-4 1 21 1 76 1-97 1 46 1-43 1-3h4l1 16 1 21 1-37h4l1 6 1-6h3l1 31 1-30 1 7 1 7 1-15 1 18 1 54 1-71 1-1 1 5 1-5 1 14 1-6 1-8 1 8 1-8 1 8 1-8h1l1 60 1-60h7l1 20 1-5 1 24 1-39h12l1 5 1-3 1 70 1-67 1-5 1 2 1-1 1 15 1-16h1l1 9 1 9 1-18 1 2 1-2h9l1 19 1-6 1-13h7l1 18 1 17 1-30 1-5h7l1 7 1 1 1-8h7l1 6 1-6h8l1 7 1-7h10l1 12 1-12 1 18 1-18h1l1 4"/><path vector-effect="non-scaling-stroke" d="M0 0h1l1 141 1-141h2l1 20 1-20h1l1 20 1-20 1 13 1 1 1-14h2l1 2 1-2h8l1 4 1-4h8l1 9 1-9 1 6 1-2 1-4h6l1 14 1-14h2l1 26 1-19 1-7h2l1 5 1-5h2l1 18 1 11 1-29h6l1 7 1 1 1 31 1-39 1 10 1-10h1l1 1 1-1h1l1 4 1-4 1 33 1-33h4l1 9 1 36 1 59 1-104h1l1 14 1-14h2l1 10 1-10h3l1 5 1-5 1 13 1 20 1-33h12l1 8 1-8h4l1 6 1-6h7l1 25 1-25h3l1 2 1-2 1 23 1-5 1-18 1 8 1-8h3l1 2 1-1 1-1h3l1 7 1 1 1 2 1-10 1 12 1-12 1 31 1-27 1-4 1 12 1-12h2l1 3 1 45 1 29 1-58 1-2 1-17h3l1 22 1 1 1 24 1-47h3l1 12 1-12h2l1 11 1-11h4l1 24 1 10 1 19 1-53 1 84 1-76 1-4 1-4 1 9 1-9 1 3 1-3 1 3 1-3h4l1 5 1 2 1 21 1-21 1-7h9l1 4 1 34 1-29 1-5 1-4h1l1 24 1-23 1 28 1 55 1-84 1 4 1 2 1-6 1 2 1 6 1-8h2l1 11 1-11h1l1 10 1-10 1 10 1-10h1l1 1 1 5 1-6h2l1 7 1 40 1-46 1-1 1 19 1-19h4l1 13 1-13h4l1 18 1-16 1 6 1-8h3l1 4 1 23 1-27h1l1 4 1-4h1l1 17 1 73 1-90h2l1 51 1-51h6l1 10 1 32 1-9 1-33h1l1 6 1-6h8l1 3 1-3h1l1 73 1-73 1 13 1-13 1 1 1-1h1l1 9 1-9h6l1 16 1 5 1-14 1 1 1 30 1-38h4l1 9 1-9h3l1 16 1-6 1 1 1-11h3l1 8 1-5 1 4 1 5 1-7 1-5h4"/><path vector-effect="non-scaling-stroke" d="M0 4l1 12 1-16 1 37 1-37h2l1 23 1-18 1-5h1l1 17 1 9 1-26h5l1 18 1 13 1-22 1-5 1-4h16l1 11 1 42 1-53 1 6 1 12 1 49 1-67 1 14 1-14 1 3h1l1-3h2l1 5 1 9 1-11 1-3h2l1 31 1-27 1 18 1 17 1-34 1 4 1-9h13l1 32 1-32h1l1 10 1-10h5l1 12 1-12h1l1 5 1 2 1-7 1 16 1-16h3l1 20 1-20h1l1 32 1-32 1 7 1-7h1l1 9 1 6 1-15h2l1 8 1-8h2l1 1 1 20 1-12 1 8 1 32 1-29 1-20h1l1 21 1-13 1 12 1-16 1-4 1 2 1 26 1-28h5l1 1 1-1 1 27 1-27h4l1 5 1-4 1 2 1 2 1-5h2l1 1 1-1h1l1 33 1 12 1-33 1-12h1l1 8 1-8h5l1 12 1-12 1 3 1-2 1 5 1-6 1 35 1-35 1 2 1 31 1-33h7l1 18 1-12 1-6h3l1 2 1-2h8l1 6h2l1-5 1 5 1-6h5l1 8 1 15 1 4 1 5 1-32h1l1 12 1-8 1 1 1-5h1l1 15 1-9h1l1-3 1-3h1l1 1 1-1h2l1 16 1-9 1-7h3l1 5 1-5h1l1 37 1-37 1 4 1 1 1 7 1-12 1 2 1-2h2l1 10 1 3 1 21 1-32 1-2h3l1 8 1-8 1 13 1-13h2l1 20 1-20h2l1 4 1-4 1 9 1-4 1-3 1-2h3l1 9 1-5 1-4h1l1 3 1-3h1l1 23 1-15 1-8h1l1 24 1-24h9l1 26 1-26 1 19 1-15 1-4h8l1 23 1-23h2l1 12 1-12h2l1 5 1-5 1 5 1-5h6l1 2 1-2h1l1 75 1-48 1-27 1 2 1-2 1 11 1-11h10l1 6 1-6h9"/><path vector-effect="non-scaling-stroke" d="M0 0h1l1 18 1 53 1-69 1-2h5l1 13 1-13h7l1 21 1-21 1 10 1 43 1-41 1-12h14l1 8 1 5 1-13h4l1 7 1-4 1-3h1l1 20 1-20h6l1 7 1 7 1-14 1 17 1-10 1-7h1l1 3 1 8 1 13 1-22 1 2 1 12 1-16h1l1 11 1-11h1l1 8 1-8h1l1 29 1 25 1-54h12l1 1 1-1 1 18 1-18 1 4 1 5 1 2 1 7h1l1 77 1-92 1-3 1 11 1-11 1 12 1-12h3l1 4 1-4h1l1 11 1-11h8l1 16 1-6h1l1 15 1-20 1-5 1 2 1-2h4l1 9 1-9h5l1 15 1-15 1 22 1-22h9l1 18 1-18 1 23 1-18 1 31 1-21 1 10 1 2 1-27h1l1 2 1-2h3l1 4 1-4h1l1 16 1-16h1l1 38 1-23 1 4 1-13 1-3 1-3h2l1 50 1 11 1-61h10l1 4 1-4h1l1 7 1-7 1 41 1-41 1 3 1-3h15l1 2 1-2h3l1 9 1-9h3l1 2 1-2h1l1 58 1-16 1-39 1-3h2l1 10 1 3 1-13h7l1 1 1 11 1 2 1-14h9l1 35 1 39 1 12 1-83 1-3h12l1 2 1-2h1l1 14 1 39 1-53 1 21 1-14 1-7 1 2 1-2h6l1 52 1-46 1-6h4l1 31 1-25 1-6h2l1 3 1-3 1 33 1 66 1-31 1-50 1-18 1 62 1-59 1-3h4l1 29 1-29h1l1 32 1-20 1-12h2l1 15 1 52 1-33 1 3 1-37h5l1 4 1-4 1 17 1-17 1 4 1-2 1 10 1 1 1-6 1 1 1-8h9"/><path vector-effect="non-scaling-stroke" d="M0 0h1l1 22 1 30 1-52h1l1 38 1-20 1 5 1 12 1-35h6l1 7 1-7 1 9 1 7 1-10 1 3 1 22 1-31 1 8 1-8h3l1 5 1-5h1l1 4 1-4h1l1 5 1-5h3l1 12 1-7 1-5 1 17 1-7 1 42 1-41 1-11h2l1 31 1-31h14l1 12 1-12h1l1 9 1 6 1 18 1-33 1 34 1-34 1 10 1-10h3l1 14 1-14 1 9 1 8 1-17 1 7 1-3 1-4 1 17 1 36 1-53 1 8 1-8h8l1 13 1 3 1 38 1-44 1-10 1 4 1 36 1-40h3l1 35 1-21 1 4 1-14 1 125 1-129 1 11 1 15 1-22 1-4h4l1 6 1 8 1-4 1-10 1 40 1 13 1-53h2l1 3 1 11 1-14 1 2 1 2 1 2 1 14 1-20h3l1 14h1l1 29 1-18 1-22 1 22 1-23 1 15 1-17 1 19 1 68 1-87 1 31 1-30 1 6 1 29 1-8 1-11 1-17h1l1 40 1-40 1 2 1-2h2l1 29 1-29 1 10 1 31 1-21 1-20h1l1 7 1-7h2l1 3 1 77 1-76 1 15 1-19h1l1 26 1-26h2l1 39 1-39 1 17 1-17h7l1 2 1 7 1 102 1-111h2l1 41 1 62 1-38 1-45 1 15 1-22 1-13h1l1 20 1 15 1-35 1 10 1 6 1-16 1 7 1-2 1-5h1l1 9 1-7 1-2h5l1 9 1-9h14l1 28 1 62 1-79 1-11 1 10 1-10 1 2 1-2h2l1 6 1 6 1-6 1 43 1 32 1-77 1-4h9l1 1 1 1 1-2 1 15 1-15h2l1 2 1-2 1 23 1-23 1 40 1 25 1-65 1 7 1-7h1l1 4 1-4h4l1 8 1-8h3l1 2 1 18 1-20h5l1 9 1-9 1 4h1l1-4 1 46 1-46h2l1 1 1-1 1 14 1 1 1-15 1 1 1 18 1-19h5l1 67 1-52 1-6 1-9h18l1 1 1-1h2l1 22 1-22"/><path vector-effect="non-scaling-stroke" d="M0 0h1l1 13 1 16 1-29 1 20 1-20h4l1 17 1-11 1-6h1l1 7 1-7h21l1 2 1-2h5l1 16 1 6 1-22h1l1 2 1-2 1 25 1-15h1l1 26 1-11 1-25h2l1 9 1-9 1 6 1 5 1 22 1-31 1 7 1-9h14l1 15 1-15h2l1 23 1-13 1-10h1l1 14 1-14h6l1 26 1 26 1-48 1-4 1 12 1-12 1 37 1 14 1-40 1-11 1 2 1 22 1-13 1-11h1l1 14 1-7 1 30 1-37h2l1 33 1 10 1-16 1-13 1-2 1-12h5l1 14 1-9 1-1 1 16 1-20h7l1 35 1 3 1-38h1l1 4 1-4 1 2 1-2h1l1 4 1 15 1-19 1 12 1-3 1 20 1-22 1 12 1-18 1 2 1-3h7l1 6 1-6 1 8 1-8h1l1 18 1-17 1 183 1-184 1 2 1 58 1-36 1-11 1 19 1 9 1-41h4l1 5 1-5h1l1 14 1-3 1 20 1-24 1-7h2l1 23 1-14 1-9 1 3 1-3h3l1 4 1 14 1-16 1 13 1-15h11l1 43 1-17 1-26 1 1 1-1h6l1 2 1-2h9l1 8 1 142 1-150h1l1 10 1-10h8l1 1 1 24 1-8 1-10 1-4 1-3h5l1 8 1 2 1-10h1l1 12 1-4 1-5 1-3 1 4 1 8 1-12h4l1 2 1-2 1 1 1-1h3l1 9 1-9h8l1 41 1-41 1 14 1-14h1l1 10 1-10h9l1 1 1-1 1 8 1-8h1l1 2 1-2h6l1 105 1-78 1-27h1l1 4 1-4 1 20h1l1 47 1-59 1-8h3l1 8 1 11 1 14 1-33h1l1 4 1-3 1-1h9l1 17 1-8 1-9h1"/><path vector-effect="non-scaling-stroke" d="M0 31l1-27 1 43 1-16 1-31 1 5 1-5h2l1 1 1 6 1-6 1 4 1-5h4l1 17 1-17h3l1 23 1-23h12l1 13 1 9 1-22 1 23 1-23h4l1 2 1-2h2l1 10 1-10h2l1 42 1-30 1-12h1l1 15 1-2 1-13 1 9 1-9h8l1 23 1-23h4l1 1 1-1 1 5 1 5 1 23 1-33 1 10 1 4 1 1 1-15h6l1 6 1-6 1 3 1-1 1 5 1 2 1 8 1 4 1-21h2l1 48 1-48h2l1 29 1-29h3l1 20 1-20 1 23 1-19 1-4h3l1 4 1-4h2l1 10 1-10h1l1 3 1-3 1 12 1-5 1-7h4l1 12 1 8 1-20h1l1 10 1-10h5l1 4 1 21 1-25h6l1 2 1 59 1-61h1l1 2 1-2h1l1 8 1-8h5l1 1 1-1 1 13 1-13 1 17 1-7 1-7 1 30 1-13 1-12 1-8h3l1 59 1-50 1 9 1 30 1-48 1 8 1-8h5l1 112 1 6 1-118h3l1 6 1-5 1 18 1 29 1-48h5l1 2 1 6 1 5 1-6 1 63 1-70h2l1 5 1-5h6l1 29 1-29h9l1 5 1-5h2l1 11 1 3 1-4 1-10h7l1 68 1-55 1-13h2l1 4 1-4h1l1 3 1 5 1-1 1 18 1-25 1 46 1-46h4l1 1 1 3 1-3 1-1h5l1 27 1-27h4l1 27 1-11 1 122 1-71 1-67h1l1 1 1-1h12l1 16 1-16h2l1 3 1-3 1 16 1 9 1 15 1-40h1l1 9 1-5 1-4h4l1 13 1 131 1-8 1-114 1 12 1-31 1-1 1 18 1 6 1-8 1-7 1-3 1-8h8l1 2 1-2 1 6 1-6h1l1 22 1-10 1-12 1 9 1-9h3l1 12 1 5 1-17 1 1"/><path vector-effect="non-scaling-stroke" d="M0 0h2l1 15 1-2 1-13 1 16 1-16h2l1 9 1-5 1-4h3l1 14 1-9 1-2 1-3h14l1 2 1-2h5l1 32 1-32h1l1 13 1 12 1-7 1-18h5l1 9 1-9 1 6 1 7 1-13h4l1 32 1-32h3l1 7 1 22 1-21 1-8 1 5 1-5h3l1 1 1-1h3l1 5 1-5h1l1 3 1-3h2l1 25 1-12 1 13 1-26h8l1 1 1-1 1 18 1-18h1l1 36 1-24 1-8 1 39 1-43h3l1 8 1 7 1-15 1 2 1 47 1-33 1-2 1-4 1-10h4l1 4 1-4 1 5 1-5h10l1 5 1 2 1-7h2l1 6 1-6h3l1 2 1-2h4l1 1 1-1 1 20 1-4 1-9 1-7 1 17 1 8 1-25h1l1 1 1 23 1 31 1-40 1 91 1-103 1 6 1 10 1 68 1-52 1-15 1-7 1-13 1 64 1-56 1-8h1l1 1 1 1 1-2h2l1 25 1-23 1-2 1 107 1-104 1-3h5l1 1 1-1h7l1 18 1-18h3l1 6 1-4 1-2h2l1 1 1-1h2l1 1 1-1h2l1 92 1-92 1 4 1-4h7l1 3 1-3 1 4 1 3 1-7 1 2 1-2h1l1 1 1 11 1-12h2l1 2 1 3 1-5 1 2 1-1 1 172 1-95 1-78h3l1 5 1-5h2l1 9 1 37 1 33 1-79h5l1 27 1-27h3l1 1 1-1h7l1 19 1-1 1-18 1 32 1-32h14l1 7 1 10 1-6 1-11h3l1 9 1 14 1-23h5l1 7 1-7 1 7 1-7h1l1 15 1 42 1-22 1 90 1-102 1-20 1-3 1 29 1-29 1 136 1-60 1-74 1-2h5l1 5 1 10 1 22 1-37h16"/><path vector-effect="non-scaling-stroke" d="M0 0h4l1 34 1-34h1l1 6 1 7 1-13h8l1 16 1-16h1l1 6 1 19 1-25h5l1 4h1l1-4h4l1 5 1-5h1l1 10 1-10h2l1 23 1-13 1-10 1 6 1-6 1 16 1 20 1-36 1 10 1-10 1 50 1-50h15l1 10 1-10 1 44 1-38 1-6 1 1 1 9 1-5 1 12 1 38 1-28 1-21 1-6h13l1 80 1-50 1-26 1-4h4l1 4 1-4h1l1 17 1-17h2l1 34 1-10 1-5 1-19h2l1 41 1-37 1 18 1-14 1-2 1-6 1 3 1 33 1-32 1-4 1 3 1 6 1 57 1-66h4l1 16 1-16h2l1 17 1 7 1 64 1-88h3l1 8 1 25 1-33h4l1 3 1-3 1 7 1-7h1l1 13 1-13h1l1 4 1-4 1 7 1-7 1 8 1-2 1 25 1-31 1 8 1-8h1l1 52 1-40 1 61 1 52 1-122 1-3h4l1 3h1l1-3 1 6 1 14 1-13 1-2 1-5h1l1 6 1 4 1-10 1 6 1-6h4l1 5 1-5h1l1 5 1-5 1 21 1-3 1-18h5l1 7 1 9 1-11 1 31 1-36h5l1 25 1-25 1 22 1-22h1l1 11 1 22 1-33h5l1 6 1-6h3l1 1 1-1 1 6 1-6h1l1 2 1-2 1 2 1-2 1 4 1-4h1l1 12 1-12 1 50 1-37h1l1-13 1 4 1-4 1 6 1-6 1 24 1-8 1-6 1 27 1-37h13l1 9 1-8 1 1 1 4 1-6h1l1 20 1-20 1 11 1-11h1l1 28 1-28h6l1 10 1-10h16l1 15 1-12 1-3h8l1 8 1-8h2l1 5 1 62 1-37 1-30 1 4 1 1 1-5h3l1 7 1-7h7l1 13 1 36 1-49h4l1 35 1-21 1-14h2"/><path vector-effect="non-scaling-stroke" d="M0 0h1l1 32 1 28 1-12 1-48 1 18 1-1 1 2 1-19 1 3 1 21 1-24h14l1 1 1-1h5l1 4 1-4 1 3 1 3 1-6 1 17 1-17h2l1 6 1 29 1 37 1-72h2l1 5 1 30 1-35h1l1 1 1 9 1-10 1 3 1-3 1 4 1 12 1 4 1 40 1-60 1 9 1 1 1-10 1 2 1-2h3l1 16 1-16h2l1 16 1-1 1-15h2l1 26 1-26h4l1 12 1-12 1 1 1 2 1 6 1-9h6l1 8 1-8h1l1 1 1 8 1-9h1l1 19 1-19 1 4 1-4 1 40 1-40h1l1 19 1 56 1-19 1-25 1-31h2l1 7 1-7h7l1 14 1 15 1-29h4l1 9 1-9 1 8 1-8h6l1 4 1-2 1-2 1 2 1 12 1-2 1-12 1 9 1 15 1 1 1-25h6l1 5 1 48 1-36 1-17h1l1 1 1-1h2l1 5 1-2 1-3 1 3 1 15 1-1 1-17 1 3 1 1 1 51 1 7 1-50 1-11 1-1h2l1 2 1-2 1 2 1-2h7l1 13 1-13 1 35 1-35 1 12 1-8 1-4h3l1 1 1-1h6l1 27 1-7 1-20 1 1 1-1h1l1 18 1-18h2l1 8 1 4 1-12 1 6h2l1-6h3l1 12 1-12h1l1 5 1 11 1 4 1-3 1-17h1l1 17 1-9 1-8h7l1 12 1-12h2l1 3 1-1 1 11 1-3 1-6 1-4h2l1 13 1-13 1 1 1-1h8l1 10 1-10 1 13 1-13h6l1 3 1-2 1-1h1l1 8 1-8h1l1 4 1-4h3l1 9 1 8 1-17h2l1 14 1-12 1-2h2l1 8 1 15 1-21 1-2 1 21 1 18 1 59 1-77 1-12 1 49 1-58h2l1 4 1-4 1 12 1-12h3l1 49 1-49h1l1 13 1-13 1 18 1-18 1 39 1-36 1-3h3l1 2 1-2h8l1 3 1-3h1l1 17 1-17h2l1 4 1-4h2"/><path vector-effect="non-scaling-stroke" d="M0 0h2l1 35 1-24 1-11h2l1 19 1-19h4l1 1 1-1 1 3 1-3h2l1 35 1-35 1 19 1-19h8l1 18 1 5 1-23h3l1 3 1-3 1 7 1-3 1 3 1-7h1l1 89 1-89 1 16 1-12 1-4h2l1 10 1-8h1l1-2h12l1 5 1-5h4l1 37 1-32 1-5 1 12 1-12h3l1 3 1 14 1 22 1-20 1-19h3l1 9 1-9h10l1 17 1-7 1-10h3l1 41 1-14 1-19 1-8h3l1 5 1-5 1 21 1 2 1-23 1 34 1-34h6l1 21 1-21h6l1 5 1-5h4l1 22 1-22h3l1 32 1-26 1 16 1-22h2l1 5 1 1 1-6h2l1 79 1-56 1-13 1-10h1l1 5 1 6 1-10 1 9 1-10h2l1 1 1 40 1-23 1-18 1 3 1-3 1 10 1 18 1-7 1 27 1-48h4l1 4 1-4h4l1 1 1-1h1l1 2 1-2h1l1 8 1-8h2l1 1 1 1 1-2h3l1 31 1-31 1 2 1-2h4l1 21 1-21 1 5 1 13 1-18 1 84 1-21 1-44 1-3 1-16 1 8 1-8h7l1 4 1-4h1l1 1 1 31 1-24 1-1 1 20 1-27h2l1 29 1-29h6l1 22 1-22 1 9 1-9h9l1 19 1 51 1-62 1-8h1l1 8 1-8h2l1 5 1-5h7l1 2 1 5 1-7h4l1 17 1-17h2l1 2 1-2h8l1 1 1 1 1-2 1 5h1l1-5h4l1 3 1 32 1-35h8l1 6 1-3 1 6 1 17 1-16 1-10h2l1 3 1-3h1l1 32 1-32h6l1 81 1-70 1 17 1-28h12l1 33 1-30 1-3 1 1"/><path vector-effect="non-scaling-stroke" d="M0 0h2l1 44 1-44 1 2 1-2h1l1 7 1-2 1-5 1 38 1-26 1-12h3l1 4 1-4h5l1 5 1 3 1-8h4l1 2 1-2h1l1 8 1-2h1l1 8 1-14h1l1 130 1-130h3l1 11 1-11h6l1 2 1-2h2l1 4 1-4h4l1 10 1-7 1-3 1 7 1-2 1 56 1-61 1 28 1-28h2l1 43 1-43h5l1 73 1-70 1-3 1 23 1 1 1-24h2l1 168 1-103 1-65h9l1 14 1-14h3l1 1 1-1h2l1 38 1-14 1-24 1 3 1-3h3l1 15 1-15 1 16 1-16h7l1 21 1-21h10l1 3 1-3h4l1 12 1 40 1-52h1l1 11 1-11h1l1 3 1-3h2l1 8 1-8 1 5 1-5h6l1 6 1 6 1-12h2l1 8 1 12 1 176 1-194 1-2 1 3 1-3h1l1 4 1-4h3l1 6 1-6h4l1 13h1l1-13h5l1 1 1 4 1 37 1-33 1-9 1 8 1-7 1 9 1 14 1-24h3l1 5 1 19 1-24 1 12 1-12h5l1 2 1-2h1l1 30 1-30h3l1 25 1-25h5l1 4 1-4 1 3 1 18 1-21h1l1 50 1-50h1l1 32 1-30 1-2 1 5 1-3 1 8 1-10h1l1 1 1 81 1-71 1-11h6l1 16 1-16 1 33 1-13 1-14 1-6h3l1 7 1-7h1l1 1 1-1h2l1 12 1-12h7l1 3 1-3 1 27h1l1-27 1 2 1-2h1l1 3 1-3 1 15h1l1-15h3l1 1 1 7 1 12 1-13 1-7h4l1 5 1-5h3l1 27 1-27h15l1 7 1-7h14l1 17 1-17h1l1 3 1-3h6l1 4"/><path vector-effect="non-scaling-stroke" d="M0 0h20l1 7 1-7h8l1 4 1-4h4l1 6 1-6h11l1 16 1-16 1 4 1-4 1 9 1 19 1-28h2l1 5 1 21 1 10 1 5 1-25 1-16 1 8 1-8h3l1 44 1-44h11l1 49 1-28 1-3 1 13 1-31 1 17 1-4 1-13h2l1 6h1l1-6h3l1 2 1-2h2l1 53 1-27 1-26h2l1 23 1-9 1 12 1-22 1 2 1 2 1-4 1-4 1 6 1-6h4l1 14 1-14h1l1 17 1 21 1-19 1-14 1-5 1 20 1-20h2l1 18 1 6 1-17 1-7 1 8 1-8 1 16 1-16 1 9 1-9h2l1 8 1-8h2l1 2 1-2h2l1 14 1-14h4l1 5 1 37 1-30 1-12 1 29 1-29h2l1 10 1-10 1 2 1-2h1l1 1 1-1h1l1 28 1-25 1 8 1-8 1-3 1 30 1-30h1l1 1 1 72 1-73h3l1 2 1 7 1-9 1 4 1-4h2l1 10 1-10 1 11 1-9 1 5 1 31 1-38h1l1 7 1-7 1 7 1-7 1 1 1-1h2l1 21 1-21h2l1 26 1-20 1-6 1 2 1-2 1 4 1 21 1 47 1-72 1 4h1l1-4 1 4 1-4 1 4 1-4 1 21 1-15 1-6h13l1 19 1-19h5l1 25 1-22 1-3 1 12 1-9 1-3 1 19 1-15 1-4 1 8 1-8 1 32 1-28 1-3 1-1h2l1 19 1-8 1-11h7l1 2 1-2h6l1 35 1-17 1 28 1-45 1-1h12l1 2 1-2h4l1 4 1 11 1-6 1 44 1-53h1l1 2 1-2h4l1 7 1 13 1-20h2l1 6 1-6 1 2 1 48 1-50h1l1 43 1-23 1 14 1-34h1l1 14 1-14h1l1 13 1 126 1-119 1-15 1-5h3l1 4 1-4h6l1 8 1-8h2"/><path vector-effect="non-scaling-stroke" d="M0 0h1l1 23 1 4 1-27h2l1 27 1 4 1-21 1 4 1-14 1 19 1-17 1-2h7l1 9 1-9h3l1 8 1-8h3l1 3 1-3 1 4 1 7 1-11h1l1 22 1-22 1 5 1-5h9l1 32 1-16 1-16 1 8 1-8h2l1 56 1-38 1 31 1-17 1-32h4l1 1 1 9 1-10 1 3 1-3 1 8h1l1 1 1-9h1l1 3 1-3h2l1 45 1-38 1 4 1 8 1-19h1l1 16 1-16 1 22 1-22h13l1 71 1-71h3l1 47 1 99 1-144h1l1-2h2l1 1 1 14 1-15h3l1 16 1-16h2l1 22 1 14 1 18 1-54 1 5 1-5h2l1 2 1 3 1-5h1l1 11 1-11h9l1 32 1 3 1-35h4l1 22 1-15 1-7h9l1 12 1-12h4l1 2 1 8 1-10 1 3 1-3h1l1 22 1-22 1 3 1 3 1-6h1l1 4 1-4h10l1 4 1-4 1 11 1-11 1 7 1-7 1 31 1-28 1 12 1-15h4l1 3 1-3 1 9 1-9h1l1 29 1-5 1-24h1l1 4 1-3 1-1h1l1 3 1-1 1-2 1 4 1 54 1-58h3l1 13 1-13h2l1 11 1-11 1 3 1-3 1 61 1-54 1 85 1-92h2l1 2 1-2h4l1 13h1l1-13h3l1 26 1-7 1 140 1-159h1l1 32 1-32 1 43 1-33 1-10h4l1 8 1-5 1-3h7l1 5 1-5 1 2 1 160 1-81 1-57 1-24h1l1 10 1 10 1-20 1 1 1 2h1l1-3h6l1 11h1l1 33 1 2 1-46h9l1 4 1-4 1 3 1-3h3l1 2 1-2 1 37 1-12 1 28 1-53h4l1 11 1-11 1 8 1-8h5l1 3 1 6 1 49 1-47 1-11h15"/><path vector-effect="non-scaling-stroke" d="M0 0h1l1 28 1-7 1-21h9l1 4 1 1 1-5 1 10 1-10 1 10 1 29 1-39h8l1 8 1-8h8l1 19 1-19 1 10 1-10 1 13 1 47 1 43 1-85 1 2 1-20h1l1 35 1-12 1-21 1-2h4l1 18 1-18 1 6 1 29 1-35h2l1 7 1-7h3l1 122 1-122h6l1 7 1-7h1l1 10 1-2 1-8h4l1 65 1-27 1-38h1l1 9 1-9h2l1 33 1-33 1 2 1-2 1 17 1-17 1 7 1 38 1-45 1 5 1-5 1 15 1-15 1 11 1-2 1-9h4l1 12 1 14 1-18 1-8h1l1 5 1-5h2l1 28 1-28 1 3 1 62 1-44 1-18 1 3 1-6h4l1 5 1-5 1 51 1-28 1-7 1-16h1l1 12 1-12h2l1 6 1-6h1l1 4 1-4 1 34 1-34h4l1 4 1 11 1-3 1-12h12l1 19 1-14 1-5 1 9 1-9 1 14 1-14h6l1 2 1-2h1l1 3 1 20 1-23 1 28 1-28h4l1 200 1-186 1-14h1l1 5 1-5h1l1 4 1-4h1l1 6 1-6h6l1 1 1-1h2l1 19 1-19h1l1 38 1-12 1-23 1-3 1 34 1 11 1-23 1-22h14l1 23 1 3 1-23 1-3h3l1 15 1-15h6l1 1 1 1 1-2h1l1 25 1-13 1 7 1-19h2l1 7 1-7h8l1 6 1-6h8l1 9 1-9 1 17 1-17h1l1 2 1-2 1 7 1 20 1-27h7l1 3 1-3h1l1 3 1-3h2l1 99 1-99 1 28 1-16 1-12h4l1 22 1 43 1-59 1 9 1 32 1-47h3l1 15 1 13 1-13 1-15h6l1 26 1-26 1 2 1-2h2l1 6 1-6 1 23 1-11 1-4 1-8h8"/><path vector-effect="non-scaling-stroke" d="M0 0h2l1 150 1-148 1 11 1-13 1 77 1-77 1 7 1 74 1-35 1-46h1l1 4 1-1 1-3h2l1 12 1 24 1-14 1-15 1-6 1-1h2l1 4 1-4h3l1 2 1 22 1-24 1 4 1-4h2l1 11 1-1 1 33 1-43h1l1 12 1 21 1-33h1l1 8 1-8 1 23 1-23h2l1 6 1 38 1-43 1-1 1 6 1-6h11l1 21 1-14 1-4 1-1 1-2h1l1 9 1-9 1 75 1-45 1-17 1-13h2l1 17 1-17h2l1 13 1-13h7l1 30 1-30h1l1 4 1 19 1-23 1 87 1-87 1 4 1-4h2l1 30 1-9 1 31 1-26 1 12 1-38h7l1 18 1 1 1 22 1-41 1 9 1-9h1l1 6 1 12 1-18h3l1 3 1-3h3l1 1 1 13 1-14h4l1 1 1-1h6l1 5 1-1 1 6 1-10 1 15 1-10 1 10 1-15h2l1 1 1-1 1 29 1-26 1-3h2l1 7 1 25 1 10 1-40 1 3 1 4 1-9h4l1 8 1-6 1 84 1-86h1l1 30 1-30 1 1 1-1h1l1 2 1-2h1l1 1 1-1 1 3 1-3 1 1 1-1h1l1 1 1 26 1-23 1 25 1-29h3l1 12 1-12h6l1 9 1-9 1 5 1 12 1-4 1-13 1 16 1 10 1-19 1 30 1-37h5l1 1 1 17 1-18h1l1 1 1-1h2l1 2 1-2h7l1 10 1-7 1-3h1l1 15 1-10 1-4 1-1 1 10 1-10 1 4 1 8h1l1-9 1-1 1 8 1-10h4l1 5 1 9 1-14h4l1 9 1-9h5l1 11 1-11h11l1 20 1-20h6l1 22 1-17 1-5h4l1 29 1 110 1-136 1-3h2l1 1 1-1h2l1 62 1-23 1-39h2l1 16 1-16h1l1 21 1-7 1 41 1-2 1-53h4l1 7 1-7 1 13 1 8 1-21 1 2 1-2h3l1 16 1 25 1-41h1l1 20 1-20h6"/><path vector-effect="non-scaling-stroke" d="M0 0h1l1 35h1l1-35h1l1 5 1 11 1-16 1 9 1 39 1-48 1 7 1-7h2l1 6 1-3 1 10 1-13 1 67 1-56 1-11 1 18 1-13 1-5 1 3 1-3h1l1 3 1-3h2l1 6 1-6 1 8 1-4 1 4 1 1 1-9 1 22 1-10 1 20 1-32 1 26 1-26h1l1 11 1-11h4l1 1 1-1h1l1 12 1 4 1-16h2l1 22 1-22 1 16 1-16h3l1 7 1-7h3l1 16 1 9 1-5 1-20 1 12 1-12h2l1 20 1-20h1l1 33 1-33h2l1 24 1-19 1-5h2l1 10 1-10h2l1 22 1 50 1-58 1-14h2l1 13 1-6 1 7 1-14 1 1 1 110 1-111h2l1 8 1-8 1 22 1-22 1 3 1-3h5l1 11 1-11h11l1 2 1 6 1-4 1-3 1-1h7l1 6 1-6h2l1 3 1-3 1 3h1l1-3h1l1 11 1-11 1 40 1-30h1l1-10h3l1 1 1 24 1-21 1-4 1 4 1-4 1 9 1 59 1-68h2l1 75 1-61 1-5 1 35 1-41 1-3h5l1 10 1 16 1-12 1-14 1 14 1 31 1-39 1 4 1 30 1-40 1 92 1-71 1-21h2l1 58 1-42 1-16 1 8 1-8h1l1 9 1-9 1 8 1-8 1 2 1-2 1 23 1-18 1 37 1-42 1 9 1 9 1-15 1 178 1-181 1 35 1-15 1-20 1 9 1-7 1-2h9l1 21 1 45 1-24 1-40 1-2 1 16 1-12 1-4h4l1 5 1 6 1 6 1-17 1 9 1-9h4l1 8 1-8h3l1 29 1-27 1 21 1-23h4l1 65 1-65 1 1 1 3 1-3 1-1h1l1 2 1-2h3l1 19 1-19h4l1 23 1-23h6l1 3 1 24 1 2 1-29h2l1 19 1-19h1l1 2 1-2h2l1 3 1-3h1l1 23 1-23h10l1 12 1-12h4l1 14 1 63 1-17 1-46 1-14 1 1 1-1h3l1 14 1-14h11l1 10 1-3 1-7h2l1 3 1-3"/><path vector-effect="non-scaling-stroke" d="M0 0h4l1 11 1-11h4l1 18 1-18h3l1 3 1-3h1l1 27 1-9 1-18 1 8 1-2 1-6h10l1 3 1-1 1 5 1-5 1-2 1 48 1-5 1-43h1l1 12 1-9 1 15 1-18h6l1 18 1-18 1 9 1-9h2l1 33 1-33h1l1 9 1-9h8l1 7 1 9 1-16h4l1 6 1 75 1-71 1-10h3l1 6 1 30 1-22 1-14h5l1 6 1-6h7l1 3 1 3 1-6 1 40 1-24 1 5 1-21 1 7 1 15 1-7 1-5 1-10h3l1 6 1-6h5l1 8 1 49 1-57 1 8h2l1-7 1-1h7l1 24 1-24h2l1 7 1-1 1-6h8l1 30 1 42 1-72h1l1 21 1-20 1 2 1-3h4l1 6 1-6 1 2 1 5 1-7h4l1 12 1-12 1 144 1-99 1-27 1-6 1 4 1-7 1-9h3l1 5 1 15 1-20h3l1 12 1 3 1-8 1-7h2l1 17 1 29 1 4 1-50h2l1 9 1-9 1 1 1-1 1 19 1-19h1l1 38 1-28 1 14 1 22 1-46h5l1 2 1-2h2l1 3 1-3h3l1 18 1-18h5l1 7 1 7 1-14 1 5 1-1 1-4h1l1 5 1-5 1 1 1-1h2l1 4 1 2 1-6h2l1 1 1-1h1l1 7 1-7 1 8 1-8h2l1 13 1 3 1 31 1-43 1-2 1-2h1l1 10 1-10 1 4 1-4h4l1 3 1 4 1-7h1l1 1 1 48 1-33 1 2 1-18h10l1 148 1-148h7l1 3 1-2 1-1h1l1 14 1-3 1-6 1-5 1 7 1 22 1-29h3l1 4 1-4 1 19 1-14 1-5h3l1 3 1-3 1 2 1-2 1 85 1-33 1-52h7l1 18 1-14 1-4 1 1 1-1h12l1 4"/><path vector-effect="non-scaling-stroke" d="M0 7l1-7h1l1 29 1-24 1 8 1 64 1-77h4l1 2 1-2h21l1 1 1 15 1-1 1-10 1-5 1 28 1-28h5l1 2 1-2h3l1 15 1-15h5l1 7 1 1 1-8 1 25 1-25h3l1 10 1-2 1 4 1 5 1 20 1-37h1l1 19 1-19h2l1 5 1 12h1l1 42 1-54 1-5 1 15 1-15 1 8 1-8h3l1 1 1-1h7l1 7 1-1 1 26 1-32h4l1 22 1-9 1-13h8l1 9 1-9h1l1 16 1 7 1-15 1-8h2l1 56 1-56h5l1 5 1-2 1-3h4l1 23 1-23 1 7 1-7 1 1 1-1h1l1 20 1-4 1-13 1-3h1l1 19 1-19h13l1 10 1 12 1-22h4l1 1 1 8 1 9 1-16 1-2h1l1 7 1-7h1l1 14 1-14 1 9 1 52 1-61 1 3 1-2 1-1 1 22 1-22h1l1 3 1 16 1-19 1 3 1-3h10l1 7 1 2 1-2 1-7 1 1 1-1h1l1 5 1-5h1l1 6 1-5 1-1h2l1 14 1-14h4l1 3 1-3h3l1 22 1-22h6l1 9 1-9 1 17 1-17h6l1 16 1-16h2l1 3 1-3h2l1 2 1-2h1l1 5 1 17 1-22 1 6 1-6h3l1 2 1-2h4l1 7 1-7h3l1 3 1-3 1 13 1 4 1-3 1-13 1 6 1-7h6l1 3 1-3h1l1 47 1-38 1-9h2l1 23 1-23h7l1 13 1 6 1-19 1 15 1-15h5l1 14 1-9 1 3 1-8 1 58 1-28 1-30h8l1 4 1-4 1 13 1-13h2l1 5 1-5h16"/><path vector-effect="non-scaling-stroke" d="M0 0h1l1 3 1 88 1-75 1-16h1l1 24 1-18 1 15 1-11 1 61 1-68 1-3h5l1 21 1 5 1-26h6l1 6 1 2 1-6 1-2h3l1 3 1-3h7l1 7 1 5 1-12 1 7 1-7h1l1 7 1-7h3l1 17 1 6 1-20 1 10 1-13 1 12 1-12 1 50 1-50 1 3 1 1 1-1h1l1-3 1 4 1-4h2l1 24 1-8 1-16h2l1 22 1-22h4l1 32 1-32 1 5 1-5h1l1 41 1-27 1-3 1-11h8l1 9 1-9h2l1 8 1-8h11l1 32 1 8 1-40 1 10 1 3 1-13h2l1 19 1 52 1-58 1 20 1-30 1 32 1-4 1-31h7l1 4 1 1 1-5h9l1 6 1-6 1 19 1-19 1 1 1 4 1-5h3l1 84 1-68 1-16h1l1 6 1-6 1 4 1-4h2l1 1 1-1h1l1 2 1-2h3l1 19 1 9 1 23 1-35 1 44 1-60h1l1 11 1 1 1-12 1 6 1-6 1 28 1-20 1-8h9l1 1 1-1h1l1 3 1 18 1-19 1-2 1 3 1-3 1 13 1 11 1-6 1 115 1-99 1-32 1-2h1l1 2 1-2h10l1 37 1-28 1-9h4l1 19 1-19h1l1 13 1-12h1l1-1h1l1 9 1-1 1-8h4l1 15 1-15h1l1 4 1 7 1-11h1l1 5 1-5h1l1 10 1-10h1l1 6 1-2 1-4h13l1 6 1-6h1l1 27 1-27 1 17 1-17h1l1 25 1-25 1 2 1 2 1 1 1-5h2l1 5 1-5h4l1 7 1-7 1 7h1l1-2 1-5 1 4 1-4 1 16 1 49 1 77 1-139 1 39 1-35 1-3 1-4 1 9 1-9h5l1 8 1-8h1l1 12 1-12h1l1 19 1 23 1-42h3l1 2 1-2h1l1 3 1-3h2l1 5 1 4 1-9 1 2 1-2h4l1 2 1-2 1 2 1-2h1l1 1 1-1"/><path vector-effect="non-scaling-stroke" d="M0 0h2l1 29 1-29h5l1 5 1 27 1-23 1-9h2l1 4 1-4 1 11 1-7 1-4h7l1 2 1-2 1 4 1-4h5l1 14 1-10 1-4h13l1 3 1 37 1 3 1-17 1-20 1-6h1l1 3 1 13 1-16h2l1 9 1-5 1 6 1-10h1l1 30 1 28 1-58h2l1 35 1-10 1 10 1-35 1 3 1-3 1 42 1-38 1-1 1-3h8l1 8 1-8h1l1 5 1-5 1 18 1 9 1-25 1 16 1-18h9l1 33 1-33 1 90 1-90h2l1 29 1-25 1 2 1-6h2l1 6 1-6h1l1 33 1-33h1l1 3 1-2 1-1h3l1 12 1-12h2l1 2 1 8 1 4 1-14h2l1 7 1-5h1l1 28 1-29 1-1 1 45 1-45h3l1 28 1-7 1-21h1l1 19 1 5 1-24h4l1 7 1-6 1-1h4l1 2 1 1 1-3h6l1 2 1 4 1-6h3l1 13 1-13h1l1 4 1 11 1-10 1-5 1 32 1-19 1-10 1-3h1l1 18 1-18h1l1 31 1-26 1-5h9l1 25 1-25h2l1 6 1-6h5l1 3 1 19 1-22 1 7 1 2 1-9h2l1 3 1 34 1-30 1 7 1 30 1-44 1 2 1-1 1-1h1l1 30 1-23 1-7 1 7 1-2 1-5h2l1 21 1 2 1-23h2l1 3 1-2 1 5 1-5 1 21 1-2 1 24 1-36 1-8h3l1 9 1-9h7l1 5 1-5 1 8 1-8h3l1 3 1 4 1-7h13l1 17 1-17h1l1 2 1 15 1-2 1-1 1-10 1-4h1l1 3 1-3 1 10 1 15 1-25h1l1 15 1-8 1-7h7l1 10 1 31 1-23 1-15 1-3h1l1 20 1-10 1-1h1l1-9h1l1 18 1-11 1-7h5l1 3 1-3 1 5 1 8 1-11 1-2h6l1 19 1-19h2"/><path vector-effect="non-scaling-stroke" d="M0 0l1 30 1 21 1 16 1-58 1-9 1 4 1-4h3l1 32 1-16 1-16h6l1 8 1-8h16l1 3 1-3 1 6 1-6h8l1 11 1 141 1-152h1l1 18 1-18 1 10 1-10h4l1 19 1 24 1-39 1-4 1 20 1-9 1-11 1 5 1-5h3l1 44 1-44h2l1 7h1l1 1 1 24 1-32h12l1 1 1-1 1 15h1l1-14 1-1 1 7 1-7h1l1 17 1-17 1 2 1-2h1l1 4 1-4h1l1 13 1 8 1 6 1-27 1 5 1 28 1-13 1-20h6l1 7 1-7h2l1 10 1 12 1-8 1-8 1-6h2l1 3 1-3h13l1 3h1l1 77 1-48 1-31 1 29 1-29 1 13 1-13 1-1 1 4 1-2 1 4 1-6h1l1 63 1-60 1-3 1 2 1-2h1l1 8 1-8h4l1 7 1 14 1-21h9l1 12 1-12 1 8 1-7 1 4 1-5h5l1 6 1-6h1l1 6 1-6 1 42 1-42h4l1 5 1-1 1 5 1-9 1 9 1 11 1-20h4l1 5 1-5 1 5 1-5 1 13h1l1-12 1-1 1 2 1-1 1 2 1-3h8l1 38 1-38 1 6 1-4h1l1-2h3l1 1 1-1h1l1 45 1-45 1 1 1-1h7l1 35 1-32 1 6 1 45 1-54h4l1 3 1-3h5l1 1 1-1h5l1 2 1 29 1-31h1l1 12 1-12 1 7 1-7h3l1 52 1-29 1-3 1-20h1l1 3 1-3 1 12 1 4 1-16h5l1 2 1-2 1 6 1 13 1-19h1l1 6 1 1 1-5 1-2 1 10h1l1-10h1l1 8 1-8 1 2 1 10 1 26 1-38 1 1 1-1h12l1 4 1-4h2l1 3 1-3 1 11 1-6 1-5h4l1 1 1-1"/><path vector-effect="non-scaling-stroke" d="M0 16l1-16 1 15 1 8 1-23h2l1 13 1-13h1l1 17 1 32 1 44 1-93 1 2 1 8 1-10h1l1 6 1-3 1 40 1-43h4l1 8 1-4 1-4h2l1 6 1-6 1 4 1-4 1 6 1 9 1-14 1-1h7l1 12 1 6 1-18h1l1 13 1-13 1 17 1-15 1 12 1-14h3l1 17h1l1 2 1-19 1 6 1-3 1 11 1-14 1 3 1-3h2l1 9 1 6 1-15 1 19 1-4 1-15 1 11 1-3 1-8h2l1 6 1-6 1 15 1-7 1-8h2l1 26 1-26h3l1 10 1-10h9l1 5 1-5h1l1 15 1 8 1-22 1-1 1 18 1-18h4l1 16 1-16h6l1 9 1 19 1-28h2l1 6 1 23 1-25 1-4h2l1 16 1-16h4l1 31 1-31h2l1 5 1-5 1 17 1-17h2l1 2 1-2h1l1 4 1-2 1 15 1-3 1-3 1-8 1-3 1 4 1-1 1-3h1l1 122 1-121 1 5 1-6h1l1 6 1-6h1l1 6 1-1 1-5h1l1 98 1-98 1 1 1-1h1l1 15 1 2 1-17h1l1 17 1-1 1-16 1 10 1-10 1 7 1-2 1-5h3l1 3 1-3h3l1 49 1-49h1l1 10 1-10h4l1 3 1-3h1l1 10 1 26 1-34 1-2h2l1 3 1-1 1-2 1 16 1-7 1-9h3l1 13 1-13 1 40 1-40h2l1 5 1-5h8l1 1 1 5 1-2 1-2 1-1 1-1h2l1 18 1-11 1-7 1 3 1-3h3l1 5 1-5h4l1 62 1-62h1l1 5 1-2 1-3h1l1 5 1-5h2l1 4 1 8 1-9 1-3h7l1 43 1-36 1-7h2l1 6 1-6h4l1 1 1 7 1-8 1 10 1-10 1 10 1 17 1-27h6l1 34 1-34 1 12 1 39 1-51 1 5 1-5h7l1 83 1-83 1 1 1 16 1 9 1-26 1 35 1 103 1-18 1-112 1-8h7l1 1 1-1h6l1 5 1-5h3l1 4 1-4h2"/><path vector-effect="non-scaling-stroke" d="M0 0h6l1 14 1-8 1-6 1 17 1-17h4l1 6 1-6h1l1 58 1-38 1-20 1 11 1 1 1-12 1 6 1-5 1-1h9l1 8 1-8 1 4 1-4h2l1 11 1-7 1 25 1-10 1 6 1-25h4l1 9 1-9 1 59 1-20 1-33 1-1 1-5 1 29 1-29 1 50 1-3 1-47 1 8 1-8h7l1 1 1-1h5l1 59 1-58 1-1h1l1 16 1-16h7l1 14 1-12 1-2h1l1 53 1-46 1-7h2l1 27 1-8 1 36 1-51 1 2 1 16 1 7 1-21 1-8h1l1 28 1-23 1-5h3l1 3 1-1 1-2h3l1 28 1-28h1l1 34 1-22 1-12 1 23 1-23h9l1 24 1-24 1 7 1-7h10l1 6 1-6h3l1 10 1-3 1-7 1 51 1-51 1 7 1-7h3l1 1 1-1h6l1 14 1-9 1 27 1-29 1 8 1-11h7l1 14 1 17 1-27 1-4h3l1 4 1-4 1 44 1-13 1-31 1 7 1 22 1-29 1 8 1-8h7l1 2 1 31 1-9 1-24 1 21 1 13 1 18 1-46 1-6 1 2 1-2 1 14 1-14 1 1 1-1h10l1 17 1 27 1-35 1 40 1-30 1-19h1l1 5 1 1h1l1 2 1-6 1-2 1 21 1-13 1 58 1-24 1-37 1-5h4l1 36 1-24 1-12h2l1 15 1-15h4l1 7 1-7h1l1 2 1-1 1-1h6l1 8 1 45 1-42 1 67 1-78h10l1 36 1-36h3l1 1 1 19 1-7 1-13h5l1 9 1-4 1-5h2l1 6 1-6h9l1 6 1 1 1-7 1 20 1-20 1 19 1-19 1 18 1-17 1-1h4l1 37 1-16 1-21h4l1 14 1-3 1-11h7l1 1 1-1"/><path vector-effect="non-scaling-stroke" d="M0 0h1l1 37 1-37h6l1 7 1-7h2l1 10 1-10h2l1 5 1 32 1 5 1-29 1-3 1 1 1-8 1 3 1-6 1 7 1-7 1 2 1-2h5l1 13 1 5 1-18h1l1 17 1-17h7l1 9 1-9h9l1 13 1 8 1-4 1 9 1-26h1l1 1 1-1h2l1 5 1-5h1l1 3 1-3h3l1 27 1-14 1 2 1 2 1-2 1-15 1 26 1-26h2l1 13 1-13 1 55 1-51 1-4h6l1 4 1-4 1 3 1-3h1l1 9 1-9h12l1 32 1-18 1 18 1-9 1 29 1-52h3l1 8 1-3 1-5h1l1 15 1-15h4l1 61 1-61h1l1 1 1 1 1-2 1 2 1 7 1-9h6l1 1 1-1 1 1 1 12 1 9 1-22 1 16 1 34 1-50 1 11 1-11 1 25 1-21 1-4 1 37 1-16 1-20 1 8 1-9h4l1 11 1-7 1-4 1 9 1 24 1 37 1-70h2l1 29 1-23 1-6h2l1 9 1 45 1-54 1 1 1 23 1-16 1 9 1-17 1 8 1 7 1 21 1-36 1 26 1-19 1-3 1 10 1 39 1-53h1l1 4 1-4h2l1 19 1-19h2l1 10 1-10 1 68 1-68 1 3 1-3h3l1 3 1-3h2l1 5 1-1 1-3 1 29 1-24 1-4 1-2h4l1 8 1-8h3l1 1 1-1h4l1 3 1-3h12l1 19 1-9 1 89 1-5 1-92 1 26 1-28h7l1 1 1-1 1 9 1-9h1l1 11 1 20 1-27 1 6 1 15 1-25 1 2 1 31 1-33h9l1 27 1-4 1-23h11l1 29 1 81 1-110h3l1 4 1-4h2l1 29 1-29h1l1 8 1 41 1-31 1-18 1 7 1 58 1-55 1 18 1-1 1 33 1-50 1 10 1-20h1l1 20 1-20 1 57 1-5 1-52h6l1 8 1-8h1l1 15 1 1 1-16h1l1 24 1-24h2"/><path vector-effect="non-scaling-stroke" d="M0 0h5l1 10 1-10h3l1 40 1-22 1-18 1 2 1-2h6l1 10 1 7 1-17h8l1 3 1-3h5l1 5 1-5 1 31 1-28 1 2 1-5h5l1 32 1-32h1l1 8 1 45 1-19 1-31 1 16 1 45 1-11 1-50 1-3h8l1 9 1-9h1l1 31 1-30 1-1h15l1 22 1-9 1-13h6l1 11 1-5 1 42 1 9 1-57 1 7 1-7 1 28 1-6 1-22h9l1 27 1 6 1-33h4l1 30 1-30h1l1 23 1-23h5l1 42 1-35 1-7 1 22 1-22 1 17 1-17 1 12 1-12h5l1 31 1-31h4l1 32 1-1 1 75 1-106 1 13 1-2 1 25 1-36 1 2 1-2h4l1 2 1-2 1 8 1 16 1-24h3l1 8 1-8h5l1 3 1 1 1-4h1l1 50 1-45 1-5h2l1 89 1-83 1 18 1-21h1l1 3 1-6 1 7 1-3h1l1-4 1 1 1 1 1-2h1l1 1 1 19 1 6 1-26 1 5 1-3 1 2 1-4 1 3 1-3 1 19 1-14 1-5 1 5 1-5 1 59 1-17 1-27 1-15h3l1 4 1-4h2l1 9 1-7 1 3 1-2 1-3 1 13 1 19 1-20 1-6 1-2 1-4 1 35 1-35h3l1 2 1-2h1l1 77 1 35 1-112 1 3 1 4 1-7h1l1 22 1-22h3l1 27 1-16 1-11h4l1 3 1-3h2l1 12 1-11 1 4 1-1 1-4h5l1 21 1-9 1-12h1l1 19 1-19h2l1 3 1-3h17l1 132 1-79 1 30 1-83 1 16 1 10 1-26h2l1 2 1-2h3l1 13 1-13h3l1 6 1 7 1-13h7l1 3 1 8 1-3 1-8h2l1 2 1-2h4l1 12 1-12h4l1 6 1-1 1-5"/><path vector-effect="non-scaling-stroke" d="M0 0h2l1 9 1-5 1-3 1 17 1-18h2l1 14 1-3 1-11h5l1 4 1 6 1 30 1-40 1 39 1-25 1-14h1l1 3 1-3h1l1 1 1-1h4l1 8 1-8h8l1 55 1-55 1 10 1-10h2l1 18 1-2 1-16h4l1 3 1 11 1-1 1 33 1 20 1-47 1-19h6l1 85 1-85h1l1 21 1-21h1l1 9 1-9h11l1 26 1-26h5l1 20 1-20h1l1 10 1-10 1 5 1 5 1 12 1-22h2l1 27 1 22 1-49 1 4 1 1 1 1 1-6h3l1 8 1 3 1 12 1-23h1l1 7 1 5 1 4 1 2 1-12 1 76 1-74 1-6 1-2h5l1 20 1-15 1-5h2l1 19 1-16 1-3 1 4 1-4h4l1 9 1-9h4l1 22 1 98 1-115 1-5h3l1 24 1-11 1-13h2l1 10 1-10h2l1 71 1-70 1 132 1-133 1 54 1-27 1-27 1 7 1-7h2l1 5 1 7 1-2 1 1 1-11h1l1 5 1-5h10l1 37 1-33 1 2 1-6h1l1 4 1-4 1 3 1 34 1 28 1-63 1 2 1-4h5l1 19 1-19 1 27 1-27 1 23 1-18 1-5h6l1 40 1-7 1-33h2l1 1 1 1 1-2h1l1 6 1-6h12l1 4 1 18 1-22 1 2 1 4 1-6 1 9 1-5 1 20 1-14 1 9 1 3 1-18 1-4h7l1 12 1-8 1-4h1l1 18 1-4 1-14 1 1 1-1h3l1 37 1-37 1 6 1-6 1 5 1-4 1-1h5l1 28 1-28h4l1 28 1-25 1 1 1-4h4l1 3 1-3h1l1 5 1-1 1-4 1 11 1-3 1-8h3l1 10 1-10 1 7 1-7h6l1 58 1-16 1-42 1 5 1-5h1l1 17 1-17h1l1 55 1-18 1-35 1-2 1 11 1-11 1 41 1-18 1-8 1 14 1-27 1-2 1 14 1-6 1 2 1-10h3"/><path vector-effect="non-scaling-stroke" d="M0 0h1l1 21 1 13 1-29 1 8 1 18 1-3 1-12 1-16 1 10 1-10 1 5 1-5h2l1 22 1-22h1l1 21 1-2 1-19h2l1 1 1 7 1-3 1-5h4l1 5 1-5h2l1 24 1-5 1-19 1 7 1-7h1l1 9 1-9h15l1 6 1-6h1l1 2 1-2h10l1 12 1 2 1-14 1 19 1-19 1 9 1-9 1 17 1-17 1 14h1l1-14 1 12 1-12 1 29 1 1 1-2 1-28 1 12 1-9 1-3h9l1 150 1-122 1-28h2l1 52 1-52h1l1 13 1-13 1 64 1-37 1 26 1-46 1 41 1-40 1 32 1-37 1 19 1 24 1-32 1 10 1-24h4l1 6 1 102 1-98 1-10h1l1 48 1-48 1 4 1-4h1l1 4 1-4h9l1 7 1 17 1 27 1-49 1-2h1l1 69 1-68 1-1h2l1 5 1 83 1-88h3l1 22 1-18 1-4h3l1 27 1-27 1 19 1 5 1-15 1-9h3l1 6 1-6 1 32 1 5 1 31h1l1-21 1-25 1-22h1l1 3 1-3 1 11 1 1 1-12h5l1 7 1-7h5l1 34 1-34h1l1 1 1 13h1l1 162 1-176h1l1 7 1-7h2l1 25 1-24 1-1h1l1 1 1 1 1-2 1 6 1-6h6l1 3 1 42 1-37 1-2 1-6 1 3 1 52 1-55h1l1 3 1-3h1l1 32 1-32h5l1 26 1-11 1-15 1 3 1-3 1 13 1-13h14l1 3 1-3h1l1 3h1l1-2 1-1h4l1 8 1-8h1l1 18 1-18 1 5 1-5h3l1 17 1-17h3l1 8 1-4 1-4 1 7 1-7 1 4 1-4h7l1 6 1-6h9l1 20 1-17h1l1-3 1 7 1-7 1 52 1 80 1-14 1-116 1-2h5l1 25 1-13 1-12h5l1 38 1-22 1-16h1l1 6 1-6h5"/><path vector-effect="non-scaling-stroke" d="M0 0h1l1 55 1 5 1-50 1-10h1l1 42 1-42h2l1 24 1-20 1-4h5l1 14 1-11 1 1 1-4h7l1 5 1-5h4l1 9 1 2 1-1 1-10h3l1 1 1 13 1-14h7l1 5 1 6 1-11 1 16 1-13 1 5 1-8h2l1 13 1-13 1 4 1-4 1 6h1l1-6h6l1 4 1-4h2l1 9 1-9h3l1 14 1 15 1-13 1-16 1 15 1 1 1-16h4l1 1 1-1h1l1 37 1-26 1 9 1 12 1-25 1 36 1-43h3l1 3 1-3h9l1 34 1 3 1-27 1-3 1 23 1-26 1-4 1 9 1-9h1l1 1 1 15 1-16h3l1 10 1-2 1-8h2l1 31 1-31h6l1 6 1-6 1 13 1-13h5l1 24 1-24h4l1 4 1-4h2l1 35 1 62 1-83 1 14 1-19 1-9h4l1 1 1 24 1 96 1-64 1-57h3l1 13 1-12 1 2 1-3h9l1 4 1 61 1-65 1 65 1-65 1 4 1 20 1-10 1-14h1l1 17 1-10 1-7h2l1 19 1-19h2l1 13 1-13h1l1 3 1 7 1 7 1-17 1 20 1-17 1-3 1 7 1-7 1 13 1-4 1 7 1-16h1l1 1 1 8 1-9h7l1 2 1 48 1-48 1-1 1 4 1 87 1-77 1-2 1-13h4l1 5 1-5 1 4 1 9 1-13h2l1 54 1-54 1 7 1 27 1 63 1-91 1-5 1-1h4l1 1 1-1h3l1 13 1-13h1l1 6h1l1-6h1l1 13 1-13h1l1 12 1-2 1-10h4l1 4 1 6 1-10 1 15 1 3 1 9 1-27 1 2 1-2h2l1 6 1-6h16l1 2 1-2 1 32 1-8 1-24h2l1 25 1-12 1-13h1l1 40 1-34 1-6h7l1 4 1-3 1-1h1l1 5 1 13 1-18h1l1 4 1 3 1-5 1-2h5"/><path vector-effect="non-scaling-stroke" d="M0 0h7l1 7 1 8 1 36 1 145 1-196 1 1 1-1h4l1 17 1-17h1l1 5 1-5 1 4 1-4 1 1 1-1h5l1 4 1-4h5l1 11 1 23 1-34 1 3 1-3h1l1 17 1-17h3l1 18 1-18h7l1 22 1-22 1 27 1-27h9l1 5 1-3 1 8 1-5 1 61 1-58 1-8h1l1 25 1-20h1l1-5h2l1 11 1-11 1 9 1-9h2l1 8 1-8h2l1 2 1-2h4l1 57 1-57 1 11 1-11h7l1 9 1-9h1l1 7 1 7 1-14 1 4 1-4 1 14 1-14h4l1 16 1-16h1l1 7 1-5 1 2 1-4h1l1 2 1-2 1 6 1-6h9l1 7 1 8 1-15h1l1 5 1-5h1l1 2 1-2h1l1 10 1 4 1-14h3l1 17 1-9 1-2 1 20 1-15 1-9 1-1 1-1 1 39 1 10 1 57 1-106h2l1 27 1-19 1-2 1-6h2l1 22 1-22h1l1 37 1 20 1 1 1-36h1l1-22 1 23 1-21 1-2h1l1 11 1-11h1l1 2 1-2h1l1 10 1-10h2l1 2 1-2 1 1 1 16 1-2 1-1 1-14 1 9 1 127 1-122 1-14h6l1 3 1 7 1-10h1l1 1 1-1h2l1 10 1 7 1-17h2l1 1 1-1h1l1 29 1-29h2l1 17 1-17h2l1 10 1-8 1 4 1-6h1l1 12 1-3 1-9 1 12 1-12h1l1 8 1 23 1-25 1-6 1 13h1l1-1 1 141 1-118 1-35h4l1 17 1-9 1-6 1-2 1 1 1-1h1l1 33 1-33h8l1 13 1 10 1-23h9l1 4 1-4h9l1 3 1-3 1 16 1-16 1 9 1-9 1 53 1-53h7l1 4 1-4h1l1 2 1-2h4l1 19 1-19 1 10 1-5 1 1 1-6 1 6 1 16 1 5 1-5 1-21 1-1 1 3 1-3h6l1 28 1-26 1-2 1 1h1l1-1h1"/><path vector-effect="non-scaling-stroke" d="M0 0h1l1 52 1 19 1-69 1-2 1 49 1-22 1-27h3l1 17 1-17h4l1 73 1-65 1 42 1-40 1-1 1-9h7l1 4 1-4h2l1 5 1 3 1-8 1 3 1 3 1 6 1 29 1-16 1-25h1l1 28 1 29 1-29 1-28h2l1 9 1-9h3l1 23 1-23h18l1 4 1 33 1-25 1-12 1 14 1-14h3l1 22 1-12 1-10 1 23 1 30 1-49 1-4 1 9 1-9h5l1 8 1-2 1-6h8l1 8 1-4 1 24 1 50 1-78 1 29 1-24 1-5h5l1 16 1-13 1 4 1-7h1l1 19 1-19 1 7 1-1 1-6h3l1 5 1-5 1 6 1-6 1 2 1-2 1 21 1-21 1 4 1-4h3l1 165 1-165h5l1 19 1 13 1-28 1-3 1-1h1l1 18 1 3 1-13 1-8h2l1 22 1 3 1-3 1-22h1l1 3 1-3h2l1 13 1-13h2l1 7 1-7h2l1 9 1 7 1 11 1-8 1 15 1-28 1-6h3l1 6 1-5 1 1 1 3 1-5h6l1 12 1-12h4l1 9 1-9h1l1 25 1-25h1l1 38 1-38 1 2 1 2 1-4 1 2 1-2h7l1 5 1-5h4l1 8 1 9 1-2 1-15 1 7 1-7h3l1 2 1 18 1-20 1 4 1-4h2l1 42 1-28 1 141 1-101 1-22 1-32h3l1 1 1-1 1 12 1-12h3l1 14 1-9 1-3 1 15 1 17 1-31 1-3h1l1 2 1-2 1 12 1 130 1-139 1-3h2l1 3 1 30 1-33h12l1 19 1-14 1-5h2l1 10 1-2 1-8 1 3 1-2 1-1h1l1 2 1 2 1 42 1-13 1 80 1-106 1-7h4l1 4 1-4h1l1 7 1 38 1-30 1 5 1 6 1-26 1 4 1-4h7l1 2 1 50 1-52h1l1 37 1-37h4l1 15 1 9 1-24h5l1 2 1-2h3"/><path vector-effect="non-scaling-stroke" d="M0 0h1l1 15 1-3 1-12h6l1 44 1-17 1-27h13l1 8 1 10 1-15 1-3h1l1 9 1-9 1 6 1-6 1 31 1-31h1l1 8 1 16 1 8 1 1 1-23 1 27 1 4 1-41 1 4 1-4 1 3 1-3 1 32 1 60 1-92h1l1 15 1-15 1 1 1-1 1 10 1-10h1l1 9 1-9h3l1 11 1 1 1-12h1l1 40 1-32 1 20 1-28 1 12 1-12h9l1 15 1-15h8l1 23 1-17 1 10 1-16h1l1 18 1 1 1-10h1l1-9 1 7 1-2 1 24 1 6 1-35h2l1 34 1 7 1-41 1 4 1-4h2l1 36 1-36h4l1 2 1 17 1-19h3l1 1 1-1 1 2 1-2h1l1 9 1-9h2l1 1 1-1h2l1 3 1 2 1-5 1 5 1-5 1 33 1-33 1 11 1-4 1 150 1-156 1-1 1 33 1-33h6l1 25 1-25h1l1 6 1-2 1 50 1-54h1l1 2 1 14 1-16 1 1 1-1h3l1 9 1-5 1 2 1-3 1 18 1-15 1-2 1-1 1 2 1-5h1l1 9 1 64 1-73 1 6 1 25 1-24 1-7h3l1 1 1-1 1 11 1 34 1-36 1 4 1-13h6l1 10 1 38 1-30 1-11 1-7 1 8 1-8 1 72 1-72 1 58 1-23 1-8 1-27h7l1 2 1-2 1 2 1-2h1l1 8 1-8h1l1 1 1 7 1-8h4l1 25 1-25h1l1 3 1-3 1 59 1-59 1 159 1-149 1-10 1 3 1-3h2l1 15 1-15 1 15 1 57 1-70 1-2h3l1 31 1-31h1l1 4 1-3 1-1h29l1 6h1l1-6 1 31 1-31h3l1 36 1-18 1-18h3l1 3 1-3h1l1 1 1 2 1 42 1-37 1 13 1-21h6l1 14 1-14 1 8 1-8h3l1 12 1 5 1 3 1-17 1-3h12l1 24 1-23 1-1 1 1"/><path vector-effect="non-scaling-stroke" d="M0 0h5l1 2 1-2h8l1 3 1-3h1l1 6 1 39 1 8 1-53h4l1 6 1-6h8l1 8 1-8 1 9 1-3 1-6h3l1 19 1 9 1-28h3l1 35 1-35h7l1 3h1l1 14 1-5 1-12h3l1 4 1-4h6l1 2 1 19 1-21h2l1 58 1-43 1-5 1-9 1 10 1-11h2l1 21 1-21h1l1 34 1-25 1 6 1-15 1 13 1-13h2l1 12 1-4 1 15 1 50 1-67 1-6 1 2 1-2h1l1 16 1 1 1-17h1l1 6 1-6 1 7 1-7h5l1 26 1-26h1l1 5 1-5 1 29 1-29h8l1 14 1-14h11l1 3 1 2h1l1-5 1 40 1-40h7l1 12 1-9 1-3h2l1 51 1 125 1-164 1-12h2l1 2 1-2 1 21 1 25 1-23 1-23h7l1 45 1-45 1 3 1-3h4l1 3 1-3h1l1 1 1-1h7l1 2 1 3 1 12 1-17h5l1 33 1-33h1l1 1 1 13 1-14h2l1 15 1-15h4l1 1 1-1h2l1 14 1-14h4l1 2 1 108 1-33 1-77 1 12 1-8 1-4h8l1 9 1-9h2l1 5 1-2 1-3h1l1 4 1-4 1 6 1-6h3l1 3 1-3h2l1 4 1-4h1l1 1 1 6 1-7h1l1 6 1-6h9l1 16 1-16 1 2 1-2h5l1 38 1-26 1-12h2l1 2 1-2 1 14 1 54 1-64 1-4h5l1 7 1-7 1 50 1-47 1-3h2l1 1 1-1h1l1 16 1 1 1 17 1-22 1-12h6l1 11 1-11h3l1 6 1-2 1-4h1l1 32 1-32h2l1 19 1-19h3l1 2 1 6 1-8 1 5 1-5h1l1 3 1-3h1"/><path vector-effect="non-scaling-stroke" d="M0 0h2l1 40 1-40 1 16 1 12 1-28h3l1 43 1-29 1-14h3l1 11 1-8 1 24 1-27 1 2 1 39 1-41h4l1 9 1-5 1-4h2l1 7 1 1 1-6 1 8 1 5 1-12 1 7 1 7 1 22 1-20 1-19 1 26 1 4 1-5 1-25h2l1 14 1-14h2l1 28 1 21 1-17 1-32 1 9 1-9h6l1 8 1-6 1-2h2l1 19 1-7 1-12h4l1 14 1-14 1 20 1-12 1-8h2l1 24 1-24h2l1 147 1-118 1-29h4l1 51 1-51h4l1 13 1-4 1 3 1-9 1-3h3l1 12 1-12h5l1 28 1-28h4l1 15 1-15h2l1 24 1 1 1-25h2l1 3 1-3h3l1 21 1-21h3l1 3 1 10 1-13 1 1 1-1h5l1 21 1-20 1-1h2l1 51 1-51h4l1 29 1 2 1-11 1-5 1-12 1 43 1-46h1l1 27 1 8 1-8 1 17 1-44h5l1 1 1-1h7l1 4 1 2 1-3 1 27 1-30h1l1 26 1 5 1-28 1-3h2l1 1 1 13 1 14 1-1 1-18 1-9h3l1 4 1-4h2l1 5 1-5h2l1 18 1 6 1-9 1-15h9l1 1 1 2 1-3 1 39 1-39 1 2 1 38 1 39 1-78 1 2 1-3h12l1 4 1 24 1 16 1-33 1-5 1-5 1-1h2l1 8 1 23 1-31h1l1 1 1-1h9l1 5 1-5h5l1 26 1-1 1-25h1l1 3 1-3h1l1 9 1-9h13l1 5 1-5h6l1 7 1-7 1 13 1-13h6l1 3 1 2 1-5h1l1 6 1-1 1-4 1-1h2l1 19 1-11 1-8h7l1 42 1 9 1-51h16"/><path vector-effect="non-scaling-stroke" d="M0 0h1l1 22 1-22h1l1 9 1 31 1 8 1-48 1 5 1 83 1-78 1 9 1-19h2l1 4 1-4 1 2 1 52 1-26 1-28h3l1 4 1 1 1-5h2l1 9 1-9h3l1 8 1-5 1 3 1-6 1 13 1 9 1-22h3l1 28 1-28h3l1 40 1-30 1-10h2l1 15 1-15h16l1 21 1-21h1l1 10 1-10h2l1 33 1-33h3l1 6 1-6h1l1 8 1 17 1-25h4l1 3 1-3h6l1 66 1-66 1 5 1-5h1l1 40 1-34 1-6h6l1 8 1 5 1-13h1l1 6 1-6h3l1 17 1-17h7l1 29 1-29 1 9 1 1 1-10h7l1 2 1-2h3l1 43 1-43 1 56 1-56h3l1 90 1-81 1-9 1 18 1 17 1 19 1-54h1l1 1 1 22 1-4 1 40 1-59h1l1 1 1 1 1 20 1 35 1-56 1 12 1-9 1-4h1l1 17 1-17h3l1 15 1 3 1-12 1-6 1 13 1-13h8l1 3 1-3h1l1 110 1-104 1 10 1 11 1-27h1l1 1 1 24 1-25h1l1 50 1-32 1-18h4l1 15 1-15 1 7 1-7 1 179 1-160 1-19h3l1 12 1-12h1l1 9 1-9h4l1 4 1-4h3l1 47 1-47h3l1 10 1-7 1-2 1-1h1l1 25 1 23 1-39 1-6 1-3h7l1 51 1-51 1 16 1-16h10l1 13 1-13h4l1 55 1-3 1-42 1-10h2l1 21 1-18 1-3h10l1 4 1-4h9l1 66 1-50 1-4 1 26 1-38h7l1 20 1-20h4l1 22 1-22h5l1 3 1 37 1-40h1l1 6 1-6 1 2 1 3 1-5h2l1 4 1-4h3l1 8 1-8h3l1 2 1-2"/><path vector-effect="non-scaling-stroke" d="M0 0h7l1 12 1-4 1-8 1 37 1-20 1-8 1-4 1-5h2l1 5 1-5 1 14 1-14h8l1 2 1-2h1l1 12 1-6 1-6 1 2 1-2 1 20 1-20h4l1 5 1 15 1-20h4l1 27 1-9 1-18h5l1 7 1-7h6l1 4 1-4 1 33 1-33 1 19 1-19h1l1 24 1-21 1-3h4l1 17 1-10 1 3 1-4 1-6h2l1 20 1 11 1-31h1l1 12 1-12h2l1 26 1 55 1-55 1-26h4l1 121 1-109 1-10 1-2 1 7 1-7h2l1 15 1-15 1 11 1-11h5l1 5 1-5h2l1 29 1-29 1 20 1 18 1-38 1 17 1-17h5l1 24 1 15 1-39 1 6 1 12 1-8 1-10h4l1 16 1-12 1 27 1-20 1-4 1-7 1 2 1 3 1-4 1-1h4l1 1 1-1h2l1 16 1-16 1 70 1-70h3l1 4 1-4 1 2 1 24 1-23 1-3h5l1 117 1-117h3l1 5 1-5h3l1 6 1-6h4l1 87 1-87 1 67 1-59 1-8h12l1 3 1 104 1-106 1-1 1 2 1 94 1 8 1-97 1-3 1 2 1 8 1-5 1-9h6l1 5 1-5 1 1 1-1 1 17 1-17h3l1 31 1-31 1 8 1-8h7l1 71 1-71h3l1 2 1-2h6l1 103 1-90 1-13h3l1 1 1-1h1l1 4 1-4 1 37 1 96 1-133h9l1 43 1-34 1-7 1-2h2l1 5 1-5h1l1 34 1-34h4l1 5 1 15 1-2 1-18h4l1 13 1 8 1-21h1l1 4 1 11 1-8 1-7h5l1 32 1-7 1-25h11l1 7 1-7h2l1 10 1 12 1-22h16"/><path vector-effect="non-scaling-stroke" d="M0 0h7l1 9 1-9h1l1 5 1-5h1l1 3 1 2 1-4 1-1 1 26 1 1 1 56 1-83h8l1 9 1-9h8l1 13 1 17 1-30h1l1 19 1-10 1 4 1-1 1-12h3l1 22 1-22h2l1 7 1-7h2l1 41 1-41 1 25 1 3h1l1-28h5l1 31 1-31h3l1 15 1-15h2l1 8 1-8h5l1 3 1-3h10l1 27 1-27h2l1 4 1 36 1-40h1l1 2 1 36 1-38 1 45 1-45h2l1 14 1-14h2l1 16 1 29 1 48 1-93 1 10 1-10h1l1 13 1-13h2l1 17 1-4 1-11 1-2h6l1 3 1-1 1 6 1-8 1 5 1 78 1-83h2l1 6 1-5 1-1h6l1 3 1-1 1 4 1-6h8l1 35 1-30 1-5h2l1 1 1 3 1 3 1-7h3l1 7 1-7h3l1 3 1 17 1-17 1-3 1 61 1-58 1-3h10l1 10 1 1 1 20 1-31h1l1 5 1-2 1-3h4l1 12 1-12 1 2 1 1 1-3 1 17 1-16 1-1 1 24 1-24h1l1 28 1-28h3l1 3 1-3h1l1 38 1-36 1-2h3l1 40 1-40 1 3 1 2 1 97 1-46 1-41 1-5 1-3 1-7 1 2 1 21 1-23h4l1 1 1-1h1l1 2 1 39 1-41h4l1 56 1-48 1 3 1-11h1l1 4 1-4h3l1 4 1-4 1 7 1 6 1-13h1l1 10 1-7 1-3h3l1 5 1-5 1 41 1-14 1-13 1-14h2l1 3 1-3h2l1 2 1-2h11l1 1 1-1 1 3 1 57 1-49 1 19 1-30h1l1 5 1-5h3l1 5 1-5 1 111 1-91 1-6 1-14h1l1 17 1-17h3l1 1 1-1h7l1 5 1-4 1-1 1 5 1-5 1 24 1-12 1-5 1-7h6l1 2 1-2"/><path vector-effect="non-scaling-stroke" d="M0 0h2l1 6 1-6 1 13 1-13h8l1 4 1 3 1-7h2l1 14 1-9 1 17 1-21h1l1 3 1-4h10l1 7 1-7h3l1 9 1-9h1l1 27 1 20 1-44 1-3h1l1 60 1-60h2l1 10 1 50 1-37 1-23 1 27 1-18 1 17 1-20 1 93 1-71 1-28h8l1 9 1-9h6l1 21 1-21h7l1 11 1-11 1 47 1-47h1l1 1 1 15 1-16 1 22 1-22 1 71 1-71h1l1 12 1-12h10l1 10 1-10h5l1 64 1-64h3l1 39 1-19 1-20h7l1 4 1-4h9l1 2 1-2h2l1 56 1-56h6l1 11 1-11h2l1 47 1-41 1 2 1-8h1l1 43 1-31 1 14 1-17 1 57 1-51 1 7 1-12 1-10h2l1 27 1 58 1-85 1 5 1-5 1 25 1-25h1l1 127 1-127h3l1 22 1 5 1-20 1 11 1-12 1 14 1 5 1-6 1-19h4l1 18 1-18h1l1 7 1-4 1-3h1l1 47 1-47 1 1 1 96 1-71 1-26 1 1 1 4 1 16 1-11 1-7 1-3h6l1 3 1-3 1 14 1-14h5l1 62 1-3 1-50 1-9 1 18 1-15 1 21 1-24h2l1 1 1 20 1-21h2l1 6 1 26 1-22 1 11 1 11 1-23 1-3 1-3 1-3 1 29 1-23 1-6 1 111 1-37 1-54h1l1-18 1 5 1-7 1 8 1-8h5l1 1 1 2 1-3h4l1 41 1-12 1-29h8l1 10 1-10h1l1 23 1-18 1-5h8l1 2 1 3 1 54 1-59 1 2 1-2 1 25 1-6 1-19h13l1 9 1 40 1-49h4l1 6 1-3 1-3 1 20 1-20h5l1 2 1-2 1 8 1-8 1 2 1-2h3l1 19 1-19 1 3 1 1"/><path vector-effect="non-scaling-stroke" d="M0 0h7l1 16 1-16h9l1 21 1 1 1 7 1-21 1 11 1-19 1 4 1-4h1l1 3 1 2 1-5h2l1 5 1-5 1 4 1-4h1l1 2 1-2 1 25 1-8 1 9 1-19 1-7 1 8 1-8h3l1 15 1 34 1-39 1-3 1-7h5l1 9 1 14 1-23h1l1 2 1-2h2l1 4 1-4h3l1 4 1-4h2l1 11 1-7 1 16 1-20 1 14 1-14h10l1 15 1-12 1-3h1l1 9 1-9h7l1 4 1-4 1 39 1-39h3l1 11 1-11h3l1 3 1-3h7l1 9 1-9 1 16 1 2 1 12 1-23 1-3 1-4h1l1 55 1-32 1-23h5l1 6 1-6h2l1 3 1 54 1-57h5l1 6 1 18 1-20 1-4h1l1 15 1-15h5l1 32 1 71 1-72 1-22 1-9h1l1 16 1 1 1-10 1 15 1-18 1-2h1l1 3 1-5h1l1 16h1l1-16h1l1 20 1-20h4l1 18 1-14 1-3 1-1 1 20 1-20h1l1 1 1 42 1-43h1l1 1 1 8 1-9 1 9 1-9h6l1 98 1-71 1 9 1-36 1 2 1-2h7l1 23 1-23h3l1 5 1-5 1 2 1 3 1-5 1 1 1 16 1 2 1-19h5l1 8 1 71 1-43 1-33 1-3h1l1 9 1-9h1l1 13 1-13 1 14 1-14 1 89 1-89 1 5 1-5h1l1 17 1-17h1l1 6 1-6h8l1 1 1-1h7l1 27 1-27h2l1 15 1-15 1 3 1-3h12l1 22 1-14 1-8h6l1 31 1-9 1-22h4l1 28 1-28 1 5 1-1 1 130 1-105 1 1 1-30h1l1 20 1 20 1-40 1 33 1-4 1-29h7l1 13 1-13h4l1 1 1-1 1 6 1-6h3l1 4h1l1-4h1l1 1 1-1"/><path vector-effect="non-scaling-stroke" d="M0 6l1 3 1-9h20l1 39 1-39h4l1 9 1-9h2l1 7 1-7h8l1 4 1 2 1-6h1l1 9 1-7 1-2h5l1 11 1-10h1l1-1 1 5 1-5 1 17 1-5 1-12h4l1 13 1-13h6l1 9 1-9h3l1 23 1-23h4l1 1 1-1h8l1 18 1 13 1-31h1l1 5 1-5h1l1 4 1 24 1-28h10l1 15 1 10 1-25h2l1 3 1 7 1-5 1-3 1-2h2l1 5 1-5h3l1 1 1-1h17l1 7 1-7 1 2 1-2h2l1 4 1-1 1 7 1-10h7l1 5 1-5h4l1 30 1-24 1-1 1 13 1-18h1l1 19 1-19h1l1 18 1-18 1 1 1-1 1 5 1-5h1l1 4 1-4h1l1 5 1-5h8l1 3 1 1 1-4h3l1 85 1-80 1 8 1-10 1 11 1-14h4l1 1 1-1 1 1 1-1 1 15 1-15h1l1 2 1 36 1-38h2l1 1 1 87 1-88 1 20 1-20h2l1 15 1-15h1l1 5 1-5 1 22 1-22h4l1 1 1-1h2l1 31 1-26 1-5h9l1 53 1-48 1-2 1-3h3l1 18 1-18h1l1 1 1-1h10l1 2 1-2h11l1 56 1-56h2l1 9 1-6 1 5 1 2 1-10 1 2 1-2h1l1 6 1 17 1-23 1 9 1 51 1-37 1-6 1-17h12l1 43 1-28 1 96 1-92 1-19h3l1 7 1 6 1-13h1l1 3 1-3h8l1 1 1 8 1-9h1l1 3 1 1h1l1-4 1 1"/><path vector-effect="non-scaling-stroke" d="M0 0h1l1 37 1-19 1-18h4l1 12 1-8 1-4h6l1 4 1-4h11l1 3 1-3h4l1 8 1-8 1 6 1-6h2l1 5 1-2 1 14 1-17h4l1 20 1-20h1l1 15 1 13 1-28h2l1 9 1-9 1 24 1-24h2l1 14 1-14h4l1 27 1-27h9l1 6 1 7 1 11 1-24h1l1 23 1 17 1 11 1-44 1-7h1l1 2 1 8 1-10 1 5 1 3 1 9 1-17 1 6 1-6h10l1 44 1-44h4l1 42 1-42h1l1 13 1 95 1-71 1-37 1 9 1 9 1-11 1 4 1 19 1-28 1-2h9l1 18 1-18h1l1 2 1-2h4l1 9 1-9h1l1 6 1-1 1-5h2l1 4 1-4h1l1 9 1-9h1l1 43 1-43h1l1 17 1-17 1 12 1 41 1-53h3l1 1 1 26 1-12 1-5 1 1 1 12 1-16 1-7h3l1 55 1-48 1-7h1l1 14 1-14h1l1 11 1 18 1-29h7l1 11 1-4 1-7h5l1 17 1-17 1 2 1-2h1l1 12 1 6 1-18h1l1 8 1 14 1-22h2l1 6 1-6 1 22 1-22 1 31 1-31 1 2 1 1 1-3 1 16 1 13 1-29h6l1 3 1 27 1-4 1-26h1l1 17 1-17h17l1 59 1-54 1-5 1 8 1-8h2l1 9 1-9h6l1 1 1-1h3l1 12 1 24 1-36h5l1 2 1-2 1 1 1-1h4l1 5 1 1 1-6h2l1 16 1-16h6l1 59 1-59h18l1 15 1 2 1-3 1-14h2l1 38 1-26 1-12h1l1 8 1-6 1-2h6l1 5 1-5h1l1 23 1 9 1-32h4"/><path vector-effect="non-scaling-stroke" d="M0 0h1l1 51 1-51h19l1 6 1-6h16l1 10 1-10h1l1 13 1-13h2l1 4 1-4 1 12 1-12h2l1 16 1-16 1 9 1-9h3l1 5 1-5h1l1 6 1-6 1 1 1 29 1-30 1 7 1-7h2l1 51 1-29 1-22h3l1 5 1 21 1-25 1-1h2l1 9 1-9 1 3 1 27 1-8 1-22h4l1 3 1 5 1-8 1 19 1-19h4l1 16 1-16h2l1 7 1-7 1 4 1-4h1l1 18 1-13 1-5h1l1 19 1-19h4l1 12 1 8 1-18 1-2 1 46 1-4 1-42h5l1 30 1-17 1-1 1-12h2l1 19 1-19h4l1 43 1-43h3l1 1 1-1 1 16 1-16 1 22 1-8 1-14h9l1 25 1-22 1-3 1 2 1-2 1 2 1 9 1-11h1l1 147 1-34 1-27 1-86 1 25 1-25h1l1 6 1-5 1-1 1 78 1-68 1-10h2l1 12 1 74 1-86 1 37 1-28 1-9h1l1 7 1-7h4l1 10 1-8 1-2h1l1 1h1l1 47 1-28 1-20 1 20 1 3 1 61 1-79 1-1 1 31 1 5 1-24 1-3 1-1 1-4 1-8h7l1 21 1-21h3l1 9 1-9 1 31 1 19 1-41 1-9h12l1 34 1-25 1-9 1 1 1-1 1 20 1-6 1-14h1l1 17 1-6 1-11 1 31 1-22 1-9h4l1 1 1 5 1-6h1l1 6 1 2 1 6 1-14h9l1 5 1-5h13l1 43 1-17 1-26h2l1 4 1-3 1-1h4l1 11 1-10 1-1h1l1 5 1-5h2l1 16 1-16h1l1 52 1 6 1-55 1 7 1 14 1-10 1 8 1-1 1-20 1 8 1-9h12l1 8 1-8h1l1 6 1-6h3l1 11 1-11h2"/><path vector-effect="non-scaling-stroke" d="M0 0h1l1 32 1-32h1l1 20h1l1 12 1-32h1l1 13 1-3 1 19 1-23 1-6h4l1 8 1 56 1-43 1-21h11l1 9h1l1 4 1-9 1 2 1 5 1-1 1 9 1-11 1-7 1-1 1 6 1-6h3l1 13 1-13h2l1 6 1 36 1-28 1-14 1 8 1-8h1l1 29 1-29h6l1 4 1 9 1-13h4l1 7 1 17 1-18 1-6 1 17 1-17h5l1 4 1-4 1 22 1-22h1l1 3 1 8 1-8 1-3h6l1 7 1-7h2l1 5 1-5h10l1 23 1-23 1 16 1 16 1-32h1l1 8 1-8 1 22 1-8 1 4 1-18h2l1 13 1-9 1-4h2l1 5 1 46 1-51h2l1 33 1-33 1 14 1-14h2l1 18 1 123 1-110 1-27 1-4 1 2 1 20 1-22 1 15 1-15 1 26 1-6 1-20h3l1 3 1-3h5l1 1 1 6 1 33 1-34 1 7 1-12 1-1 1 25 1-25h4l1 17 1-12 1-5 1 15 1 16 1-31h2l1 18 1 18 1-36h1l1 4 1-4h1l1 6 1-6h2l1 5 1 8 1 6 1-19h4l1 2 1 9 1-7 1-4 1 5 1-5h1l1 28 1 12 1-21 1-3 1 199 1-214 1-1 1 6 1 25 1-31h7l1 2 1-2 1 5 1-5h3l1 50 1-50 1 14 1-14h11l1 12 1-12 1 11 1 1 1 24 1-29 1 2 1-4 1 1 1-3 1 7 1-10 1 4 1-4h5l1 1 1-1 1 4 1-4h3l1 4 1 12 1-16h2l1 24 1-5 1-19h1l1 27 1 2 1-29h9l1 10 1-10h9l1 9h1l1-9h7l1 4 1-4h1l1 24 1-21 1-3h5l1 11 1-11 1 29 1-29h1l1 4 1-4h1l1 2 1-2h6l1 3 1 99 1-102h3l1 14 1-9 1 1 1-6h3"/><path vector-effect="non-scaling-stroke" d="M0 0h1l1 16 1-16h2l1 13 1 1 1-5 1-9h6l1 4 1-4h2l1 48 1-35 1-13 1 3 1-3h2l1 6 1 2 1-8h1l1 2 1-2h8l1 6 1-6h27l1 13 1-13h6l1 2 1-2h1l1 54 1-47 1-7 1 8 1-8h2l1 13 1-13h2l1 10 1-10h2l1 6 1-6h2l1 6 1-6h2l1 34 1-34h6l1 39 1-21 1-13 1-5 1 2 1-2h1l1 33 1-33 1 11 1-11h3l1 18 1-18h1l1 87 1-87h6l1 4 1 9 1-13h14l1 8 1-8 1 5 1 2 1-7 1 7 1 1h1l1-8h4l1 123 1-25 1-42 1-33 1 4 1-19 1-8h6l1 83 1-83h4l1 12 1-12 1 10 1-10 1 3 1 30 1-33 1 77 1-77h6l1 8 1 9 1-17h2l1 5 1 2 1-7 1 3 1-3h2l1 8 1-6 1-2 1 1 1-1h4l1 67 1-67h1l1 22 1-13 1-9h17l1 52 1-52h7l1 28 1 1 1-29 1 29 1-16 1-13h1l1 5 1 18 1-6 1-17 1 4 1 38 1-6 1-33 1-3 1 5 1-5 1 8 1-8h9l1 2 1-2 1 7 1-6 1 13 1-14h1l1 26 1-26h1l1 38 1-38h5l1 1 1 38 1-39h5l1 25 1-25h7l1 36 1-36h1l1 11 1-4 1 6 1-8 1-5h1l1 2 1-2h3l1 8 1-8 1 13 1 4 1 10 1 7 1-20 1 2 1-16h13l1 147 1-123 1-24 1 13 1-13h2l1 9 1 27 1-36 1 5 1-3"/><path vector-effect="non-scaling-stroke" d="M0 0h3l1 4 1-4 1 14 1-14h3l1 18 1-18h5l1 10 1 20 1-30h1l1 24 1-8 1-16h4l1 2 1-2h6l1 3 1 7 1 5 1-5 1-10h5l1 9 1-9h1l1 4 1 20 1-24h9l1 18 1-18 1 1 1 15 1-16h2l1 9 1-9 1 36 1-36h5l1 18 1 5 1-17 1 1 1-4 1 4 1 40 1-47h3l1 13 1 14 1-27 1 6 1-6h9l1 24 1-16 1-8h3l1 10 1-10h2l1 15 1-15h3l1 9 1-9h11l1 69 1-69h3l1 9 1 24 1-17 1-16h1l1 19 1 9 1-5 1-23 1 3 1-3h9l1 9 1 45 1-52 1-2h2l1 19 1-19 1 2 1-2h3l1 8 1-8 1 2 1-2h2l1 17 1 73 1-90 1 25 1-25h1l1 8 1-8h2l1 45 1-35 1 40 1 7 1-57h4l1 10 1 9 1-19 1 31 1-31 1 4 1-4 1 44 1-29 1-3 1-12h7l1 9 1-8 1 10 1 9 1-20h1l1 13 1 17 1-13 1-17h7l1 5 1-2 1-3h2l1 28 1-28h5l1 32 1-3 1-29 1 3 1-1 1-2h3l1 6 1-6h9l1 44 1-37 1 22 1-27 1 15 1-17h4l1 4 1-4h5l1 3 1-3h9l1 7 1-7h1l1 21 1-21h7l1 12 1-9 1-3 1 3 1 10 1-13h2l1 3 1-1 1-2 1 1 1-1h3l1 58 1-38 1 8 1-28h3l1 3 1-3h1l1 11 1-11h8l1 53 1-16 1-30 1-7h2l1 82 1-70 1 16 1-10 1-18 1 1 1-1h5l1 2 1-2 1 15 1-4 1-11h2l1 3 1 4 1-7"/><path vector-effect="non-scaling-stroke" d="M0 0l1 1 1 13 1 53 1-67h6l1 18 1 34 1-50 1 1 1-3h4l1 6 1-6 1 4 1-1 1-3 1 2 1 8 1-4 1-6h10l1 5 1-5 1 42 1-42 1 35 1-35 1 19 1 14 1-33h11l1 4 1 5 1-9h2l1 3 1 12 1-15h4l1 2 1-2h13l1 6 1-5 1 10 1 18 1-29h6l1 7 1-7h2l1 5 1 10 1-15h5l1 14 1-14h2l1 3 1-3h2l1 10 1-5 1-5h12l1 3 1-3h3l1 11 1-11h1l1 12 1-12 1 12 1-12h7l1 2 1-2h4l1 7 1-7h7l1 4 1 2 1 27 1-29 1-2 1-2 1 22 1-22h2l1 1 1-1h4l1 13 1-13 1 2 1 9 1-11h1l1 125 1-119 1-2 1-4h3l1 1 1-1 1 1 1 10 1-10 1-1h14l1 17 1-17h7l1 4 1-4h1l1 2 1-2 1 12 1-12h5l1 1 1 98 1-6 1-85 1-8 1 11 1-8 1-3 1 3 1-1 1 6 1-7 1 1 1-2 1 17 1-17 1 3 1-3 1 3 1 20 1-17 1-6h1l1 3h1l1 135 1-138 1 5 1 65 1-34 1-36h5l1 15 1-15h3l1 1 1-1h9l1 33 1 43 1-76h1l1 10 1-10 1 3 1-3h1l1 2 1 9 1-11h3l1 24 1-19 1-5h1l1 35 1-16 1-19h6l1 6 1 21 1-27h9l1 3 1 20 1-23h5l1 6 1-6h5l1 21 1-21 1 9 1-9h2l1 2 1-2h2l1 14 1 1 1-15h9"/><path vector-effect="non-scaling-stroke" d="M0 0l1 13 1 33 1-1 1-45h1l1 22 1-22h2l1 19 1 8 1-27 1 3h1l1-3h3l1 59 1-59h5l1 6 1-6h1l1 7 1-7h2l1 2 1-2h6l1 21 1-21 1 2 1-2 1 56 1-28 1 7 1-31 1-1 1 9h1l1-10 1-2 1 22 1-22h6l1 15 1-15 1 2 1-2h8l1 3 1-3 1 4 1-4h2l1 29 1-29h1l1 9 1 37 1-39 1-3 1-4h8l1 16 1 9h1l1-3 1-11 1-11h1l1 9 1 47 1-56 1 7 1-7 1 30 1-30 1 23 1-23 1 16 1-15 1 9 1 48 1-58h1l1 7 1-7h7l1 6 1-6 1 8h1l1-8h3l1 36 1-35 1 17 1-18h1l1 4 1-4h5l1 2 1 9 1-11h3l1 4 1 32 1-36h1l1 62 1-62h11l1 27 1 29 1-47 1-9 1 34 1-34 1 4 1-4 1 7 1 24 1 42 1-73 1 11 1-11h1l1 22 1-22h4l1 8 1-8h1l1 12 1-12 1 17 1-3 1-14 1 5 1-5h2l1 9 1-9 1 20 1 21 1-41 1 1 1-1h4l1 3 1-3h4l1 17 1-14 1 5 1-8h2l1 67 1-65 1 9 1 4 1-15h7l1 77 1-73 1-1 1 4 1-7h1l1 95 1-91 1-4h1l1 4 1 5 1-9h2l1 1 1 44 1-41 1-4h4l1 24 1-19 1-4 1-1h14l1 1 1-1h4l1 1 1-1h2l1 40 1-33 1-7 1 143 1-66 1-74 1 2 1-2 1-3 1 5 1 1 1 25 1-6 1-25h5l1 133 1-133h5l1 8 1 28 1-16 1-20h8l1 20 1-12 1 17 1-2 1-23h4l1 41 1 39 1 33 1-113h5l1 7 1-7h1l1 29 1-22 1 10 1-17h13"/><path vector-effect="non-scaling-stroke" d="M0 0h1l1 63 1-63h3l1 10h1l1-2 1 50 1-42 1-4 1-10 1 8 1-10h2l1 2 1-2 1 29 1-29h3l1 8 1-8h11l1 5 1 1 1-6h4l1 131 1-125 1 15 1-21h3l1 35 1-35 1 9 1 40 1-37 1-8 1 6 1-10 1 7 1 13 1 33 1-53h2l1 6 1 2 1-8h1l1 46 1-46 1 6 1-6h1l1 22 1-22 1 7 1-7h1l1 35 1-35h6l1 89 1-36 1-49 1 6 1 24 1 3 1-29 1-8 1 8 1-8h10l1 2 1-2h7l1 6 1 6 1-9 1 16 1-13 1 13 1-19h3l1 5 1-5 1 19 1-19 1 12 1 5 1-17h3l1 8 1-8 1 8 1-8h2l1 10 1-10h2l1 2 1-2h2l1 2 1-2h4l1 10 1 52 1 24 1-60 1 2 1 8 1-36 1 11 1-11 1 7 1-6h1l1 39 1-40 1 7 1-7h5l1 6 1-6 1 1 1 17 1-11 1-7h1l1 10 1-10h1l1 1 1-1h1l1 4 1-4h6l1 2 1-2 1 3 1 19 1-8 1 25 1-31 1 30 1-38h4l1 3 1-3 1 6 1-4 1-2h3l1 1 1 2 1 17 1-16 1 3 1-7h7l1 4 1-4 1 3 1-3h3l1 17 1 6 1-23h4l1 9 1 13 1-22h7l1 40 1-40h1l1 10 1 11 1-20 1-1 1 7 1 25 1-32 1 14 1-14h7l1 1 1-1h1l1 6 1 3 1 14 1-23 1 20 1-20h2l1 2 1-2h1l1 31 1-31h3l1 1 1-1h2l1 8 1-8 1 58 1-58 1 5 1-5 1 1 1 3 1 9 1 7 1-6 1-14h2l1 2 1-2h13l1 36 1-33 1 4 1-7h5l1 31 1-18 1-6 1-7h1l1 41 1 9 1-27 1-23h5l1 5 1-5h2l1 5 1-3 1-2h3l1 19 1-14 1-5h1"/></g>
<polyline points="61.06,418.79 62.35,418.02 63.64,404.26 64.93,390.51 66.22,417.00 67.51,417.00 68.80,411.40 70.09,412.42 71.38,414.96 72.67,414.96 73.96,409.61 75.25,404.26 76.54,411.40 77.84,418.53 79.13,418.53 80.42,418.53 81.71,418.53 83.00,418.53 84.29,415.98 85.58,408.85 86.87,401.72 88.16,416.49 89.45,412.67 90.74,408.85 92.03,418.53 93.32,418.56 94.61,418.59 95.90,418.63 97.19,418.66 98.48,418.69 99.77,418.72 101.06,418.75 102.35,418.79 103.64,417.51 104.93,418.02 106.22,417.51 107.51,417.00 108.81,414.45 110.10,417.51 111.39,417.00 112.68,412.16 113.97,407.32 115.26,412.16 116.55,417.00 117.84,410.63 119.13,404.26 120.42,409.02 121.71,413.78 123.00,418.53 124.29,418.53 125.58,410.38 126.87,402.23 128.16,409.87 129.45,417.51 130.74,412.16 132.03,406.81 133.32,412.67 134.61,418.53 135.90,416.49 137.19,414.45 138.48,409.36 139.78,408.85 141.07,405.79 142.36,412.16 143.65,418.53 144.94,418.28 146.23,418.02 147.52,417.77 148.81,416.49 150.10,417.00 151.39,410.63 152.68,404.26 153.97,417.51 155.26,414.20 156.55,410.89 157.84,413.95 159.13,417.00 160.42,414.45 161.71,415.47 163.00,416.49 164.29,408.60 165.58,400.70 166.87,417.00 168.16,415.47 169.45,410.38 170.74,413.44 172.04,416.49 173.33,416.49 174.62,408.21 175.91,399.93 177.20,409.36 178.49,418.79 179.78,416.62 181.07,414.45 182.36,412.16 183.65,418.53 184.94,410.89 186.23,409.87 187.52,405.79 188.81,416.49 190.10,415.47 191.39,414.45 192.68,414.45 193.97,407.83 195.26,401.21 196.55,416.49 197.84,417.51 199.13,418.53 200.42,401.97 201.71,407.58 203.01,413.18 204.30,418.79 205.59,413.95 206.88,409.11 208.17,404.26 209.46,410.38 210.75,416.49 212.04,414.20 213.33,411.91 214.62,413.95 215.91,407.83 217.20,409.36 218.49,406.30 219.78,411.91 221.07,417.51 222.36,414.20 223.65,410.89 224.94,406.81 226.23,408.60 227.52,410.38 228.81,412.16 230.10,413.05 231.39,413.95 232.68,418.53 233.98,418.53 235.27,417.51 236.56,414.20 237.85,410.89 239.14,414.84 240.43,418.79 241.72,415.47 243.01,412.16 244.30,408.85 245.59,415.47 246.88,416.37 248.17,417.26 249.46,416.62 250.75,415.98 252.04,410.63 253.33,405.28 254.62,410.89 255.91,416.49 257.20,416.49 258.49,416.49 259.78,404.77 261.07,417.00 262.36,410.63 263.65,404.26 264.94,407.66 266.24,411.06 267.53,414.45 268.82,414.45 270.11,414.45 271.40,411.91 272.69,409.36 273.98,417.00 275.27,412.03 276.56,407.07 277.85,404.90 279.14,402.74 280.43,409.36 281.72,413.18 283.01,417.00 284.30,412.08 285.59,407.15 286.88,402.23 288.17,408.09 289.46,413.95 290.75,410.12 292.04,406.30 293.33,409.61 294.62,406.81 295.91,413.95 297.21,413.69 298.50,413.44 299.79,406.81 301.08,414.20 302.37,411.53 303.66,408.85 304.95,409.23 306.24,409.61 307.53,411.78 308.82,413.95 310.11,406.30 311.40,409.36 312.69,412.42 313.98,415.47 315.27,409.61 316.56,411.23 317.85,412.84 319.14,414.45 320.43,413.56 321.72,412.67 323.01,413.18 324.30,412.16 325.59,411.14 326.88,414.45 328.18,414.20 329.47,415.73 330.76,417.26 332.05,418.79 333.34,413.95 334.63,415.47 335.92,414.20 337.21,411.84 338.50,409.49 339.79,407.13 341.08,404.77 342.37,410.89 343.66,417.00 344.95,410.38 346.24,412.42 347.53,409.87 348.82,407.32 350.11,412.16 351.40,411.27 352.69,410.38 353.98,412.93 355.27,415.47 356.56,412.16 357.85,416.24 359.14,415.98 360.44,417.51 361.73,414.84 363.02,412.16 364.31,414.58 365.60,417.00 366.89,416.15 368.18,415.30 369.47,414.45 370.76,410.12 372.05,405.79 373.34,411.40 374.63,417.00 375.92,400.70 377.21,408.85 378.50,417.00 379.79,415.98 381.08,414.96 382.37,413.95 383.66,415.56 384.95,417.17 386.24,418.79 387.53,418.53 388.82,411.40 390.11,404.26 391.41,397.13 392.70,406.81 393.99,416.49 395.28,416.75 396.57,417.00 397.86,409.87 399.15,413.05 400.44,416.24 401.73,413.31 403.02,410.38 404.31,408.34 405.60,393.06 406.89,409.61 408.18,412.16 409.47,417.00 410.76,417.77 412.05,418.53 413.34,416.62 414.63,414.71 415.92,416.62 417.21,418.53 418.50,418.45 419.79,418.36 421.08,418.28 422.38,417.00 423.67,410.89 424.96,418.53 426.25,417.89 427.54,417.26 428.83,417.64 430.12,418.02 431.41,411.65 432.70,405.28 433.99,409.87 435.28,414.45 436.57,409.11 437.86,403.76 439.15,411.27 440.44,418.79 441.73,418.79 443.02,418.79 444.31,418.79 445.60,418.79 446.89,418.79 448.18,418.53 449.47,407.32 450.76,410.89 452.05,414.84 453.34,418.79 454.64,417.51 455.93,417.26 457.22,412.54 458.51,407.83 459.80,413.31 461.09,418.79 462.38,418.79 463.67,418.79 464.96,418.79 466.25,418.79 467.54,409.87 468.83,398.66 470.12,387.45 471.41,414.45 472.70,409.36 473.99,404.26 475.28,418.79 476.57,418.79 477.86,418.79 479.15,418.79 480.44,418.79 481.73,416.09 483.02,413.39 484.31,410.68 485.61,407.98 486.90,405.28 488.19,412.03 489.48,418.79 490.77,416.32 492.06,413.86 493.35,411.40 494.64,401.72 495.93,392.04 497.22,404.26 498.51,416.49 499.80,417.64 501.09,418.79 502.38,415.22 503.67,411.65 504.96,418.02 506.25,414.07 507.54,410.12 508.83,413.01 510.12,415.90 511.41,418.79 512.70,417.89 513.99,417.00 515.28,418.02 516.58,409.87 517.87,413.31 519.16,416.75 520.45,416.88 521.74,417.00 523.03,417.13 524.32,417.26 525.61,418.02 526.90,412.93 528.19,418.53 529.48,418.66 530.77,418.79" fill="none" stroke="#000" stroke-width="1.42" stroke-linejoin="round"/>
<rect x="38.0" y="31.5" width="515.75" height="405.8" fill="none" stroke="#333" stroke-width="1.07"/>
<line x1="34.3" x2="38.0" y1="419.55" y2="419.55" stroke="#333" stroke-width="1.07"/>
<text x="31.4" y="424.15" text-anchor="end" class="ax">0</text>
<line x1="34.3" x2="38.0" y1="317.65" y2="317.65" stroke="#333" stroke-width="1.07"/>
<text x="31.4" y="322.25" text-anchor="end" class="ax">2</text>
<line x1="34.3" x2="38.0" y1="215.75" y2="215.75" stroke="#333" stroke-width="1.07"/>
<text x="31.4" y="220.35" text-anchor="end" class="ax">4</text>
<line x1="34.3" x2="38.0" y1="113.85" y2="113.85" stroke="#333" stroke-width="1.07"/>
<text x="31.4" y="118.45" text-anchor="end" class="ax">6</text>
<line y1="437.3" y2="441.00" x1="61.06" x2="61.06" stroke="#333" stroke-width="1.07"/>
<text x="61.06" y="452.9" text-anchor="middle" class="ax">Jan 1993</text>
<line y1="437.3" y2="441.00" x1="177.20" x2="177.20" stroke="#333" stroke-width="1.07"/>
<text x="177.20" y="452.9" text-anchor="middle" class="ax">Apr 1993</text>
<line y1="437.3" y2="441.00" x1="294.62" x2="294.62" stroke="#333" stroke-width="1.07"/>
<text x="294.62" y="452.9" text-anchor="middle" class="ax">Jul 1993</text>
<line y1="437.3" y2="441.00" x1="413.34" x2="413.34" stroke="#333" stroke-width="1.07"/>
<text x="413.34" y="452.9" text-anchor="middle" class="ax">Oct 1993</text>
<line y1="437.3" y2="441.00" x1="532.06" x2="532.06" stroke="#333" stroke-width="1.07"/>
<text x="532.06" y="452.9" text-anchor="middle" class="ax">Jan 1994</text>
<text x="38.1" y="19.6" class="ti">Temporal Empirical Means</text>
<text x="296" y="469.7" text-anchor="middle" class="at">Time</text>
<text transform="translate(17.9,234.3) rotate(-90)" text-anchor="middle" class="at">Mean Precipitation</text>
<line x1="578.4" x2="596.8" y1="233.4" y2="233.4" stroke="#000" stroke-width="1.2"/>
<line x1="578.4" x2="596.8" y1="256.4" y2="256.4" stroke="#0000FF" stroke-width="1.2"/>
<text x="606.7" y="237.7" class="lg">Average</text>
<text x="606.7" y="260.8" class="lg">Observed</text>
</svg>
</body></html>
